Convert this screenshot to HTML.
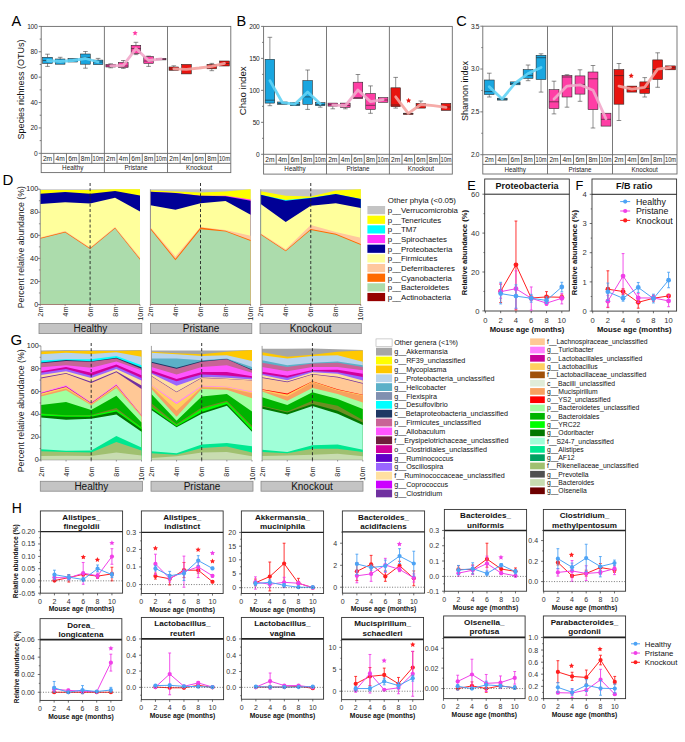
<!DOCTYPE html>
<html><head><meta charset="utf-8"><style>
html,body{margin:0;padding:0;background:#fff;}
svg{display:block;font-family:"Liberation Sans", sans-serif;}
</style></head><body>
<svg width="685" height="742" viewBox="0 0 685 742">
<rect x="0" y="0" width="685" height="742" fill="#fff"/>
<text x="11.5" y="26.2" font-size="14.5" text-anchor="start" fill="#000">A</text>
<g stroke="#6a6a6a" stroke-width="0.9" fill="none">
<rect x="41.2" y="26.4" width="189.6" height="146.2"/>
<line x1="104.4" y1="26.4" x2="104.4" y2="172.6"/>
<line x1="167.5" y1="26.4" x2="167.5" y2="172.6"/>
<line x1="41.2" y1="153.4" x2="230.8" y2="153.4"/>
<line x1="41.2" y1="163.4" x2="230.8" y2="163.4"/>
<line x1="53.84" y1="153.4" x2="53.84" y2="163.4"/>
<line x1="66.48" y1="153.4" x2="66.48" y2="163.4"/>
<line x1="79.12" y1="153.4" x2="79.12" y2="163.4"/>
<line x1="91.76" y1="153.4" x2="91.76" y2="163.4"/>
<line x1="117.02" y1="153.4" x2="117.02" y2="163.4"/>
<line x1="129.64" y1="153.4" x2="129.64" y2="163.4"/>
<line x1="142.26" y1="153.4" x2="142.26" y2="163.4"/>
<line x1="154.88" y1="153.4" x2="154.88" y2="163.4"/>
<line x1="180.16" y1="153.4" x2="180.16" y2="163.4"/>
<line x1="192.82" y1="153.4" x2="192.82" y2="163.4"/>
<line x1="205.48" y1="153.4" x2="205.48" y2="163.4"/>
<line x1="218.14" y1="153.4" x2="218.14" y2="163.4"/>
<line x1="38.7" y1="153.3" x2="41.2" y2="153.3"/>
<line x1="38.7" y1="127.92" x2="41.2" y2="127.92"/>
<line x1="38.7" y1="102.54" x2="41.2" y2="102.54"/>
<line x1="38.7" y1="77.16" x2="41.2" y2="77.16"/>
<line x1="38.7" y1="51.78" x2="41.2" y2="51.78"/>
<line x1="38.7" y1="26.4" x2="41.2" y2="26.4"/>
<line x1="39.7" y1="140.61" x2="41.2" y2="140.61"/>
<line x1="39.7" y1="115.23" x2="41.2" y2="115.23"/>
<line x1="39.7" y1="89.85" x2="41.2" y2="89.85"/>
<line x1="39.7" y1="64.47" x2="41.2" y2="64.47"/>
<line x1="39.7" y1="39.09" x2="41.2" y2="39.09"/>
</g>
<text x="37.3" y="155.6" font-size="6.6" text-anchor="end" fill="#222" letter-spacing="-0.3">0</text>
<text x="37.3" y="130.22" font-size="6.6" text-anchor="end" fill="#222" letter-spacing="-0.3">20</text>
<text x="37.3" y="104.84" font-size="6.6" text-anchor="end" fill="#222" letter-spacing="-0.3">40</text>
<text x="37.3" y="79.46" font-size="6.6" text-anchor="end" fill="#222" letter-spacing="-0.3">60</text>
<text x="37.3" y="54.08" font-size="6.6" text-anchor="end" fill="#222" letter-spacing="-0.3">80</text>
<text x="37.3" y="28.7" font-size="6.6" text-anchor="end" fill="#222" letter-spacing="-0.3">100</text>
<text x="47.52" y="160.7" font-size="6.6" text-anchor="middle" fill="#222">2m</text>
<text x="60.16" y="160.7" font-size="6.6" text-anchor="middle" fill="#222">4m</text>
<text x="72.8" y="160.7" font-size="6.6" text-anchor="middle" fill="#222">6m</text>
<text x="85.44" y="160.7" font-size="6.6" text-anchor="middle" fill="#222">8m</text>
<text x="98.08" y="160.7" font-size="6.6" text-anchor="middle" fill="#222" textLength="11" lengthAdjust="spacingAndGlyphs">10m</text>
<text x="72.8" y="170.3" font-size="6.3" text-anchor="middle" fill="#222">Healthy</text>
<text x="110.71" y="160.7" font-size="6.6" text-anchor="middle" fill="#222">2m</text>
<text x="123.33" y="160.7" font-size="6.6" text-anchor="middle" fill="#222">4m</text>
<text x="135.95" y="160.7" font-size="6.6" text-anchor="middle" fill="#222">6m</text>
<text x="148.57" y="160.7" font-size="6.6" text-anchor="middle" fill="#222">8m</text>
<text x="161.19" y="160.7" font-size="6.6" text-anchor="middle" fill="#222" textLength="11" lengthAdjust="spacingAndGlyphs">10m</text>
<text x="135.95" y="170.3" font-size="6.3" text-anchor="middle" fill="#222">Pristane</text>
<text x="173.83" y="160.7" font-size="6.6" text-anchor="middle" fill="#222">2m</text>
<text x="186.49" y="160.7" font-size="6.6" text-anchor="middle" fill="#222">4m</text>
<text x="199.15" y="160.7" font-size="6.6" text-anchor="middle" fill="#222">6m</text>
<text x="211.81" y="160.7" font-size="6.6" text-anchor="middle" fill="#222">8m</text>
<text x="224.47" y="160.7" font-size="6.6" text-anchor="middle" fill="#222" textLength="11" lengthAdjust="spacingAndGlyphs">10m</text>
<text x="199.15" y="170.3" font-size="6.3" text-anchor="middle" fill="#222">Knockout</text>
<text x="23.8" y="89.5" font-size="9.3" text-anchor="middle" fill="#111" transform="rotate(-90 23.8 89.5)" textLength="100" lengthAdjust="spacingAndGlyphs">Species richness (OTUs)</text>
<g stroke="#222" stroke-width="0.55">
<line x1="47.52" y1="54.2" x2="47.52" y2="57.3" stroke="#333" stroke-width="0.55"/>
<line x1="45.22" y1="54.2" x2="49.82" y2="54.2" stroke="#333" stroke-width="0.55"/>
<line x1="47.52" y1="66.4" x2="47.52" y2="63.4" stroke="#333" stroke-width="0.55"/>
<line x1="45.22" y1="66.4" x2="49.82" y2="66.4" stroke="#333" stroke-width="0.55"/>
<rect x="42.72" y="57.3" width="9.61" height="6.1" fill="#19a6e0" stroke="#222" stroke-width="0.55"/>
<line x1="42.72" y1="60.5" x2="52.32" y2="60.5" stroke="#222" stroke-width="0.6"/>
</g>
<g stroke="#222" stroke-width="0.55">
<line x1="60.16" y1="57.3" x2="60.16" y2="59" stroke="#333" stroke-width="0.55"/>
<line x1="57.86" y1="57.3" x2="62.46" y2="57.3" stroke="#333" stroke-width="0.55"/>
<rect x="55.36" y="59" width="9.61" height="5.2" fill="#19a6e0" stroke="#222" stroke-width="0.55"/>
<line x1="55.36" y1="62" x2="64.96" y2="62" stroke="#222" stroke-width="0.6"/>
</g>
<g stroke="#222" stroke-width="0.55">
<rect x="68" y="58.5" width="9.61" height="3.5" fill="#19a6e0" stroke="#222" stroke-width="0.55"/>
<line x1="68" y1="60.5" x2="77.6" y2="60.5" stroke="#222" stroke-width="0.6"/>
</g>
<g stroke="#222" stroke-width="0.55">
<line x1="85.44" y1="51.5" x2="85.44" y2="54" stroke="#333" stroke-width="0.55"/>
<line x1="83.14" y1="51.5" x2="87.74" y2="51.5" stroke="#333" stroke-width="0.55"/>
<line x1="85.44" y1="68.2" x2="85.44" y2="64.2" stroke="#333" stroke-width="0.55"/>
<line x1="83.14" y1="68.2" x2="87.74" y2="68.2" stroke="#333" stroke-width="0.55"/>
<rect x="80.64" y="54" width="9.61" height="10.2" fill="#19a6e0" stroke="#222" stroke-width="0.55"/>
<line x1="80.64" y1="57.4" x2="90.24" y2="57.4" stroke="#222" stroke-width="0.6"/>
</g>
<g stroke="#222" stroke-width="0.55">
<line x1="98.08" y1="58.4" x2="98.08" y2="60.1" stroke="#333" stroke-width="0.55"/>
<line x1="95.78" y1="58.4" x2="100.38" y2="58.4" stroke="#333" stroke-width="0.55"/>
<rect x="93.28" y="60.1" width="9.61" height="4.5" fill="#19a6e0" stroke="#222" stroke-width="0.55"/>
<line x1="93.28" y1="62" x2="102.88" y2="62" stroke="#222" stroke-width="0.6"/>
</g>
<g stroke="#222" stroke-width="0.55">
<line x1="110.71" y1="63.8" x2="110.71" y2="64.4" stroke="#333" stroke-width="0.55"/>
<line x1="108.41" y1="63.8" x2="113.01" y2="63.8" stroke="#333" stroke-width="0.55"/>
<line x1="110.71" y1="67.8" x2="110.71" y2="67" stroke="#333" stroke-width="0.55"/>
<line x1="108.41" y1="67.8" x2="113.01" y2="67.8" stroke="#333" stroke-width="0.55"/>
<rect x="105.91" y="64.4" width="9.59" height="2.6" fill="#ff3ea5" stroke="#222" stroke-width="0.55"/>
<line x1="105.91" y1="65.8" x2="115.51" y2="65.8" stroke="#222" stroke-width="0.6"/>
</g>
<g stroke="#222" stroke-width="0.55">
<line x1="123.33" y1="60.5" x2="123.33" y2="62.4" stroke="#333" stroke-width="0.55"/>
<line x1="121.03" y1="60.5" x2="125.63" y2="60.5" stroke="#333" stroke-width="0.55"/>
<line x1="123.33" y1="68.4" x2="123.33" y2="67.4" stroke="#333" stroke-width="0.55"/>
<line x1="121.03" y1="68.4" x2="125.63" y2="68.4" stroke="#333" stroke-width="0.55"/>
<rect x="118.53" y="62.4" width="9.59" height="5" fill="#ff3ea5" stroke="#222" stroke-width="0.55"/>
<line x1="118.53" y1="66" x2="128.13" y2="66" stroke="#222" stroke-width="0.6"/>
</g>
<g stroke="#222" stroke-width="0.55">
<line x1="135.95" y1="42.3" x2="135.95" y2="45.3" stroke="#333" stroke-width="0.55"/>
<line x1="133.65" y1="42.3" x2="138.25" y2="42.3" stroke="#333" stroke-width="0.55"/>
<line x1="135.95" y1="54.6" x2="135.95" y2="53.6" stroke="#333" stroke-width="0.55"/>
<line x1="133.65" y1="54.6" x2="138.25" y2="54.6" stroke="#333" stroke-width="0.55"/>
<rect x="131.15" y="45.3" width="9.59" height="8.3" fill="#ff3ea5" stroke="#222" stroke-width="0.55"/>
<line x1="131.15" y1="48.6" x2="140.75" y2="48.6" stroke="#222" stroke-width="0.6"/>
</g>
<g stroke="#222" stroke-width="0.55">
<line x1="148.57" y1="56.1" x2="148.57" y2="56.5" stroke="#333" stroke-width="0.55"/>
<line x1="146.27" y1="56.1" x2="150.87" y2="56.1" stroke="#333" stroke-width="0.55"/>
<line x1="148.57" y1="66.4" x2="148.57" y2="63.4" stroke="#333" stroke-width="0.55"/>
<line x1="146.27" y1="66.4" x2="150.87" y2="66.4" stroke="#333" stroke-width="0.55"/>
<rect x="143.77" y="56.5" width="9.59" height="6.9" fill="#ff3ea5" stroke="#222" stroke-width="0.55"/>
<line x1="143.77" y1="61" x2="153.37" y2="61" stroke="#222" stroke-width="0.6"/>
</g>
<g stroke="#222" stroke-width="0.55">
<rect x="156.39" y="58.5" width="9.59" height="1.4" fill="#ff3ea5" stroke="#222" stroke-width="0.55"/>
<line x1="156.39" y1="59.2" x2="165.99" y2="59.2" stroke="#222" stroke-width="0.6"/>
</g>
<g stroke="#222" stroke-width="0.55">
<line x1="173.83" y1="65.8" x2="173.83" y2="67" stroke="#333" stroke-width="0.55"/>
<line x1="171.53" y1="65.8" x2="176.13" y2="65.8" stroke="#333" stroke-width="0.55"/>
<rect x="169.02" y="67" width="9.62" height="3.3" fill="#e8140f" stroke="#222" stroke-width="0.55"/>
<line x1="169.02" y1="69" x2="178.64" y2="69" stroke="#222" stroke-width="0.6"/>
</g>
<g stroke="#222" stroke-width="0.55">
<rect x="181.68" y="64.4" width="9.62" height="9.5" fill="#e8140f" stroke="#222" stroke-width="0.55"/>
<line x1="181.68" y1="69" x2="191.3" y2="69" stroke="#222" stroke-width="0.6"/>
</g>
<g stroke="#222" stroke-width="0.55">
<line x1="211.81" y1="63.4" x2="211.81" y2="64.4" stroke="#333" stroke-width="0.55"/>
<line x1="209.51" y1="63.4" x2="214.11" y2="63.4" stroke="#333" stroke-width="0.55"/>
<line x1="211.81" y1="70.7" x2="211.81" y2="68.8" stroke="#333" stroke-width="0.55"/>
<line x1="209.51" y1="70.7" x2="214.11" y2="70.7" stroke="#333" stroke-width="0.55"/>
<rect x="207" y="64.4" width="9.62" height="4.4" fill="#e8140f" stroke="#222" stroke-width="0.55"/>
<line x1="207" y1="66.5" x2="216.62" y2="66.5" stroke="#222" stroke-width="0.6"/>
</g>
<g stroke="#222" stroke-width="0.55">
<rect x="219.66" y="61" width="9.62" height="5" fill="#e8140f" stroke="#222" stroke-width="0.55"/>
<line x1="219.66" y1="63.5" x2="229.28" y2="63.5" stroke="#222" stroke-width="0.6"/>
</g>
<polyline points="47.52,60.5 60.16,61.5 72.8,60.5 85.44,58.5 98.08,62" fill="none" stroke="#62d4f6" stroke-width="2.8" stroke-linejoin="round" stroke-linecap="round" opacity="0.9"/>
<polyline points="110.71,65.8 123.33,65.4 135.95,48.6 148.57,60.5 161.19,58.9" fill="none" stroke="#f2a9cb" stroke-width="2.8" stroke-linejoin="round" stroke-linecap="round" opacity="0.9"/>
<polyline points="173.83,68.8 186.49,69.3 199.15,68 211.81,66.4 224.47,63.4" fill="none" stroke="#f5a3a0" stroke-width="2.8" stroke-linejoin="round" stroke-linecap="round" opacity="0.9"/>
<polygon points="135.1,30.42 135.88,32.11 137.72,32.33 136.36,33.58 136.72,35.4 135.1,34.49 133.48,35.4 133.84,33.58 132.48,32.33 134.32,32.11" fill="#ff3ea5" stroke="none" stroke-width="0.5"/>
<text x="236.5" y="26.2" font-size="14.5" text-anchor="start" fill="#000">B</text>
<g stroke="#6a6a6a" stroke-width="0.9" fill="none">
<rect x="263.6" y="26.4" width="188.7" height="147.7"/>
<line x1="326.5" y1="26.4" x2="326.5" y2="174.1"/>
<line x1="389.4" y1="26.4" x2="389.4" y2="174.1"/>
<line x1="263.6" y1="154.3" x2="452.3" y2="154.3"/>
<line x1="263.6" y1="164.2" x2="452.3" y2="164.2"/>
<line x1="276.18" y1="154.3" x2="276.18" y2="164.2"/>
<line x1="288.76" y1="154.3" x2="288.76" y2="164.2"/>
<line x1="301.34" y1="154.3" x2="301.34" y2="164.2"/>
<line x1="313.92" y1="154.3" x2="313.92" y2="164.2"/>
<line x1="339.08" y1="154.3" x2="339.08" y2="164.2"/>
<line x1="351.66" y1="154.3" x2="351.66" y2="164.2"/>
<line x1="364.24" y1="154.3" x2="364.24" y2="164.2"/>
<line x1="376.82" y1="154.3" x2="376.82" y2="164.2"/>
<line x1="401.98" y1="154.3" x2="401.98" y2="164.2"/>
<line x1="414.56" y1="154.3" x2="414.56" y2="164.2"/>
<line x1="427.14" y1="154.3" x2="427.14" y2="164.2"/>
<line x1="439.72" y1="154.3" x2="439.72" y2="164.2"/>
<line x1="261.1" y1="154.3" x2="263.6" y2="154.3"/>
<line x1="261.1" y1="122.33" x2="263.6" y2="122.33"/>
<line x1="261.1" y1="90.35" x2="263.6" y2="90.35"/>
<line x1="261.1" y1="58.38" x2="263.6" y2="58.38"/>
<line x1="261.1" y1="26.4" x2="263.6" y2="26.4"/>
<line x1="262.1" y1="138.31" x2="263.6" y2="138.31"/>
<line x1="262.1" y1="106.34" x2="263.6" y2="106.34"/>
<line x1="262.1" y1="74.36" x2="263.6" y2="74.36"/>
<line x1="262.1" y1="42.39" x2="263.6" y2="42.39"/>
</g>
<text x="259.4" y="156.6" font-size="6.6" text-anchor="end" fill="#222" letter-spacing="-0.3">0</text>
<text x="259.4" y="124.63" font-size="6.6" text-anchor="end" fill="#222" letter-spacing="-0.3">50</text>
<text x="259.4" y="92.65" font-size="6.6" text-anchor="end" fill="#222" letter-spacing="-0.3">100</text>
<text x="259.4" y="60.68" font-size="6.6" text-anchor="end" fill="#222" letter-spacing="-0.3">150</text>
<text x="259.4" y="28.7" font-size="6.6" text-anchor="end" fill="#222" letter-spacing="-0.3">200</text>
<text x="269.89" y="161.55" font-size="6.6" text-anchor="middle" fill="#222">2m</text>
<text x="282.47" y="161.55" font-size="6.6" text-anchor="middle" fill="#222">4m</text>
<text x="295.05" y="161.55" font-size="6.6" text-anchor="middle" fill="#222">6m</text>
<text x="307.63" y="161.55" font-size="6.6" text-anchor="middle" fill="#222">8m</text>
<text x="320.21" y="161.55" font-size="6.6" text-anchor="middle" fill="#222" textLength="11" lengthAdjust="spacingAndGlyphs">10m</text>
<text x="295.05" y="171.45" font-size="6.3" text-anchor="middle" fill="#222">Healthy</text>
<text x="332.79" y="161.55" font-size="6.6" text-anchor="middle" fill="#222">2m</text>
<text x="345.37" y="161.55" font-size="6.6" text-anchor="middle" fill="#222">4m</text>
<text x="357.95" y="161.55" font-size="6.6" text-anchor="middle" fill="#222">6m</text>
<text x="370.53" y="161.55" font-size="6.6" text-anchor="middle" fill="#222">8m</text>
<text x="383.11" y="161.55" font-size="6.6" text-anchor="middle" fill="#222" textLength="11" lengthAdjust="spacingAndGlyphs">10m</text>
<text x="357.95" y="171.45" font-size="6.3" text-anchor="middle" fill="#222">Pristane</text>
<text x="395.69" y="161.55" font-size="6.6" text-anchor="middle" fill="#222">2m</text>
<text x="408.27" y="161.55" font-size="6.6" text-anchor="middle" fill="#222">4m</text>
<text x="420.85" y="161.55" font-size="6.6" text-anchor="middle" fill="#222">6m</text>
<text x="433.43" y="161.55" font-size="6.6" text-anchor="middle" fill="#222">8m</text>
<text x="446.01" y="161.55" font-size="6.6" text-anchor="middle" fill="#222" textLength="11" lengthAdjust="spacingAndGlyphs">10m</text>
<text x="420.85" y="171.45" font-size="6.3" text-anchor="middle" fill="#222">Knockout</text>
<text x="246" y="90.8" font-size="9.3" text-anchor="middle" fill="#111" transform="rotate(-90 246 90.8)" textLength="49" lengthAdjust="spacingAndGlyphs">Chao index</text>
<g stroke="#222" stroke-width="0.55">
<line x1="269.89" y1="37.3" x2="269.89" y2="59.3" stroke="#333" stroke-width="0.55"/>
<line x1="267.59" y1="37.3" x2="272.19" y2="37.3" stroke="#333" stroke-width="0.55"/>
<line x1="269.89" y1="105.7" x2="269.89" y2="103.1" stroke="#333" stroke-width="0.55"/>
<line x1="267.59" y1="105.7" x2="272.19" y2="105.7" stroke="#333" stroke-width="0.55"/>
<rect x="265.11" y="59.3" width="9.56" height="43.8" fill="#19a6e0" stroke="#222" stroke-width="0.55"/>
<line x1="265.11" y1="100.2" x2="274.67" y2="100.2" stroke="#222" stroke-width="0.6"/>
</g>
<g stroke="#222" stroke-width="0.55">
<rect x="277.69" y="102" width="9.56" height="2.3" fill="#19a6e0" stroke="#222" stroke-width="0.55"/>
<line x1="277.69" y1="103.5" x2="287.25" y2="103.5" stroke="#222" stroke-width="0.6"/>
</g>
<g stroke="#222" stroke-width="0.55">
<rect x="290.27" y="102.7" width="9.56" height="3" fill="#19a6e0" stroke="#222" stroke-width="0.55"/>
<line x1="290.27" y1="104.5" x2="299.83" y2="104.5" stroke="#222" stroke-width="0.6"/>
</g>
<g stroke="#222" stroke-width="0.55">
<line x1="307.63" y1="70" x2="307.63" y2="80.6" stroke="#333" stroke-width="0.55"/>
<line x1="305.33" y1="70" x2="309.93" y2="70" stroke="#333" stroke-width="0.55"/>
<line x1="307.63" y1="109.4" x2="307.63" y2="104.3" stroke="#333" stroke-width="0.55"/>
<line x1="305.33" y1="109.4" x2="309.93" y2="109.4" stroke="#333" stroke-width="0.55"/>
<rect x="302.85" y="80.6" width="9.56" height="23.7" fill="#19a6e0" stroke="#222" stroke-width="0.55"/>
<line x1="302.85" y1="96.9" x2="312.41" y2="96.9" stroke="#222" stroke-width="0.6"/>
</g>
<g stroke="#222" stroke-width="0.55">
<line x1="320.21" y1="107.2" x2="320.21" y2="105.7" stroke="#333" stroke-width="0.55"/>
<line x1="317.91" y1="107.2" x2="322.51" y2="107.2" stroke="#333" stroke-width="0.55"/>
<rect x="315.43" y="102.7" width="9.56" height="3" fill="#19a6e0" stroke="#222" stroke-width="0.55"/>
<line x1="315.43" y1="104.5" x2="324.99" y2="104.5" stroke="#222" stroke-width="0.6"/>
</g>
<g stroke="#222" stroke-width="0.55">
<line x1="332.79" y1="108.8" x2="332.79" y2="106.1" stroke="#333" stroke-width="0.55"/>
<line x1="330.49" y1="108.8" x2="335.09" y2="108.8" stroke="#333" stroke-width="0.55"/>
<rect x="328.01" y="103.1" width="9.56" height="3" fill="#ff3ea5" stroke="#222" stroke-width="0.55"/>
<line x1="328.01" y1="104.6" x2="337.57" y2="104.6" stroke="#222" stroke-width="0.6"/>
</g>
<g stroke="#222" stroke-width="0.55">
<line x1="345.37" y1="108.8" x2="345.37" y2="107.4" stroke="#333" stroke-width="0.55"/>
<line x1="343.07" y1="108.8" x2="347.67" y2="108.8" stroke="#333" stroke-width="0.55"/>
<rect x="340.59" y="103.1" width="9.56" height="4.3" fill="#ff3ea5" stroke="#222" stroke-width="0.55"/>
<line x1="340.59" y1="105.5" x2="350.15" y2="105.5" stroke="#222" stroke-width="0.6"/>
</g>
<g stroke="#222" stroke-width="0.55">
<line x1="357.95" y1="74.5" x2="357.95" y2="82.2" stroke="#333" stroke-width="0.55"/>
<line x1="355.65" y1="74.5" x2="360.25" y2="74.5" stroke="#333" stroke-width="0.55"/>
<rect x="353.17" y="82.2" width="9.56" height="16.4" fill="#ff3ea5" stroke="#222" stroke-width="0.55"/>
<line x1="353.17" y1="97.6" x2="362.73" y2="97.6" stroke="#222" stroke-width="0.6"/>
</g>
<g stroke="#222" stroke-width="0.55">
<line x1="370.53" y1="85.9" x2="370.53" y2="93.5" stroke="#333" stroke-width="0.55"/>
<line x1="368.23" y1="85.9" x2="372.83" y2="85.9" stroke="#333" stroke-width="0.55"/>
<line x1="370.53" y1="113.3" x2="370.53" y2="109.4" stroke="#333" stroke-width="0.55"/>
<line x1="368.23" y1="113.3" x2="372.83" y2="113.3" stroke="#333" stroke-width="0.55"/>
<rect x="365.75" y="93.5" width="9.56" height="15.9" fill="#ff3ea5" stroke="#222" stroke-width="0.55"/>
<line x1="365.75" y1="105.3" x2="375.31" y2="105.3" stroke="#222" stroke-width="0.6"/>
</g>
<g stroke="#222" stroke-width="0.55">
<rect x="378.33" y="97.6" width="9.56" height="4.7" fill="#ff3ea5" stroke="#222" stroke-width="0.55"/>
<line x1="378.33" y1="100" x2="387.89" y2="100" stroke="#222" stroke-width="0.6"/>
</g>
<g stroke="#222" stroke-width="0.55">
<line x1="395.69" y1="77.4" x2="395.69" y2="87.8" stroke="#333" stroke-width="0.55"/>
<line x1="393.39" y1="77.4" x2="397.99" y2="77.4" stroke="#333" stroke-width="0.55"/>
<line x1="395.69" y1="108.1" x2="395.69" y2="106.7" stroke="#333" stroke-width="0.55"/>
<line x1="393.39" y1="108.1" x2="397.99" y2="108.1" stroke="#333" stroke-width="0.55"/>
<rect x="390.91" y="87.8" width="9.56" height="18.9" fill="#e8140f" stroke="#222" stroke-width="0.55"/>
<line x1="390.91" y1="105" x2="400.47" y2="105" stroke="#222" stroke-width="0.6"/>
</g>
<g stroke="#222" stroke-width="0.55">
<rect x="403.49" y="113.3" width="9.56" height="1.2" fill="#e8140f" stroke="#222" stroke-width="0.55"/>
<line x1="403.49" y1="113.3" x2="413.05" y2="113.3" stroke="#222" stroke-width="0.6"/>
</g>
<g stroke="#222" stroke-width="0.55">
<line x1="420.85" y1="101" x2="420.85" y2="103.4" stroke="#333" stroke-width="0.55"/>
<line x1="418.55" y1="101" x2="423.15" y2="101" stroke="#333" stroke-width="0.55"/>
<rect x="416.07" y="103.4" width="9.56" height="4.7" fill="#e8140f" stroke="#222" stroke-width="0.55"/>
<line x1="416.07" y1="105.5" x2="425.63" y2="105.5" stroke="#222" stroke-width="0.6"/>
</g>
<g stroke="#222" stroke-width="0.55">
<rect x="441.23" y="103.4" width="9.56" height="7" fill="#e8140f" stroke="#222" stroke-width="0.55"/>
<line x1="441.23" y1="107" x2="450.79" y2="107" stroke="#222" stroke-width="0.6"/>
</g>
<polyline points="269.89,80.6 282.47,102.7 295.05,104.1 307.63,92 320.21,103.7" fill="none" stroke="#62d4f6" stroke-width="2.8" stroke-linejoin="round" stroke-linecap="round" opacity="0.9"/>
<polyline points="332.79,105.1 345.37,105.7 357.95,90 370.53,101.6 383.11,99.6" fill="none" stroke="#f2a9cb" stroke-width="2.8" stroke-linejoin="round" stroke-linecap="round" opacity="0.9"/>
<polyline points="395.69,96.8 408.27,113.3 420.85,104.5 433.43,105.7 446.01,107.4" fill="none" stroke="#f5a3a0" stroke-width="2.8" stroke-linejoin="round" stroke-linecap="round" opacity="0.9"/>
<polygon points="408.6,97.83 409.38,99.51 411.22,99.73 409.86,100.98 410.22,102.8 408.6,101.89 406.98,102.8 407.34,100.98 405.98,99.73 407.82,99.51" fill="#e8140f" stroke="none" stroke-width="0.5"/>
<text x="456.3" y="26.2" font-size="14.5" text-anchor="start" fill="#000">C</text>
<g stroke="#6a6a6a" stroke-width="0.9" fill="none">
<rect x="482.8" y="26.2" width="194.2" height="147.8"/>
<line x1="547.5" y1="26.2" x2="547.5" y2="174"/>
<line x1="612.5" y1="26.2" x2="612.5" y2="174"/>
<line x1="482.8" y1="154.7" x2="677" y2="154.7"/>
<line x1="482.8" y1="164.4" x2="677" y2="164.4"/>
<line x1="495.74" y1="154.7" x2="495.74" y2="164.4"/>
<line x1="508.68" y1="154.7" x2="508.68" y2="164.4"/>
<line x1="521.62" y1="154.7" x2="521.62" y2="164.4"/>
<line x1="534.56" y1="154.7" x2="534.56" y2="164.4"/>
<line x1="560.5" y1="154.7" x2="560.5" y2="164.4"/>
<line x1="573.5" y1="154.7" x2="573.5" y2="164.4"/>
<line x1="586.5" y1="154.7" x2="586.5" y2="164.4"/>
<line x1="599.5" y1="154.7" x2="599.5" y2="164.4"/>
<line x1="625.4" y1="154.7" x2="625.4" y2="164.4"/>
<line x1="638.3" y1="154.7" x2="638.3" y2="164.4"/>
<line x1="651.2" y1="154.7" x2="651.2" y2="164.4"/>
<line x1="664.1" y1="154.7" x2="664.1" y2="164.4"/>
<line x1="480.3" y1="154.7" x2="482.8" y2="154.7"/>
<line x1="480.3" y1="111.87" x2="482.8" y2="111.87"/>
<line x1="480.3" y1="69.03" x2="482.8" y2="69.03"/>
<line x1="480.3" y1="26.2" x2="482.8" y2="26.2"/>
<line x1="481.3" y1="133.28" x2="482.8" y2="133.28"/>
<line x1="481.3" y1="90.45" x2="482.8" y2="90.45"/>
<line x1="481.3" y1="47.62" x2="482.8" y2="47.62"/>
</g>
<text x="479.2" y="157" font-size="6.6" text-anchor="end" fill="#222" letter-spacing="-0.3">2.0</text>
<text x="479.2" y="114.17" font-size="6.6" text-anchor="end" fill="#222" letter-spacing="-0.3">2.5</text>
<text x="479.2" y="71.33" font-size="6.6" text-anchor="end" fill="#222" letter-spacing="-0.3">3.0</text>
<text x="479.2" y="28.5" font-size="6.6" text-anchor="end" fill="#222" letter-spacing="-0.3">3.5</text>
<text x="489.27" y="161.85" font-size="6.6" text-anchor="middle" fill="#222">2m</text>
<text x="502.21" y="161.85" font-size="6.6" text-anchor="middle" fill="#222">4m</text>
<text x="515.15" y="161.85" font-size="6.6" text-anchor="middle" fill="#222">6m</text>
<text x="528.09" y="161.85" font-size="6.6" text-anchor="middle" fill="#222">8m</text>
<text x="541.03" y="161.85" font-size="6.6" text-anchor="middle" fill="#222" textLength="11" lengthAdjust="spacingAndGlyphs">10m</text>
<text x="515.15" y="171.5" font-size="6.3" text-anchor="middle" fill="#222">Healthy</text>
<text x="554" y="161.85" font-size="6.6" text-anchor="middle" fill="#222">2m</text>
<text x="567" y="161.85" font-size="6.6" text-anchor="middle" fill="#222">4m</text>
<text x="580" y="161.85" font-size="6.6" text-anchor="middle" fill="#222">6m</text>
<text x="593" y="161.85" font-size="6.6" text-anchor="middle" fill="#222">8m</text>
<text x="606" y="161.85" font-size="6.6" text-anchor="middle" fill="#222" textLength="11" lengthAdjust="spacingAndGlyphs">10m</text>
<text x="580" y="171.5" font-size="6.3" text-anchor="middle" fill="#222">Pristane</text>
<text x="618.95" y="161.85" font-size="6.6" text-anchor="middle" fill="#222">2m</text>
<text x="631.85" y="161.85" font-size="6.6" text-anchor="middle" fill="#222">4m</text>
<text x="644.75" y="161.85" font-size="6.6" text-anchor="middle" fill="#222">6m</text>
<text x="657.65" y="161.85" font-size="6.6" text-anchor="middle" fill="#222">8m</text>
<text x="670.55" y="161.85" font-size="6.6" text-anchor="middle" fill="#222" textLength="11" lengthAdjust="spacingAndGlyphs">10m</text>
<text x="644.75" y="171.5" font-size="6.3" text-anchor="middle" fill="#222">Knockout</text>
<text x="467.5" y="91" font-size="9.3" text-anchor="middle" fill="#111" transform="rotate(-90 467.5 91)" textLength="60" lengthAdjust="spacingAndGlyphs">Shannon index</text>
<g stroke="#222" stroke-width="0.55">
<line x1="489.27" y1="73.2" x2="489.27" y2="80" stroke="#333" stroke-width="0.55"/>
<line x1="486.97" y1="73.2" x2="491.57" y2="73.2" stroke="#333" stroke-width="0.55"/>
<line x1="489.27" y1="97" x2="489.27" y2="94.5" stroke="#333" stroke-width="0.55"/>
<line x1="486.97" y1="97" x2="491.57" y2="97" stroke="#333" stroke-width="0.55"/>
<rect x="484.35" y="80" width="9.83" height="14.5" fill="#19a6e0" stroke="#222" stroke-width="0.55"/>
<line x1="484.35" y1="91.6" x2="494.19" y2="91.6" stroke="#222" stroke-width="0.6"/>
</g>
<g stroke="#222" stroke-width="0.55">
<rect x="497.29" y="98.2" width="9.83" height="1.9" fill="#19a6e0" stroke="#222" stroke-width="0.55"/>
<line x1="497.29" y1="99.2" x2="507.13" y2="99.2" stroke="#222" stroke-width="0.6"/>
</g>
<g stroke="#222" stroke-width="0.55">
<rect x="510.23" y="81.9" width="9.83" height="2.9" fill="#19a6e0" stroke="#222" stroke-width="0.55"/>
<line x1="510.23" y1="83.5" x2="520.07" y2="83.5" stroke="#222" stroke-width="0.6"/>
</g>
<g stroke="#222" stroke-width="0.55">
<line x1="528.09" y1="65" x2="528.09" y2="69.6" stroke="#333" stroke-width="0.55"/>
<line x1="525.79" y1="65" x2="530.39" y2="65" stroke="#333" stroke-width="0.55"/>
<line x1="528.09" y1="80.7" x2="528.09" y2="78.3" stroke="#333" stroke-width="0.55"/>
<line x1="525.79" y1="80.7" x2="530.39" y2="80.7" stroke="#333" stroke-width="0.55"/>
<rect x="523.17" y="69.6" width="9.83" height="8.7" fill="#19a6e0" stroke="#222" stroke-width="0.55"/>
<line x1="523.17" y1="75.6" x2="533.01" y2="75.6" stroke="#222" stroke-width="0.6"/>
</g>
<g stroke="#222" stroke-width="0.55">
<line x1="541.03" y1="53.8" x2="541.03" y2="55.3" stroke="#333" stroke-width="0.55"/>
<line x1="538.73" y1="53.8" x2="543.33" y2="53.8" stroke="#333" stroke-width="0.55"/>
<line x1="541.03" y1="92.1" x2="541.03" y2="79.5" stroke="#333" stroke-width="0.55"/>
<line x1="538.73" y1="92.1" x2="543.33" y2="92.1" stroke="#333" stroke-width="0.55"/>
<rect x="536.11" y="55.3" width="9.83" height="24.2" fill="#19a6e0" stroke="#222" stroke-width="0.55"/>
<line x1="536.11" y1="57.7" x2="545.95" y2="57.7" stroke="#222" stroke-width="0.6"/>
</g>
<g stroke="#222" stroke-width="0.55">
<line x1="554" y1="81.2" x2="554" y2="89.7" stroke="#333" stroke-width="0.55"/>
<line x1="551.7" y1="81.2" x2="556.3" y2="81.2" stroke="#333" stroke-width="0.55"/>
<line x1="554" y1="113.9" x2="554" y2="108.6" stroke="#333" stroke-width="0.55"/>
<line x1="551.7" y1="113.9" x2="556.3" y2="113.9" stroke="#333" stroke-width="0.55"/>
<rect x="549.06" y="89.7" width="9.88" height="18.9" fill="#ff3ea5" stroke="#222" stroke-width="0.55"/>
<line x1="549.06" y1="101.8" x2="558.94" y2="101.8" stroke="#222" stroke-width="0.6"/>
</g>
<g stroke="#222" stroke-width="0.55">
<line x1="567" y1="74.7" x2="567" y2="75.6" stroke="#333" stroke-width="0.55"/>
<line x1="564.7" y1="74.7" x2="569.3" y2="74.7" stroke="#333" stroke-width="0.55"/>
<line x1="567" y1="107.2" x2="567" y2="97" stroke="#333" stroke-width="0.55"/>
<line x1="564.7" y1="107.2" x2="569.3" y2="107.2" stroke="#333" stroke-width="0.55"/>
<rect x="562.06" y="75.6" width="9.88" height="21.4" fill="#ff3ea5" stroke="#222" stroke-width="0.55"/>
<line x1="562.06" y1="77" x2="571.94" y2="77" stroke="#222" stroke-width="0.6"/>
</g>
<g stroke="#222" stroke-width="0.55">
<line x1="580" y1="69.8" x2="580" y2="75.9" stroke="#333" stroke-width="0.55"/>
<line x1="577.7" y1="69.8" x2="582.3" y2="69.8" stroke="#333" stroke-width="0.55"/>
<line x1="580" y1="101.3" x2="580" y2="94.1" stroke="#333" stroke-width="0.55"/>
<line x1="577.7" y1="101.3" x2="582.3" y2="101.3" stroke="#333" stroke-width="0.55"/>
<rect x="575.06" y="75.9" width="9.88" height="18.2" fill="#ff3ea5" stroke="#222" stroke-width="0.55"/>
<line x1="575.06" y1="84.4" x2="584.94" y2="84.4" stroke="#222" stroke-width="0.6"/>
</g>
<g stroke="#222" stroke-width="0.55">
<line x1="593" y1="65.5" x2="593" y2="72" stroke="#333" stroke-width="0.55"/>
<line x1="590.7" y1="65.5" x2="595.3" y2="65.5" stroke="#333" stroke-width="0.55"/>
<line x1="593" y1="128" x2="593" y2="109.6" stroke="#333" stroke-width="0.55"/>
<line x1="590.7" y1="128" x2="595.3" y2="128" stroke="#333" stroke-width="0.55"/>
<rect x="588.06" y="72" width="9.88" height="37.6" fill="#ff3ea5" stroke="#222" stroke-width="0.55"/>
<line x1="588.06" y1="78.8" x2="597.94" y2="78.8" stroke="#222" stroke-width="0.6"/>
</g>
<g stroke="#222" stroke-width="0.55">
<rect x="601.06" y="113.2" width="9.88" height="12.9" fill="#ff3ea5" stroke="#222" stroke-width="0.55"/>
<line x1="601.06" y1="119.3" x2="610.94" y2="119.3" stroke="#222" stroke-width="0.6"/>
</g>
<g stroke="#222" stroke-width="0.55">
<line x1="618.95" y1="63.5" x2="618.95" y2="69.6" stroke="#333" stroke-width="0.55"/>
<line x1="616.65" y1="63.5" x2="621.25" y2="63.5" stroke="#333" stroke-width="0.55"/>
<line x1="618.95" y1="120.5" x2="618.95" y2="104.2" stroke="#333" stroke-width="0.55"/>
<line x1="616.65" y1="120.5" x2="621.25" y2="120.5" stroke="#333" stroke-width="0.55"/>
<rect x="614.05" y="69.6" width="9.8" height="34.6" fill="#e8140f" stroke="#222" stroke-width="0.55"/>
<line x1="614.05" y1="75.6" x2="623.85" y2="75.6" stroke="#222" stroke-width="0.6"/>
</g>
<g stroke="#222" stroke-width="0.55">
<rect x="626.95" y="86.1" width="9.8" height="6" fill="#e8140f" stroke="#222" stroke-width="0.55"/>
<line x1="626.95" y1="89.2" x2="636.75" y2="89.2" stroke="#222" stroke-width="0.6"/>
</g>
<g stroke="#222" stroke-width="0.55">
<line x1="644.75" y1="77.6" x2="644.75" y2="81.9" stroke="#333" stroke-width="0.55"/>
<line x1="642.45" y1="77.6" x2="647.05" y2="77.6" stroke="#333" stroke-width="0.55"/>
<line x1="644.75" y1="97" x2="644.75" y2="93.3" stroke="#333" stroke-width="0.55"/>
<line x1="642.45" y1="97" x2="647.05" y2="97" stroke="#333" stroke-width="0.55"/>
<rect x="639.85" y="81.9" width="9.8" height="11.4" fill="#e8140f" stroke="#222" stroke-width="0.55"/>
<line x1="639.85" y1="88.5" x2="649.65" y2="88.5" stroke="#222" stroke-width="0.6"/>
</g>
<g stroke="#222" stroke-width="0.55">
<line x1="657.65" y1="52.8" x2="657.65" y2="59.9" stroke="#333" stroke-width="0.55"/>
<line x1="655.35" y1="52.8" x2="659.95" y2="52.8" stroke="#333" stroke-width="0.55"/>
<line x1="657.65" y1="87.3" x2="657.65" y2="79.5" stroke="#333" stroke-width="0.55"/>
<line x1="655.35" y1="87.3" x2="659.95" y2="87.3" stroke="#333" stroke-width="0.55"/>
<rect x="652.75" y="59.9" width="9.8" height="19.6" fill="#e8140f" stroke="#222" stroke-width="0.55"/>
<line x1="652.75" y1="69.5" x2="662.55" y2="69.5" stroke="#222" stroke-width="0.6"/>
</g>
<g stroke="#222" stroke-width="0.55">
<rect x="665.65" y="65.9" width="9.8" height="3.9" fill="#e8140f" stroke="#222" stroke-width="0.55"/>
<line x1="665.65" y1="67.8" x2="675.45" y2="67.8" stroke="#222" stroke-width="0.6"/>
</g>
<polyline points="489.27,86.8 502.21,98.9 515.15,83.2 528.09,73.5 541.03,67.4" fill="none" stroke="#62d4f6" stroke-width="2.8" stroke-linejoin="round" stroke-linecap="round" opacity="0.9"/>
<polyline points="554,98.9 567,86.1 580,84.8 593,90.2 606,118.8" fill="none" stroke="#f2a9cb" stroke-width="2.8" stroke-linejoin="round" stroke-linecap="round" opacity="0.9"/>
<polyline points="618.95,86.1 631.85,89.2 644.75,87.3 657.65,69.1 670.55,67.4" fill="none" stroke="#f5a3a0" stroke-width="2.8" stroke-linejoin="round" stroke-linecap="round" opacity="0.9"/>
<polygon points="631.2,73.12 631.98,74.81 633.82,75.03 632.46,76.28 632.82,78.1 631.2,77.19 629.58,78.1 629.94,76.28 628.58,75.03 630.42,74.81" fill="#e8140f" stroke="none" stroke-width="0.5"/>
<text x="2.5" y="185.3" font-size="15" text-anchor="start" fill="#000">D</text>
<polygon points="40.2,304.5 40.2,189.2 65.15,189.2 90.1,189.2 115.05,189.2 140,189.2 140,304.5" fill="#c4c4c4" stroke="none" stroke-width="0.5"/>
<polygon points="40.2,304.5 40.2,190.01 65.15,190.01 90.1,190.01 115.05,189.2 140,189.2 140,304.5" fill="#ffff00" stroke="none" stroke-width="0.5"/>
<polygon points="40.2,304.5 40.2,193.81 65.15,192.08 90.1,193.81 115.05,190.93 140,195.54 140,304.5" fill="#000096" stroke="none" stroke-width="0.5"/>
<polygon points="40.2,304.5 40.2,204.07 65.15,202.34 90.1,203.38 115.05,197.73 140,211.45 140,304.5" fill="#ffff9c" stroke="none" stroke-width="0.5"/>
<polygon points="40.2,304.5 40.2,237.4 65.15,230.94 90.1,247.43 115.05,227.02 140,257.46 140,304.5" fill="#ffc89e" stroke="none" stroke-width="0.5"/>
<polygon points="40.2,304.5 40.2,238.09 65.15,231.75 90.1,248.23 115.05,227.83 140,258.84 140,304.5" fill="#ff6a00" stroke="none" stroke-width="0.5"/>
<polygon points="40.2,304.5 40.2,238.78 65.15,232.44 90.1,249.04 115.05,228.52 140,259.76 140,304.5" fill="#acdcac" stroke="none" stroke-width="0.5"/>
<polygon points="40.2,304.5 40.2,304.04 65.15,304.04 90.1,304.04 115.05,304.04 140,304.04 140,304.5" fill="#960000" stroke="none" stroke-width="0.5"/>
<line x1="40.2" y1="189.2" x2="40.2" y2="305" stroke="#8a8a8a" stroke-width="0.8"/>
<line x1="40.2" y1="304.5" x2="140" y2="304.5" stroke="#9a9a9a" stroke-width="0.6"/>
<line x1="40.2" y1="304.5" x2="40.2" y2="306" stroke="#555" stroke-width="0.6"/>
<line x1="65.15" y1="304.5" x2="65.15" y2="306" stroke="#555" stroke-width="0.6"/>
<line x1="90.1" y1="304.5" x2="90.1" y2="306" stroke="#555" stroke-width="0.6"/>
<line x1="115.05" y1="304.5" x2="115.05" y2="306" stroke="#555" stroke-width="0.6"/>
<line x1="140" y1="304.5" x2="140" y2="306" stroke="#555" stroke-width="0.6"/>
<line x1="90.1" y1="183" x2="90.1" y2="305.5" stroke="#222" stroke-width="0.9" stroke-dasharray="3,2.2"/>
<polygon points="150.4,304.5 150.4,189.2 175.45,189.2 200.5,189.2 225.55,189.2 250.6,189.2 250.6,304.5" fill="#c4c4c4" stroke="none" stroke-width="0.5"/>
<polygon points="150.4,304.5 150.4,190.35 175.45,191.51 200.5,192.43 225.55,191.51 250.6,189.2 250.6,304.5" fill="#ffff00" stroke="none" stroke-width="0.5"/>
<polygon points="150.4,304.5 150.4,191.85 175.45,193 200.5,195.66 225.55,195.77 250.6,199.58 250.6,304.5" fill="#ff33ff" stroke="none" stroke-width="0.5"/>
<polygon points="150.4,304.5 150.4,191.85 175.45,193 200.5,195.77 225.55,196.23 250.6,200.85 250.6,304.5" fill="#000096" stroke="none" stroke-width="0.5"/>
<polygon points="150.4,304.5 150.4,205.23 175.45,209.72 200.5,203.27 225.55,201.08 250.6,214.8 250.6,304.5" fill="#ffff9c" stroke="none" stroke-width="0.5"/>
<polygon points="150.4,304.5 150.4,227.36 175.45,256.42 200.5,227.02 225.55,229.9 250.6,235.67 250.6,304.5" fill="#ffc89e" stroke="none" stroke-width="0.5"/>
<polygon points="150.4,304.5 150.4,228.06 175.45,258.84 200.5,227.59 225.55,230.71 250.6,239.93 250.6,304.5" fill="#ff6a00" stroke="none" stroke-width="0.5"/>
<polygon points="150.4,304.5 150.4,229.21 175.45,260.34 200.5,229.21 225.55,231.52 250.6,241.08 250.6,304.5" fill="#acdcac" stroke="none" stroke-width="0.5"/>
<polygon points="150.4,304.5 150.4,304.04 175.45,304.04 200.5,304.04 225.55,304.04 250.6,304.04 250.6,304.5" fill="#960000" stroke="none" stroke-width="0.5"/>
<line x1="150.4" y1="189.2" x2="150.4" y2="305" stroke="#8a8a8a" stroke-width="0.8"/>
<line x1="150.4" y1="304.5" x2="250.6" y2="304.5" stroke="#9a9a9a" stroke-width="0.6"/>
<line x1="150.4" y1="304.5" x2="150.4" y2="306" stroke="#555" stroke-width="0.6"/>
<line x1="175.45" y1="304.5" x2="175.45" y2="306" stroke="#555" stroke-width="0.6"/>
<line x1="200.5" y1="304.5" x2="200.5" y2="306" stroke="#555" stroke-width="0.6"/>
<line x1="225.55" y1="304.5" x2="225.55" y2="306" stroke="#555" stroke-width="0.6"/>
<line x1="250.6" y1="304.5" x2="250.6" y2="306" stroke="#555" stroke-width="0.6"/>
<line x1="200.5" y1="183" x2="200.5" y2="305.5" stroke="#222" stroke-width="0.9" stroke-dasharray="3,2.2"/>
<polygon points="260.7,304.5 260.7,189.2 285.73,189.2 310.75,189.2 335.77,189.2 360.8,189.2 360.8,304.5" fill="#c4c4c4" stroke="none" stroke-width="0.5"/>
<polygon points="260.7,304.5 260.7,191.16 285.73,195.77 310.75,196.58 335.77,190.47 360.8,189.2 360.8,304.5" fill="#ffff00" stroke="none" stroke-width="0.5"/>
<polygon points="260.7,304.5 260.7,194.73 285.73,200.04 310.75,197.85 335.77,193.93 360.8,199 360.8,304.5" fill="#00ffff" stroke="none" stroke-width="0.5"/>
<polygon points="260.7,304.5 260.7,194.73 285.73,200.73 310.75,198.08 335.77,193.93 360.8,199 360.8,304.5" fill="#000096" stroke="none" stroke-width="0.5"/>
<polygon points="260.7,304.5 260.7,203.96 285.73,222.06 310.75,205.8 335.77,203.27 360.8,207.88 360.8,304.5" fill="#ffff9c" stroke="none" stroke-width="0.5"/>
<polygon points="260.7,304.5 260.7,233.13 285.73,249.16 310.75,225.06 335.77,232.09 360.8,237.86 360.8,304.5" fill="#ffc89e" stroke="none" stroke-width="0.5"/>
<polygon points="260.7,304.5 260.7,234.05 285.73,250.54 310.75,228.98 335.77,233.82 360.8,243.97 360.8,304.5" fill="#ff6a00" stroke="none" stroke-width="0.5"/>
<polygon points="260.7,304.5 260.7,234.63 285.73,251.35 310.75,229.9 335.77,234.63 360.8,244.89 360.8,304.5" fill="#acdcac" stroke="none" stroke-width="0.5"/>
<polygon points="260.7,304.5 260.7,304.04 285.73,304.04 310.75,304.04 335.77,304.04 360.8,304.04 360.8,304.5" fill="#960000" stroke="none" stroke-width="0.5"/>
<line x1="260.7" y1="189.2" x2="260.7" y2="305" stroke="#8a8a8a" stroke-width="0.8"/>
<line x1="260.7" y1="304.5" x2="360.8" y2="304.5" stroke="#9a9a9a" stroke-width="0.6"/>
<line x1="260.7" y1="304.5" x2="260.7" y2="306" stroke="#555" stroke-width="0.6"/>
<line x1="285.73" y1="304.5" x2="285.73" y2="306" stroke="#555" stroke-width="0.6"/>
<line x1="310.75" y1="304.5" x2="310.75" y2="306" stroke="#555" stroke-width="0.6"/>
<line x1="335.77" y1="304.5" x2="335.77" y2="306" stroke="#555" stroke-width="0.6"/>
<line x1="360.8" y1="304.5" x2="360.8" y2="306" stroke="#555" stroke-width="0.6"/>
<line x1="310.75" y1="183" x2="310.75" y2="305.5" stroke="#222" stroke-width="0.9" stroke-dasharray="3,2.2"/>
<line x1="38" y1="304.5" x2="40.2" y2="304.5" stroke="#555" stroke-width="0.7"/>
<text x="38.2" y="306.7" font-size="7.8" text-anchor="end" fill="#222" textLength="4" lengthAdjust="spacingAndGlyphs">0</text>
<line x1="38" y1="281.44" x2="40.2" y2="281.44" stroke="#555" stroke-width="0.7"/>
<text x="38.2" y="283.64" font-size="7.8" text-anchor="end" fill="#222" textLength="8.1" lengthAdjust="spacingAndGlyphs">20</text>
<line x1="38" y1="258.38" x2="40.2" y2="258.38" stroke="#555" stroke-width="0.7"/>
<text x="38.2" y="260.58" font-size="7.8" text-anchor="end" fill="#222" textLength="8.1" lengthAdjust="spacingAndGlyphs">40</text>
<line x1="38" y1="235.32" x2="40.2" y2="235.32" stroke="#555" stroke-width="0.7"/>
<text x="38.2" y="237.52" font-size="7.8" text-anchor="end" fill="#222" textLength="8.1" lengthAdjust="spacingAndGlyphs">60</text>
<line x1="38" y1="212.26" x2="40.2" y2="212.26" stroke="#555" stroke-width="0.7"/>
<text x="38.2" y="214.46" font-size="7.8" text-anchor="end" fill="#222" textLength="8.1" lengthAdjust="spacingAndGlyphs">80</text>
<line x1="38" y1="189.2" x2="40.2" y2="189.2" stroke="#555" stroke-width="0.7"/>
<text x="38.2" y="191.4" font-size="7.8" text-anchor="end" fill="#222" textLength="12" lengthAdjust="spacingAndGlyphs">100</text>
<line x1="38.9" y1="292.97" x2="40.2" y2="292.97" stroke="#555" stroke-width="0.6"/>
<line x1="38.9" y1="269.91" x2="40.2" y2="269.91" stroke="#555" stroke-width="0.6"/>
<line x1="38.9" y1="246.85" x2="40.2" y2="246.85" stroke="#555" stroke-width="0.6"/>
<line x1="38.9" y1="223.79" x2="40.2" y2="223.79" stroke="#555" stroke-width="0.6"/>
<line x1="38.9" y1="200.73" x2="40.2" y2="200.73" stroke="#555" stroke-width="0.6"/>
<text x="24" y="247.2" font-size="8.6" text-anchor="middle" fill="#222" transform="rotate(-90 24 247.2)" textLength="122" lengthAdjust="spacingAndGlyphs">Percent relative abundance (%)</text>
<text x="42.8" y="306.5" font-size="7.3" text-anchor="end" fill="#222" transform="rotate(-90 42.8 306.5)">2m</text>
<text x="67.75" y="306.5" font-size="7.3" text-anchor="end" fill="#222" transform="rotate(-90 67.75 306.5)">4m</text>
<text x="92.7" y="306.5" font-size="7.3" text-anchor="end" fill="#222" transform="rotate(-90 92.7 306.5)">6m</text>
<text x="117.65" y="306.5" font-size="7.3" text-anchor="end" fill="#222" transform="rotate(-90 117.65 306.5)">8m</text>
<text x="142.6" y="306.5" font-size="7.3" text-anchor="end" fill="#222" transform="rotate(-90 142.6 306.5)">10m</text>
<text x="153" y="306.5" font-size="7.3" text-anchor="end" fill="#222" transform="rotate(-90 153 306.5)">2m</text>
<text x="178.05" y="306.5" font-size="7.3" text-anchor="end" fill="#222" transform="rotate(-90 178.05 306.5)">4m</text>
<text x="203.1" y="306.5" font-size="7.3" text-anchor="end" fill="#222" transform="rotate(-90 203.1 306.5)">6m</text>
<text x="228.15" y="306.5" font-size="7.3" text-anchor="end" fill="#222" transform="rotate(-90 228.15 306.5)">8m</text>
<text x="253.2" y="306.5" font-size="7.3" text-anchor="end" fill="#222" transform="rotate(-90 253.2 306.5)">10m</text>
<text x="263.3" y="306.5" font-size="7.3" text-anchor="end" fill="#222" transform="rotate(-90 263.3 306.5)">2m</text>
<text x="288.33" y="306.5" font-size="7.3" text-anchor="end" fill="#222" transform="rotate(-90 288.33 306.5)">4m</text>
<text x="313.35" y="306.5" font-size="7.3" text-anchor="end" fill="#222" transform="rotate(-90 313.35 306.5)">6m</text>
<text x="338.38" y="306.5" font-size="7.3" text-anchor="end" fill="#222" transform="rotate(-90 338.38 306.5)">8m</text>
<text x="363.4" y="306.5" font-size="7.3" text-anchor="end" fill="#222" transform="rotate(-90 363.4 306.5)">10m</text>
<rect x="39" y="323.4" width="102.8" height="10.2" fill="#c4c4c4" stroke="#8a8a8a" stroke-width="0.8"/>
<text x="90.4" y="332" font-size="10" text-anchor="middle" fill="#111">Healthy</text>
<rect x="150.4" y="323.4" width="101.4" height="10.2" fill="#c4c4c4" stroke="#8a8a8a" stroke-width="0.8"/>
<text x="201.1" y="332" font-size="10" text-anchor="middle" fill="#111">Pristane</text>
<rect x="260" y="323.4" width="101.3" height="10.2" fill="#c4c4c4" stroke="#8a8a8a" stroke-width="0.8"/>
<text x="310.65" y="332" font-size="10" text-anchor="middle" fill="#111">Knockout</text>
<text x="387.8" y="203.2" font-size="7.9" text-anchor="start" fill="#111">Other phyla (&lt;0.05)</text>
<rect x="367.4" y="206" width="17.7" height="8.2" fill="#c4c4c4" stroke="none" stroke-width="0.6"/>
<text x="387.8" y="213" font-size="7.9" text-anchor="start" fill="#111">p__Verrucomicrobia</text>
<rect x="367.4" y="215.66" width="17.7" height="8.2" fill="#ffff00" stroke="none" stroke-width="0.6"/>
<text x="387.8" y="222.66" font-size="7.9" text-anchor="start" fill="#111">p__Tenericutes</text>
<rect x="367.4" y="225.32" width="17.7" height="8.2" fill="#00ffff" stroke="none" stroke-width="0.6"/>
<text x="387.8" y="232.32" font-size="7.9" text-anchor="start" fill="#111">p__TM7</text>
<rect x="367.4" y="234.98" width="17.7" height="8.2" fill="#ff33ff" stroke="none" stroke-width="0.6"/>
<text x="387.8" y="241.98" font-size="7.9" text-anchor="start" fill="#111">p__Spirochaetes</text>
<rect x="367.4" y="244.64" width="17.7" height="8.2" fill="#000096" stroke="none" stroke-width="0.6"/>
<text x="387.8" y="251.64" font-size="7.9" text-anchor="start" fill="#111">p__Proteobacteria</text>
<rect x="367.4" y="254.3" width="17.7" height="8.2" fill="#ffff9c" stroke="none" stroke-width="0.6"/>
<text x="387.8" y="261.3" font-size="7.9" text-anchor="start" fill="#111">p__Firmicutes</text>
<rect x="367.4" y="263.96" width="17.7" height="8.2" fill="#ffc89e" stroke="none" stroke-width="0.6"/>
<text x="387.8" y="270.96" font-size="7.9" text-anchor="start" fill="#111">p__Deferribacteres</text>
<rect x="367.4" y="273.62" width="17.7" height="8.2" fill="#ff6a00" stroke="none" stroke-width="0.6"/>
<text x="387.8" y="280.62" font-size="7.9" text-anchor="start" fill="#111">p__Cyanobacteria</text>
<rect x="367.4" y="283.28" width="17.7" height="8.2" fill="#acdcac" stroke="none" stroke-width="0.6"/>
<text x="387.8" y="290.28" font-size="7.9" text-anchor="start" fill="#111">p__Bacteroidetes</text>
<rect x="367.4" y="292.94" width="17.7" height="8.2" fill="#960000" stroke="none" stroke-width="0.6"/>
<text x="387.8" y="299.94" font-size="7.9" text-anchor="start" fill="#111">p__Actinobacteria</text>
<text x="467.2" y="189.6" font-size="12.8" text-anchor="start" fill="#000">E</text>
<g stroke="#333" fill="none" stroke-width="0.9">
<rect x="484.7" y="179" width="84.6" height="132"/>
</g>
<line x1="484.7" y1="194.2" x2="569.3" y2="194.2" stroke="#222" stroke-width="1"/>
<text x="527" y="189" font-size="9" text-anchor="middle" font-weight="bold" fill="#111">Proteobacteria</text>
<line x1="482.4" y1="310.9" x2="484.7" y2="310.9" stroke="#333" stroke-width="0.7"/>
<text x="479.4" y="313.64" font-size="7.6" text-anchor="end" fill="#333">0</text>
<line x1="482.4" y1="272" x2="484.7" y2="272" stroke="#333" stroke-width="0.7"/>
<text x="479.4" y="274.74" font-size="7.6" text-anchor="end" fill="#333">20</text>
<line x1="482.4" y1="233.1" x2="484.7" y2="233.1" stroke="#333" stroke-width="0.7"/>
<text x="479.4" y="235.84" font-size="7.6" text-anchor="end" fill="#333">40</text>
<line x1="482.4" y1="194.2" x2="484.7" y2="194.2" stroke="#333" stroke-width="0.7"/>
<text x="479.4" y="196.94" font-size="7.6" text-anchor="end" fill="#333">60</text>
<line x1="483.4" y1="291.45" x2="484.7" y2="291.45" stroke="#333" stroke-width="0.6"/>
<line x1="483.4" y1="252.55" x2="484.7" y2="252.55" stroke="#333" stroke-width="0.6"/>
<line x1="483.4" y1="213.65" x2="484.7" y2="213.65" stroke="#333" stroke-width="0.6"/>
<line x1="485.4" y1="311" x2="485.4" y2="313.2" stroke="#333" stroke-width="0.7"/>
<text x="485.4" y="322.5" font-size="7.6" text-anchor="middle" fill="#333">0</text>
<line x1="500.68" y1="311" x2="500.68" y2="313.2" stroke="#333" stroke-width="0.7"/>
<text x="500.68" y="322.5" font-size="7.6" text-anchor="middle" fill="#333">2</text>
<line x1="515.96" y1="311" x2="515.96" y2="313.2" stroke="#333" stroke-width="0.7"/>
<text x="515.96" y="322.5" font-size="7.6" text-anchor="middle" fill="#333">4</text>
<line x1="531.24" y1="311" x2="531.24" y2="313.2" stroke="#333" stroke-width="0.7"/>
<text x="531.24" y="322.5" font-size="7.6" text-anchor="middle" fill="#333">6</text>
<line x1="546.52" y1="311" x2="546.52" y2="313.2" stroke="#333" stroke-width="0.7"/>
<text x="546.52" y="322.5" font-size="7.6" text-anchor="middle" fill="#333">8</text>
<line x1="561.8" y1="311" x2="561.8" y2="313.2" stroke="#333" stroke-width="0.7"/>
<text x="561.8" y="322.5" font-size="7.6" text-anchor="middle" fill="#333">10</text>
<text x="527" y="331.5" font-size="7.7" text-anchor="middle" font-weight="bold" fill="#111">Mouse age (months)</text>
<text x="467.5" y="252.6" font-size="7.6" text-anchor="middle" font-weight="bold" fill="#111" transform="rotate(-90 467.5 252.6)">Relative abundance (%)</text>
<line x1="500.68" y1="302.54" x2="500.68" y2="284.06" stroke="#ff1f1f" stroke-width="0.9"/>
<line x1="499.28" y1="302.54" x2="502.08" y2="302.54" stroke="#ff1f1f" stroke-width="0.9"/>
<line x1="499.28" y1="284.06" x2="502.08" y2="284.06" stroke="#ff1f1f" stroke-width="0.9"/>
<line x1="515.96" y1="309.93" x2="515.96" y2="221.04" stroke="#ff1f1f" stroke-width="0.9"/>
<line x1="514.56" y1="309.93" x2="517.36" y2="309.93" stroke="#ff1f1f" stroke-width="0.9"/>
<line x1="514.56" y1="221.04" x2="517.36" y2="221.04" stroke="#ff1f1f" stroke-width="0.9"/>
<line x1="531.24" y1="300.2" x2="531.24" y2="295.73" stroke="#ff1f1f" stroke-width="0.9"/>
<line x1="529.84" y1="300.2" x2="532.64" y2="300.2" stroke="#ff1f1f" stroke-width="0.9"/>
<line x1="529.84" y1="295.73" x2="532.64" y2="295.73" stroke="#ff1f1f" stroke-width="0.9"/>
<line x1="546.52" y1="301.17" x2="546.52" y2="291.64" stroke="#ff1f1f" stroke-width="0.9"/>
<line x1="545.12" y1="301.17" x2="547.92" y2="301.17" stroke="#ff1f1f" stroke-width="0.9"/>
<line x1="545.12" y1="291.64" x2="547.92" y2="291.64" stroke="#ff1f1f" stroke-width="0.9"/>
<line x1="561.8" y1="299.62" x2="561.8" y2="294.95" stroke="#ff1f1f" stroke-width="0.9"/>
<line x1="560.4" y1="299.62" x2="563.2" y2="299.62" stroke="#ff1f1f" stroke-width="0.9"/>
<line x1="560.4" y1="294.95" x2="563.2" y2="294.95" stroke="#ff1f1f" stroke-width="0.9"/>
<polyline points="500.68,291.26 515.96,264.8 531.24,298.06 546.52,296.9 561.8,297.28" fill="none" stroke="#ff1f1f" stroke-width="1" stroke-linejoin="round" stroke-linecap="round"/>
<circle cx="500.68" cy="291.26" r="2.4" fill="#ff1f1f"/>
<circle cx="515.96" cy="264.8" r="2.4" fill="#ff1f1f"/>
<circle cx="531.24" cy="298.06" r="2.4" fill="#ff1f1f"/>
<circle cx="546.52" cy="296.9" r="2.4" fill="#ff1f1f"/>
<circle cx="561.8" cy="297.28" r="2.4" fill="#ff1f1f"/>
<line x1="500.68" y1="298.26" x2="500.68" y2="284.06" stroke="#f040e8" stroke-width="0.9"/>
<line x1="499.28" y1="298.26" x2="502.08" y2="298.26" stroke="#f040e8" stroke-width="0.9"/>
<line x1="499.28" y1="284.06" x2="502.08" y2="284.06" stroke="#f040e8" stroke-width="0.9"/>
<line x1="515.96" y1="308.76" x2="515.96" y2="270.83" stroke="#f040e8" stroke-width="0.9"/>
<line x1="514.56" y1="308.76" x2="517.36" y2="308.76" stroke="#f040e8" stroke-width="0.9"/>
<line x1="514.56" y1="270.83" x2="517.36" y2="270.83" stroke="#f040e8" stroke-width="0.9"/>
<line x1="531.24" y1="310.12" x2="531.24" y2="286.98" stroke="#f040e8" stroke-width="0.9"/>
<line x1="529.84" y1="310.12" x2="532.64" y2="310.12" stroke="#f040e8" stroke-width="0.9"/>
<line x1="529.84" y1="286.98" x2="532.64" y2="286.98" stroke="#f040e8" stroke-width="0.9"/>
<line x1="546.52" y1="305.45" x2="546.52" y2="300.79" stroke="#f040e8" stroke-width="0.9"/>
<line x1="545.12" y1="305.45" x2="547.92" y2="305.45" stroke="#f040e8" stroke-width="0.9"/>
<line x1="545.12" y1="300.79" x2="547.92" y2="300.79" stroke="#f040e8" stroke-width="0.9"/>
<line x1="561.8" y1="303.9" x2="561.8" y2="293.39" stroke="#f040e8" stroke-width="0.9"/>
<line x1="560.4" y1="303.9" x2="563.2" y2="303.9" stroke="#f040e8" stroke-width="0.9"/>
<line x1="560.4" y1="293.39" x2="563.2" y2="293.39" stroke="#f040e8" stroke-width="0.9"/>
<polyline points="500.68,291.64 515.96,288.73 531.24,298.26 546.52,303.12 561.8,298.26" fill="none" stroke="#f040e8" stroke-width="1" stroke-linejoin="round" stroke-linecap="round"/>
<circle cx="500.68" cy="291.64" r="2.4" fill="#f040e8"/>
<circle cx="515.96" cy="288.73" r="2.4" fill="#f040e8"/>
<circle cx="531.24" cy="298.26" r="2.4" fill="#f040e8"/>
<circle cx="546.52" cy="303.12" r="2.4" fill="#f040e8"/>
<circle cx="561.8" cy="298.26" r="2.4" fill="#f040e8"/>
<line x1="500.68" y1="303.9" x2="500.68" y2="282.31" stroke="#4da3f5" stroke-width="0.9"/>
<line x1="499.28" y1="303.9" x2="502.08" y2="303.9" stroke="#4da3f5" stroke-width="0.9"/>
<line x1="499.28" y1="282.31" x2="502.08" y2="282.31" stroke="#4da3f5" stroke-width="0.9"/>
<line x1="515.96" y1="308.18" x2="515.96" y2="284.84" stroke="#4da3f5" stroke-width="0.9"/>
<line x1="514.56" y1="308.18" x2="517.36" y2="308.18" stroke="#4da3f5" stroke-width="0.9"/>
<line x1="514.56" y1="284.84" x2="517.36" y2="284.84" stroke="#4da3f5" stroke-width="0.9"/>
<line x1="531.24" y1="302.15" x2="531.24" y2="294.37" stroke="#4da3f5" stroke-width="0.9"/>
<line x1="529.84" y1="302.15" x2="532.64" y2="302.15" stroke="#4da3f5" stroke-width="0.9"/>
<line x1="529.84" y1="294.37" x2="532.64" y2="294.37" stroke="#4da3f5" stroke-width="0.9"/>
<line x1="546.52" y1="303.51" x2="546.52" y2="296.9" stroke="#4da3f5" stroke-width="0.9"/>
<line x1="545.12" y1="303.51" x2="547.92" y2="303.51" stroke="#4da3f5" stroke-width="0.9"/>
<line x1="545.12" y1="296.9" x2="547.92" y2="296.9" stroke="#4da3f5" stroke-width="0.9"/>
<line x1="561.8" y1="291.84" x2="561.8" y2="282.31" stroke="#4da3f5" stroke-width="0.9"/>
<line x1="560.4" y1="291.84" x2="563.2" y2="291.84" stroke="#4da3f5" stroke-width="0.9"/>
<line x1="560.4" y1="282.31" x2="563.2" y2="282.31" stroke="#4da3f5" stroke-width="0.9"/>
<polyline points="500.68,293.59 515.96,296.12 531.24,298.26 546.52,300.4 561.8,286.98" fill="none" stroke="#4da3f5" stroke-width="1" stroke-linejoin="round" stroke-linecap="round"/>
<circle cx="500.68" cy="293.59" r="2.4" fill="#4da3f5"/>
<circle cx="515.96" cy="296.12" r="2.4" fill="#4da3f5"/>
<circle cx="531.24" cy="298.26" r="2.4" fill="#4da3f5"/>
<circle cx="546.52" cy="300.4" r="2.4" fill="#4da3f5"/>
<circle cx="561.8" cy="286.98" r="2.4" fill="#4da3f5"/>
<text x="575.4" y="189.6" font-size="12.8" text-anchor="start" fill="#000">F</text>
<g stroke="#333" fill="none" stroke-width="0.9">
<rect x="592" y="179" width="84.6" height="132.1"/>
</g>
<line x1="592" y1="194.3" x2="676.6" y2="194.3" stroke="#222" stroke-width="1"/>
<text x="634.3" y="189" font-size="9" text-anchor="middle" font-weight="bold" fill="#111">F/B ratio</text>
<line x1="589.7" y1="311.1" x2="592" y2="311.1" stroke="#333" stroke-width="0.7"/>
<text x="586.7" y="313.84" font-size="7.6" text-anchor="end" fill="#333">0</text>
<line x1="589.7" y1="281.9" x2="592" y2="281.9" stroke="#333" stroke-width="0.7"/>
<text x="586.7" y="284.64" font-size="7.6" text-anchor="end" fill="#333">1</text>
<line x1="589.7" y1="252.7" x2="592" y2="252.7" stroke="#333" stroke-width="0.7"/>
<text x="586.7" y="255.44" font-size="7.6" text-anchor="end" fill="#333">2</text>
<line x1="589.7" y1="223.5" x2="592" y2="223.5" stroke="#333" stroke-width="0.7"/>
<text x="586.7" y="226.24" font-size="7.6" text-anchor="end" fill="#333">3</text>
<line x1="589.7" y1="194.3" x2="592" y2="194.3" stroke="#333" stroke-width="0.7"/>
<text x="586.7" y="197.04" font-size="7.6" text-anchor="end" fill="#333">4</text>
<line x1="590.7" y1="296.5" x2="592" y2="296.5" stroke="#333" stroke-width="0.6"/>
<line x1="590.7" y1="267.3" x2="592" y2="267.3" stroke="#333" stroke-width="0.6"/>
<line x1="590.7" y1="238.1" x2="592" y2="238.1" stroke="#333" stroke-width="0.6"/>
<line x1="590.7" y1="208.9" x2="592" y2="208.9" stroke="#333" stroke-width="0.6"/>
<line x1="592.7" y1="311.1" x2="592.7" y2="313.3" stroke="#333" stroke-width="0.7"/>
<text x="592.7" y="322.5" font-size="7.6" text-anchor="middle" fill="#333">0</text>
<line x1="607.88" y1="311.1" x2="607.88" y2="313.3" stroke="#333" stroke-width="0.7"/>
<text x="607.88" y="322.5" font-size="7.6" text-anchor="middle" fill="#333">2</text>
<line x1="623.06" y1="311.1" x2="623.06" y2="313.3" stroke="#333" stroke-width="0.7"/>
<text x="623.06" y="322.5" font-size="7.6" text-anchor="middle" fill="#333">4</text>
<line x1="638.24" y1="311.1" x2="638.24" y2="313.3" stroke="#333" stroke-width="0.7"/>
<text x="638.24" y="322.5" font-size="7.6" text-anchor="middle" fill="#333">6</text>
<line x1="653.42" y1="311.1" x2="653.42" y2="313.3" stroke="#333" stroke-width="0.7"/>
<text x="653.42" y="322.5" font-size="7.6" text-anchor="middle" fill="#333">8</text>
<line x1="668.6" y1="311.1" x2="668.6" y2="313.3" stroke="#333" stroke-width="0.7"/>
<text x="668.6" y="322.5" font-size="7.6" text-anchor="middle" fill="#333">10</text>
<text x="634.3" y="331.5" font-size="7.7" text-anchor="middle" font-weight="bold" fill="#111">Mouse age (months)</text>
<text x="577.5" y="252.7" font-size="7.6" text-anchor="middle" font-weight="bold" fill="#111" transform="rotate(-90 577.5 252.7)">Relative abundance (%)</text>
<line x1="607.88" y1="307.6" x2="607.88" y2="270.8" stroke="#ff1f1f" stroke-width="0.9"/>
<line x1="606.48" y1="307.6" x2="609.28" y2="307.6" stroke="#ff1f1f" stroke-width="0.9"/>
<line x1="606.48" y1="270.8" x2="609.28" y2="270.8" stroke="#ff1f1f" stroke-width="0.9"/>
<line x1="623.06" y1="294.46" x2="623.06" y2="288.62" stroke="#ff1f1f" stroke-width="0.9"/>
<line x1="621.66" y1="294.46" x2="624.46" y2="294.46" stroke="#ff1f1f" stroke-width="0.9"/>
<line x1="621.66" y1="288.62" x2="624.46" y2="288.62" stroke="#ff1f1f" stroke-width="0.9"/>
<line x1="638.24" y1="308.18" x2="638.24" y2="296.5" stroke="#ff1f1f" stroke-width="0.9"/>
<line x1="636.84" y1="308.18" x2="639.64" y2="308.18" stroke="#ff1f1f" stroke-width="0.9"/>
<line x1="636.84" y1="296.5" x2="639.64" y2="296.5" stroke="#ff1f1f" stroke-width="0.9"/>
<line x1="653.42" y1="301.17" x2="653.42" y2="295.33" stroke="#ff1f1f" stroke-width="0.9"/>
<line x1="652.02" y1="301.17" x2="654.82" y2="301.17" stroke="#ff1f1f" stroke-width="0.9"/>
<line x1="652.02" y1="295.33" x2="654.82" y2="295.33" stroke="#ff1f1f" stroke-width="0.9"/>
<line x1="668.6" y1="297.38" x2="668.6" y2="294.46" stroke="#ff1f1f" stroke-width="0.9"/>
<line x1="667.2" y1="297.38" x2="670" y2="297.38" stroke="#ff1f1f" stroke-width="0.9"/>
<line x1="667.2" y1="294.46" x2="670" y2="294.46" stroke="#ff1f1f" stroke-width="0.9"/>
<polyline points="607.88,289.2 623.06,291.54 638.24,302.34 653.42,298.25 668.6,295.92" fill="none" stroke="#ff1f1f" stroke-width="1" stroke-linejoin="round" stroke-linecap="round"/>
<circle cx="607.88" cy="289.2" r="2.4" fill="#ff1f1f"/>
<circle cx="623.06" cy="291.54" r="2.4" fill="#ff1f1f"/>
<circle cx="638.24" cy="302.34" r="2.4" fill="#ff1f1f"/>
<circle cx="653.42" cy="298.25" r="2.4" fill="#ff1f1f"/>
<circle cx="668.6" cy="295.92" r="2.4" fill="#ff1f1f"/>
<line x1="607.88" y1="307.01" x2="607.88" y2="295.33" stroke="#f040e8" stroke-width="0.9"/>
<line x1="606.48" y1="307.01" x2="609.28" y2="307.01" stroke="#f040e8" stroke-width="0.9"/>
<line x1="606.48" y1="295.33" x2="609.28" y2="295.33" stroke="#f040e8" stroke-width="0.9"/>
<line x1="623.06" y1="298.54" x2="623.06" y2="253.58" stroke="#f040e8" stroke-width="0.9"/>
<line x1="621.66" y1="298.54" x2="624.46" y2="298.54" stroke="#f040e8" stroke-width="0.9"/>
<line x1="621.66" y1="253.58" x2="624.46" y2="253.58" stroke="#f040e8" stroke-width="0.9"/>
<line x1="638.24" y1="302.34" x2="638.24" y2="293.58" stroke="#f040e8" stroke-width="0.9"/>
<line x1="636.84" y1="302.34" x2="639.64" y2="302.34" stroke="#f040e8" stroke-width="0.9"/>
<line x1="636.84" y1="293.58" x2="639.64" y2="293.58" stroke="#f040e8" stroke-width="0.9"/>
<line x1="653.42" y1="300.88" x2="653.42" y2="295.04" stroke="#f040e8" stroke-width="0.9"/>
<line x1="652.02" y1="300.88" x2="654.82" y2="300.88" stroke="#f040e8" stroke-width="0.9"/>
<line x1="652.02" y1="295.04" x2="654.82" y2="295.04" stroke="#f040e8" stroke-width="0.9"/>
<line x1="668.6" y1="306.72" x2="668.6" y2="295.04" stroke="#f040e8" stroke-width="0.9"/>
<line x1="667.2" y1="306.72" x2="670" y2="306.72" stroke="#f040e8" stroke-width="0.9"/>
<line x1="667.2" y1="295.04" x2="670" y2="295.04" stroke="#f040e8" stroke-width="0.9"/>
<polyline points="607.88,301.17 623.06,276.06 638.24,297.96 653.42,297.96 668.6,300.88" fill="none" stroke="#f040e8" stroke-width="1" stroke-linejoin="round" stroke-linecap="round"/>
<circle cx="607.88" cy="301.17" r="2.4" fill="#f040e8"/>
<circle cx="623.06" cy="276.06" r="2.4" fill="#f040e8"/>
<circle cx="638.24" cy="297.96" r="2.4" fill="#f040e8"/>
<circle cx="653.42" cy="297.96" r="2.4" fill="#f040e8"/>
<circle cx="668.6" cy="300.88" r="2.4" fill="#f040e8"/>
<line x1="607.88" y1="300.59" x2="607.88" y2="283.07" stroke="#4da3f5" stroke-width="0.9"/>
<line x1="606.48" y1="300.59" x2="609.28" y2="300.59" stroke="#4da3f5" stroke-width="0.9"/>
<line x1="606.48" y1="283.07" x2="609.28" y2="283.07" stroke="#4da3f5" stroke-width="0.9"/>
<line x1="623.06" y1="301.17" x2="623.06" y2="295.33" stroke="#4da3f5" stroke-width="0.9"/>
<line x1="621.66" y1="301.17" x2="624.46" y2="301.17" stroke="#4da3f5" stroke-width="0.9"/>
<line x1="621.66" y1="295.33" x2="624.46" y2="295.33" stroke="#4da3f5" stroke-width="0.9"/>
<line x1="638.24" y1="292.41" x2="638.24" y2="282.48" stroke="#4da3f5" stroke-width="0.9"/>
<line x1="636.84" y1="292.41" x2="639.64" y2="292.41" stroke="#4da3f5" stroke-width="0.9"/>
<line x1="636.84" y1="282.48" x2="639.64" y2="282.48" stroke="#4da3f5" stroke-width="0.9"/>
<line x1="653.42" y1="302.92" x2="653.42" y2="294.16" stroke="#4da3f5" stroke-width="0.9"/>
<line x1="652.02" y1="302.92" x2="654.82" y2="302.92" stroke="#4da3f5" stroke-width="0.9"/>
<line x1="652.02" y1="294.16" x2="654.82" y2="294.16" stroke="#4da3f5" stroke-width="0.9"/>
<line x1="668.6" y1="287.74" x2="668.6" y2="272.26" stroke="#4da3f5" stroke-width="0.9"/>
<line x1="667.2" y1="287.74" x2="670" y2="287.74" stroke="#4da3f5" stroke-width="0.9"/>
<line x1="667.2" y1="272.26" x2="670" y2="272.26" stroke="#4da3f5" stroke-width="0.9"/>
<polyline points="607.88,291.83 623.06,298.25 638.24,287.45 653.42,298.54 668.6,280.15" fill="none" stroke="#4da3f5" stroke-width="1" stroke-linejoin="round" stroke-linecap="round"/>
<circle cx="607.88" cy="291.83" r="2.4" fill="#4da3f5"/>
<circle cx="623.06" cy="298.25" r="2.4" fill="#4da3f5"/>
<circle cx="638.24" cy="287.45" r="2.4" fill="#4da3f5"/>
<circle cx="653.42" cy="298.54" r="2.4" fill="#4da3f5"/>
<circle cx="668.6" cy="280.15" r="2.4" fill="#4da3f5"/>
<line x1="620.2" y1="201.6" x2="630.2" y2="201.6" stroke="#4da3f5" stroke-width="1"/>
<circle cx="625.2" cy="201.6" r="2.1" fill="#4da3f5"/>
<text x="636" y="204.8" font-size="8.8" text-anchor="start" fill="#111">Healthy</text>
<line x1="620.2" y1="211" x2="630.2" y2="211" stroke="#f040e8" stroke-width="1"/>
<circle cx="625.2" cy="211" r="2.1" fill="#f040e8"/>
<text x="636" y="214.2" font-size="8.8" text-anchor="start" fill="#111">Pristane</text>
<line x1="620.2" y1="220.4" x2="630.2" y2="220.4" stroke="#ff1f1f" stroke-width="1"/>
<circle cx="625.2" cy="220.4" r="2.1" fill="#ff1f1f"/>
<text x="636" y="223.6" font-size="8.8" text-anchor="start" fill="#111">Knockout</text>
<text x="10.5" y="344.5" font-size="15" text-anchor="start" fill="#000">G</text>
<polygon points="40.9,460 40.9,350.46 66.05,350.12 91.2,350.24 116.35,350.24 141.5,349.89 141.5,460" fill="#a6a6a6" stroke="none" stroke-width="0.5"/>
<polygon points="40.9,460 40.9,351.49 66.05,350.92 91.2,350.92 116.35,350.92 141.5,350.46 141.5,460" fill="#ffc800" stroke="none" stroke-width="0.5"/>
<polygon points="40.9,460 40.9,354.34 66.05,352.63 91.2,353.89 116.35,352.18 141.5,356.85 141.5,460" fill="#b8d4ec" stroke="none" stroke-width="0.5"/>
<polygon points="40.9,460 40.9,360.5 66.05,359.36 91.2,359.36 116.35,356.05 141.5,365.3 141.5,460" fill="#00ffff" stroke="none" stroke-width="0.5"/>
<polygon points="40.9,460 40.9,362.44 66.05,359.93 91.2,361.19 116.35,357.77 141.5,367.24 141.5,460" fill="#1f3864" stroke="none" stroke-width="0.5"/>
<polygon points="40.9,460 40.9,363.24 66.05,361.08 91.2,361.87 116.35,358.57 141.5,368.72 141.5,460" fill="#c86496" stroke="none" stroke-width="0.5"/>
<polygon points="40.9,460 40.9,367.35 66.05,365.3 91.2,367.81 116.35,361.53 141.5,370.32 141.5,460" fill="#ff55ff" stroke="none" stroke-width="0.5"/>
<polygon points="40.9,460 40.9,371.23 66.05,367.01 91.2,372.83 116.35,364.38 141.5,375.34 141.5,460" fill="#d0009a" stroke="none" stroke-width="0.5"/>
<polygon points="40.9,460 40.9,372.83 66.05,368.95 91.2,375.68 116.35,366.67 141.5,377.96 141.5,460" fill="#9966ff" stroke="none" stroke-width="0.5"/>
<polygon points="40.9,460 40.9,375.11 66.05,371.23 91.2,377.96 116.35,368.95 141.5,380.47 141.5,460" fill="#ffe0a0" stroke="none" stroke-width="0.5"/>
<polygon points="40.9,460 40.9,377.39 66.05,372.94 91.2,381.84 116.35,371.23 141.5,385.49 141.5,460" fill="#7030a0" stroke="none" stroke-width="0.5"/>
<polygon points="40.9,460 40.9,378.42 66.05,373.74 91.2,382.98 116.35,372.37 141.5,388.92 141.5,460" fill="#ffc896" stroke="none" stroke-width="0.5"/>
<polygon points="40.9,460 40.9,392.22 66.05,385.15 91.2,402.38 116.35,384.12 141.5,415.04 141.5,460" fill="#ff80ff" stroke="none" stroke-width="0.5"/>
<polygon points="40.9,460 40.9,392.91 66.05,386.29 91.2,402.95 116.35,384.92 141.5,415.27 141.5,460" fill="#c8009a" stroke="none" stroke-width="0.5"/>
<polygon points="40.9,460 40.9,393.48 66.05,386.98 91.2,403.52 116.35,385.49 141.5,415.5 141.5,460" fill="#ffd060" stroke="none" stroke-width="0.5"/>
<polygon points="40.9,460 40.9,394.96 66.05,388.46 91.2,404.32 116.35,386.63 141.5,416.07 141.5,460" fill="#f8a060" stroke="none" stroke-width="0.5"/>
<polygon points="40.9,460 40.9,396.45 66.05,390.17 91.2,405.35 116.35,388.12 141.5,416.64 141.5,460" fill="#a0ffa0" stroke="none" stroke-width="0.5"/>
<polygon points="40.9,460 40.9,404.89 66.05,402.04 91.2,409.91 116.35,395.65 141.5,422.58 141.5,460" fill="#00b400" stroke="none" stroke-width="0.5"/>
<polygon points="40.9,460 40.9,413.45 66.05,415.16 91.2,414.93 116.35,408.08 141.5,427.14 141.5,460" fill="#6b8e23" stroke="none" stroke-width="0.5"/>
<polygon points="40.9,460 40.9,413.79 66.05,415.5 91.2,415.5 116.35,409.91 141.5,427.6 141.5,460" fill="#00ff00" stroke="none" stroke-width="0.5"/>
<polygon points="40.9,460 40.9,415.5 66.05,416.64 91.2,416.64 116.35,411.62 141.5,429.31 141.5,460" fill="#007800" stroke="none" stroke-width="0.5"/>
<polygon points="40.9,460 40.9,417.55 66.05,419.72 91.2,418.7 116.35,414.47 141.5,431.82 141.5,460" fill="#a0ffd8" stroke="none" stroke-width="0.5"/>
<polygon points="40.9,460 40.9,449.16 66.05,450.76 91.2,450.53 116.35,436.04 141.5,447.45 141.5,460" fill="#00e890" stroke="none" stroke-width="0.5"/>
<polygon points="40.9,460 40.9,451.21 66.05,452.01 91.2,452.58 116.35,441.97 141.5,450.42 141.5,460" fill="#a0c070" stroke="none" stroke-width="0.5"/>
<polygon points="40.9,460 40.9,456.01 66.05,455.66 91.2,456.01 116.35,452.58 141.5,455.44 141.5,460" fill="#c8dcb0" stroke="none" stroke-width="0.5"/>
<line x1="40.9" y1="345.9" x2="40.9" y2="460.5" stroke="#8a8a8a" stroke-width="0.8"/>
<line x1="40.9" y1="460" x2="141.5" y2="460" stroke="#9a9a9a" stroke-width="0.6"/>
<line x1="40.9" y1="460" x2="40.9" y2="461.5" stroke="#555" stroke-width="0.6"/>
<line x1="66.05" y1="460" x2="66.05" y2="461.5" stroke="#555" stroke-width="0.6"/>
<line x1="91.2" y1="460" x2="91.2" y2="461.5" stroke="#555" stroke-width="0.6"/>
<line x1="116.35" y1="460" x2="116.35" y2="461.5" stroke="#555" stroke-width="0.6"/>
<line x1="141.5" y1="460" x2="141.5" y2="461.5" stroke="#555" stroke-width="0.6"/>
<line x1="91.2" y1="343" x2="91.2" y2="461" stroke="#222" stroke-width="0.9" stroke-dasharray="3,2.2"/>
<polygon points="151.4,460 151.4,350.46 176.55,350.46 201.7,350.46 226.85,350.46 252,349.89 252,460" fill="#a6a6a6" stroke="none" stroke-width="0.5"/>
<polygon points="151.4,460 151.4,351.83 176.55,353.32 201.7,354.34 226.85,351.83 252,350.12 252,460" fill="#ffc800" stroke="none" stroke-width="0.5"/>
<polygon points="151.4,460 151.4,352.75 176.55,354.34 201.7,356.05 226.85,355.14 252,361.08 252,460" fill="#b8d4ec" stroke="none" stroke-width="0.5"/>
<polygon points="151.4,460 151.4,358.57 176.55,358.57 201.7,360.28 226.85,358.57 252,367.01 252,460" fill="#5bb0c8" stroke="none" stroke-width="0.5"/>
<polygon points="151.4,460 151.4,361.87 176.55,367.81 201.7,360.96 226.85,358.91 252,369.52 252,460" fill="#1f3864" stroke="none" stroke-width="0.5"/>
<polygon points="151.4,460 151.4,362.79 176.55,368.72 201.7,361.87 226.85,359.36 252,370.32 252,460" fill="#c86496" stroke="none" stroke-width="0.5"/>
<polygon points="151.4,460 151.4,367.01 176.55,374.54 201.7,367.01 226.85,365.3 252,372.83 252,460" fill="#ff55ff" stroke="none" stroke-width="0.5"/>
<polygon points="151.4,460 151.4,370.32 176.55,379.1 201.7,372.03 226.85,372.03 252,376.25 252,460" fill="#d0009a" stroke="none" stroke-width="0.5"/>
<polygon points="151.4,460 151.4,372.83 176.55,381.27 201.7,374.54 226.85,375.57 252,377.85 252,460" fill="#9966ff" stroke="none" stroke-width="0.5"/>
<polygon points="151.4,460 151.4,373.74 176.55,385.83 201.7,377.05 226.85,377.85 252,379.56 252,460" fill="#ffe0a0" stroke="none" stroke-width="0.5"/>
<polygon points="151.4,460 151.4,375.79 176.55,391.65 201.7,377.62 226.85,378.65 252,380.13 252,460" fill="#7030a0" stroke="none" stroke-width="0.5"/>
<polygon points="151.4,460 151.4,376.25 176.55,392.22 201.7,377.96 226.85,379.1 252,380.47 252,460" fill="#ffc896" stroke="none" stroke-width="0.5"/>
<polygon points="151.4,460 151.4,384.69 176.55,402.38 201.7,385.83 226.85,386.63 252,391.54 252,460" fill="#ff80ff" stroke="none" stroke-width="0.5"/>
<polygon points="151.4,460 151.4,385.26 176.55,404.09 201.7,386.41 226.85,387.2 252,392.22 252,460" fill="#ffd060" stroke="none" stroke-width="0.5"/>
<polygon points="151.4,460 151.4,386.41 176.55,410.82 201.7,387.2 226.85,388.12 252,393.14 252,460" fill="#f8a060" stroke="none" stroke-width="0.5"/>
<polygon points="151.4,460 151.4,388.92 176.55,416.64 201.7,388.92 226.85,389.71 252,398.16 252,460" fill="#a0ffa0" stroke="none" stroke-width="0.5"/>
<polygon points="151.4,460 151.4,393.94 176.55,420.86 201.7,396.45 226.85,393.94 252,411.62 252,460" fill="#00b400" stroke="none" stroke-width="0.5"/>
<polygon points="151.4,460 151.4,403.18 176.55,424.06 201.7,407.51 226.85,400.67 252,425.77 252,460" fill="#6b8e23" stroke="none" stroke-width="0.5"/>
<polygon points="151.4,460 151.4,406.6 176.55,425.09 201.7,409.11 226.85,402.04 252,427.6 252,460" fill="#00ff00" stroke="none" stroke-width="0.5"/>
<polygon points="151.4,460 151.4,408.31 176.55,426.34 201.7,412.08 226.85,404.09 252,430.33 252,460" fill="#007800" stroke="none" stroke-width="0.5"/>
<polygon points="151.4,460 151.4,409.91 176.55,427.25 201.7,413.79 226.85,405.69 252,431.82 252,460" fill="#a0ffd8" stroke="none" stroke-width="0.5"/>
<polygon points="151.4,460 151.4,451.21 176.55,453.27 201.7,444.48 226.85,443.11 252,446.19 252,460" fill="#00e890" stroke="none" stroke-width="0.5"/>
<polygon points="151.4,460 151.4,453.27 176.55,454.64 201.7,447.91 226.85,446.54 252,452.58 252,460" fill="#a0c070" stroke="none" stroke-width="0.5"/>
<polygon points="151.4,460 151.4,457.95 176.55,456.35 201.7,452.58 226.85,452.01 252,456.35 252,460" fill="#c8dcb0" stroke="none" stroke-width="0.5"/>
<line x1="151.4" y1="345.9" x2="151.4" y2="460.5" stroke="#8a8a8a" stroke-width="0.8"/>
<line x1="151.4" y1="460" x2="252" y2="460" stroke="#9a9a9a" stroke-width="0.6"/>
<line x1="151.4" y1="460" x2="151.4" y2="461.5" stroke="#555" stroke-width="0.6"/>
<line x1="176.55" y1="460" x2="176.55" y2="461.5" stroke="#555" stroke-width="0.6"/>
<line x1="201.7" y1="460" x2="201.7" y2="461.5" stroke="#555" stroke-width="0.6"/>
<line x1="226.85" y1="460" x2="226.85" y2="461.5" stroke="#555" stroke-width="0.6"/>
<line x1="252" y1="460" x2="252" y2="461.5" stroke="#555" stroke-width="0.6"/>
<line x1="201.7" y1="343" x2="201.7" y2="461" stroke="#222" stroke-width="0.9" stroke-dasharray="3,2.2"/>
<polygon points="262.1,460 262.1,348.75 287.28,348.75 312.45,348.41 337.62,349.32 362.8,349.89 362.8,460" fill="#a6a6a6" stroke="none" stroke-width="0.5"/>
<polygon points="262.1,460 262.1,352.18 287.28,356.85 312.45,354.8 337.62,351.83 362.8,350.46 362.8,460" fill="#ffc800" stroke="none" stroke-width="0.5"/>
<polygon points="262.1,460 262.1,355.14 287.28,358.57 312.45,356.05 337.62,355.14 362.8,361.87 362.8,460" fill="#b8d4ec" stroke="none" stroke-width="0.5"/>
<polygon points="262.1,460 262.1,360.28 287.28,365.3 312.45,362.79 337.62,361.53 362.8,365.3 362.8,460" fill="#5bb0c8" stroke="none" stroke-width="0.5"/>
<polygon points="262.1,460 262.1,362.79 287.28,367.01 312.45,363.59 337.62,362.79 362.8,367.01 362.8,460" fill="#c86496" stroke="none" stroke-width="0.5"/>
<polygon points="262.1,460 262.1,367.01 287.28,371.23 312.45,367.01 337.62,367.01 362.8,370.32 362.8,460" fill="#ff55ff" stroke="none" stroke-width="0.5"/>
<polygon points="262.1,460 262.1,371.69 287.28,375.68 312.45,369.98 337.62,369.86 362.8,373.74 362.8,460" fill="#d0009a" stroke="none" stroke-width="0.5"/>
<polygon points="262.1,460 262.1,373.74 287.28,377.85 312.45,371 337.62,372.14 362.8,377.05 362.8,460" fill="#9966ff" stroke="none" stroke-width="0.5"/>
<polygon points="262.1,460 262.1,375.11 287.28,380.13 312.45,372.37 337.62,373.74 362.8,380.47 362.8,460" fill="#ffe0a0" stroke="none" stroke-width="0.5"/>
<polygon points="262.1,460 262.1,377.28 287.28,381.5 312.45,373.97 337.62,376.71 362.8,383.1 362.8,460" fill="#7030a0" stroke="none" stroke-width="0.5"/>
<polygon points="262.1,460 262.1,377.96 287.28,382.18 312.45,374.54 337.62,377.39 362.8,383.78 362.8,460" fill="#ffc896" stroke="none" stroke-width="0.5"/>
<polygon points="262.1,460 262.1,389.26 287.28,393.59 312.45,381.27 337.62,389.26 362.8,394.73 362.8,460" fill="#ff0000" stroke="none" stroke-width="0.5"/>
<polygon points="262.1,460 262.1,389.71 287.28,394.39 312.45,381.61 337.62,389.83 362.8,395.08 362.8,460" fill="#ffd060" stroke="none" stroke-width="0.5"/>
<polygon points="262.1,460 262.1,390.4 287.28,396.45 312.45,382.18 337.62,390.51 362.8,395.65 362.8,460" fill="#f8a060" stroke="none" stroke-width="0.5"/>
<polygon points="262.1,460 262.1,391.43 287.28,400.67 312.45,388.12 337.62,393.94 362.8,402.38 362.8,460" fill="#a0ffa0" stroke="none" stroke-width="0.5"/>
<polygon points="262.1,460 262.1,397.25 287.28,404.89 312.45,392.22 337.62,398.96 362.8,409.11 362.8,460" fill="#00b400" stroke="none" stroke-width="0.5"/>
<polygon points="262.1,460 262.1,405.8 287.28,411.51 312.45,400.67 337.62,405.69 362.8,420.06 362.8,460" fill="#6b8e23" stroke="none" stroke-width="0.5"/>
<polygon points="262.1,460 262.1,406.6 287.28,412.42 312.45,404.09 337.62,410.82 362.8,422.58 362.8,460" fill="#007800" stroke="none" stroke-width="0.5"/>
<polygon points="262.1,460 262.1,408.77 287.28,414.47 312.45,406.03 337.62,413.68 362.8,425.09 362.8,460" fill="#a0ffd8" stroke="none" stroke-width="0.5"/>
<polygon points="262.1,460 262.1,449.85 287.28,452.01 312.45,445.28 337.62,444.48 362.8,449.85 362.8,460" fill="#00e890" stroke="none" stroke-width="0.5"/>
<polygon points="262.1,460 262.1,452.01 287.28,453.27 312.45,448.7 337.62,448.7 362.8,452.01 362.8,460" fill="#a0c070" stroke="none" stroke-width="0.5"/>
<polygon points="262.1,460 262.1,456.01 287.28,455.44 312.45,454.64 337.62,453.72 362.8,456.35 362.8,460" fill="#c8dcb0" stroke="none" stroke-width="0.5"/>
<line x1="262.1" y1="345.9" x2="262.1" y2="460.5" stroke="#8a8a8a" stroke-width="0.8"/>
<line x1="262.1" y1="460" x2="362.8" y2="460" stroke="#9a9a9a" stroke-width="0.6"/>
<line x1="262.1" y1="460" x2="262.1" y2="461.5" stroke="#555" stroke-width="0.6"/>
<line x1="287.28" y1="460" x2="287.28" y2="461.5" stroke="#555" stroke-width="0.6"/>
<line x1="312.45" y1="460" x2="312.45" y2="461.5" stroke="#555" stroke-width="0.6"/>
<line x1="337.62" y1="460" x2="337.62" y2="461.5" stroke="#555" stroke-width="0.6"/>
<line x1="362.8" y1="460" x2="362.8" y2="461.5" stroke="#555" stroke-width="0.6"/>
<line x1="312.45" y1="343" x2="312.45" y2="461" stroke="#222" stroke-width="0.9" stroke-dasharray="3,2.2"/>
<line x1="38.6" y1="460" x2="40.9" y2="460" stroke="#555" stroke-width="0.7"/>
<text x="38.8" y="462.1" font-size="7.8" text-anchor="end" fill="#222" textLength="4" lengthAdjust="spacingAndGlyphs">0</text>
<line x1="38.6" y1="437.18" x2="40.9" y2="437.18" stroke="#555" stroke-width="0.7"/>
<text x="38.8" y="439.28" font-size="7.8" text-anchor="end" fill="#222" textLength="8.1" lengthAdjust="spacingAndGlyphs">20</text>
<line x1="38.6" y1="414.36" x2="40.9" y2="414.36" stroke="#555" stroke-width="0.7"/>
<text x="38.8" y="416.46" font-size="7.8" text-anchor="end" fill="#222" textLength="8.1" lengthAdjust="spacingAndGlyphs">40</text>
<line x1="38.6" y1="391.54" x2="40.9" y2="391.54" stroke="#555" stroke-width="0.7"/>
<text x="38.8" y="393.64" font-size="7.8" text-anchor="end" fill="#222" textLength="8.1" lengthAdjust="spacingAndGlyphs">60</text>
<line x1="38.6" y1="368.72" x2="40.9" y2="368.72" stroke="#555" stroke-width="0.7"/>
<text x="38.8" y="370.82" font-size="7.8" text-anchor="end" fill="#222" textLength="8.1" lengthAdjust="spacingAndGlyphs">80</text>
<line x1="38.6" y1="345.9" x2="40.9" y2="345.9" stroke="#555" stroke-width="0.7"/>
<text x="38.8" y="348" font-size="7.8" text-anchor="end" fill="#222" textLength="12" lengthAdjust="spacingAndGlyphs">100</text>
<line x1="39.5" y1="448.59" x2="40.9" y2="448.59" stroke="#555" stroke-width="0.6"/>
<line x1="39.5" y1="425.77" x2="40.9" y2="425.77" stroke="#555" stroke-width="0.6"/>
<line x1="39.5" y1="402.95" x2="40.9" y2="402.95" stroke="#555" stroke-width="0.6"/>
<line x1="39.5" y1="380.13" x2="40.9" y2="380.13" stroke="#555" stroke-width="0.6"/>
<line x1="39.5" y1="357.31" x2="40.9" y2="357.31" stroke="#555" stroke-width="0.6"/>
<text x="24.3" y="410.8" font-size="8.6" text-anchor="middle" fill="#222" transform="rotate(-90 24.3 410.8)" textLength="123" lengthAdjust="spacingAndGlyphs">Percent relative abundance (%)</text>
<text x="43.5" y="466.5" font-size="7.3" text-anchor="end" fill="#222" transform="rotate(-90 43.5 466.5)">2m</text>
<text x="68.65" y="466.5" font-size="7.3" text-anchor="end" fill="#222" transform="rotate(-90 68.65 466.5)">4m</text>
<text x="93.8" y="466.5" font-size="7.3" text-anchor="end" fill="#222" transform="rotate(-90 93.8 466.5)">6m</text>
<text x="118.95" y="466.5" font-size="7.3" text-anchor="end" fill="#222" transform="rotate(-90 118.95 466.5)">8m</text>
<text x="144.1" y="466.5" font-size="7.3" text-anchor="end" fill="#222" transform="rotate(-90 144.1 466.5)">10m</text>
<text x="154" y="466.5" font-size="7.3" text-anchor="end" fill="#222" transform="rotate(-90 154 466.5)">2m</text>
<text x="179.15" y="466.5" font-size="7.3" text-anchor="end" fill="#222" transform="rotate(-90 179.15 466.5)">4m</text>
<text x="204.3" y="466.5" font-size="7.3" text-anchor="end" fill="#222" transform="rotate(-90 204.3 466.5)">6m</text>
<text x="229.45" y="466.5" font-size="7.3" text-anchor="end" fill="#222" transform="rotate(-90 229.45 466.5)">8m</text>
<text x="254.6" y="466.5" font-size="7.3" text-anchor="end" fill="#222" transform="rotate(-90 254.6 466.5)">10m</text>
<text x="264.7" y="466.5" font-size="7.3" text-anchor="end" fill="#222" transform="rotate(-90 264.7 466.5)">2m</text>
<text x="289.88" y="466.5" font-size="7.3" text-anchor="end" fill="#222" transform="rotate(-90 289.88 466.5)">4m</text>
<text x="315.05" y="466.5" font-size="7.3" text-anchor="end" fill="#222" transform="rotate(-90 315.05 466.5)">6m</text>
<text x="340.23" y="466.5" font-size="7.3" text-anchor="end" fill="#222" transform="rotate(-90 340.23 466.5)">8m</text>
<text x="365.4" y="466.5" font-size="7.3" text-anchor="end" fill="#222" transform="rotate(-90 365.4 466.5)">10m</text>
<rect x="40.3" y="481.3" width="102.1" height="9.9" fill="#c4c4c4" stroke="#8a8a8a" stroke-width="0.8"/>
<text x="91.35" y="489.75" font-size="10" text-anchor="middle" fill="#111">Healthy</text>
<rect x="151" y="481.3" width="102" height="9.9" fill="#c4c4c4" stroke="#8a8a8a" stroke-width="0.8"/>
<text x="202" y="489.75" font-size="10" text-anchor="middle" fill="#111">Pristane</text>
<rect x="261" y="481.3" width="102" height="9.9" fill="#c4c4c4" stroke="#8a8a8a" stroke-width="0.8"/>
<text x="312" y="489.75" font-size="10" text-anchor="middle" fill="#111">Knockout</text>
<rect x="376" y="338.9" width="16.1" height="7.8" fill="#ffffff" stroke="#b0b0b0" stroke-width="0.6"/>
<text x="394.2" y="345.4" font-size="7.2" text-anchor="start" fill="#111">Other genera (&lt;1%)</text>
<rect x="376" y="347.76" width="16.1" height="7.8" fill="#a6a6a6" stroke="none" stroke-width="0.6"/>
<text x="394.2" y="354.26" font-size="7.2" text-anchor="start" fill="#111">g__Akkermansia</text>
<rect x="376" y="356.62" width="16.1" height="7.8" fill="#ffff00" stroke="none" stroke-width="0.6"/>
<text x="394.2" y="363.12" font-size="7.2" text-anchor="start" fill="#111">o__RF39_unclassified</text>
<rect x="376" y="365.48" width="16.1" height="7.8" fill="#ffc800" stroke="none" stroke-width="0.6"/>
<text x="394.2" y="371.98" font-size="7.2" text-anchor="start" fill="#111">g__Mycoplasma</text>
<rect x="376" y="374.34" width="16.1" height="7.8" fill="#b8d4ec" stroke="none" stroke-width="0.6"/>
<text x="394.2" y="380.84" font-size="7.2" text-anchor="start" fill="#111">p__Proteobacteria_unclassified</text>
<rect x="376" y="383.2" width="16.1" height="7.8" fill="#5bb0c8" stroke="none" stroke-width="0.6"/>
<text x="394.2" y="389.7" font-size="7.2" text-anchor="start" fill="#111">g__Helicobacter</text>
<rect x="376" y="392.06" width="16.1" height="7.8" fill="#8090b0" stroke="none" stroke-width="0.6"/>
<text x="394.2" y="398.56" font-size="7.2" text-anchor="start" fill="#111">g__Flexispira</text>
<rect x="376" y="400.92" width="16.1" height="7.8" fill="#00ffff" stroke="none" stroke-width="0.6"/>
<text x="394.2" y="407.42" font-size="7.2" text-anchor="start" fill="#111">g__Desulfovibrio</text>
<rect x="376" y="409.78" width="16.1" height="7.8" fill="#1f3864" stroke="none" stroke-width="0.6"/>
<text x="394.2" y="416.28" font-size="7.2" text-anchor="start" fill="#111">c__Betaproteobacteria_unclassified</text>
<rect x="376" y="418.64" width="16.1" height="7.8" fill="#c86496" stroke="none" stroke-width="0.6"/>
<text x="394.2" y="425.14" font-size="7.2" text-anchor="start" fill="#111">p__Firmicutes_unclassified</text>
<rect x="376" y="427.5" width="16.1" height="7.8" fill="#ff55ff" stroke="none" stroke-width="0.6"/>
<text x="394.2" y="434" font-size="7.2" text-anchor="start" fill="#111">g__Allobaculum</text>
<rect x="376" y="436.36" width="16.1" height="7.8" fill="#6e1e3c" stroke="none" stroke-width="0.6"/>
<text x="394.2" y="442.86" font-size="7.2" text-anchor="start" fill="#111">f__Erysipelotrichaceae_unclassified</text>
<rect x="376" y="445.22" width="16.1" height="7.8" fill="#d0009a" stroke="none" stroke-width="0.6"/>
<text x="394.2" y="451.72" font-size="7.2" text-anchor="start" fill="#111">o__Clostridiales_unclassified</text>
<rect x="376" y="454.08" width="16.1" height="7.8" fill="#6000c8" stroke="none" stroke-width="0.6"/>
<text x="394.2" y="460.58" font-size="7.2" text-anchor="start" fill="#111">g__Ruminococcus</text>
<rect x="376" y="462.94" width="16.1" height="7.8" fill="#9966ff" stroke="none" stroke-width="0.6"/>
<text x="394.2" y="469.44" font-size="7.2" text-anchor="start" fill="#111">g__Oscillospira</text>
<rect x="376" y="471.8" width="16.1" height="7.8" fill="#ffe0a0" stroke="none" stroke-width="0.6"/>
<text x="394.2" y="478.3" font-size="7.2" text-anchor="start" fill="#111">f__Ruminococcaceae_unclassified</text>
<rect x="376" y="480.66" width="16.1" height="7.8" fill="#cc00ff" stroke="none" stroke-width="0.6"/>
<text x="394.2" y="487.16" font-size="7.2" text-anchor="start" fill="#111">g__Coprococcus</text>
<rect x="376" y="489.52" width="16.1" height="7.8" fill="#7030a0" stroke="none" stroke-width="0.6"/>
<text x="394.2" y="496.02" font-size="7.2" text-anchor="start" fill="#111">g__Clostridium</text>
<rect x="530.1" y="338.4" width="14.7" height="6.7" fill="#ffc896" stroke="none" stroke-width="0.6"/>
<text x="547" y="344.2" font-size="6.8" text-anchor="start" fill="#111">f__Lachnospiraceae_unclassified</text>
<rect x="530.1" y="346.68" width="14.7" height="6.7" fill="#ff80ff" stroke="none" stroke-width="0.6"/>
<text x="547" y="352.48" font-size="6.8" text-anchor="start" fill="#111">g__Turicibacter</text>
<rect x="530.1" y="354.96" width="14.7" height="6.7" fill="#c8009a" stroke="none" stroke-width="0.6"/>
<text x="547" y="360.76" font-size="6.8" text-anchor="start" fill="#111">o__Lactobacillales_unclassified</text>
<rect x="530.1" y="363.24" width="14.7" height="6.7" fill="#ffd060" stroke="none" stroke-width="0.6"/>
<text x="547" y="369.04" font-size="6.8" text-anchor="start" fill="#111">g__Lactobacillus</text>
<rect x="530.1" y="371.52" width="14.7" height="6.7" fill="#a0500a" stroke="none" stroke-width="0.6"/>
<text x="547" y="377.32" font-size="6.8" text-anchor="start" fill="#111">f__Lactobacillaceae_unclassified</text>
<rect x="530.1" y="379.8" width="14.7" height="6.7" fill="#e0ecd8" stroke="none" stroke-width="0.6"/>
<text x="547" y="385.6" font-size="6.8" text-anchor="start" fill="#111">c__Bacilli_unclassified</text>
<rect x="530.1" y="388.08" width="14.7" height="6.7" fill="#f8a060" stroke="none" stroke-width="0.6"/>
<text x="547" y="393.88" font-size="6.8" text-anchor="start" fill="#111">g__Mucispirillum</text>
<rect x="530.1" y="396.36" width="14.7" height="6.7" fill="#ff0000" stroke="none" stroke-width="0.6"/>
<text x="547" y="402.16" font-size="6.8" text-anchor="start" fill="#111">o__YS2_unclassified</text>
<rect x="530.1" y="404.64" width="14.7" height="6.7" fill="#a0ffa0" stroke="none" stroke-width="0.6"/>
<text x="547" y="410.44" font-size="6.8" text-anchor="start" fill="#111">p__Bacteroidetes_unclassified</text>
<rect x="530.1" y="412.92" width="14.7" height="6.7" fill="#00b400" stroke="none" stroke-width="0.6"/>
<text x="547" y="418.72" font-size="6.8" text-anchor="start" fill="#111">o__Bacteroidales</text>
<rect x="530.1" y="421.2" width="14.7" height="6.7" fill="#00ff00" stroke="none" stroke-width="0.6"/>
<text x="547" y="427" font-size="6.8" text-anchor="start" fill="#111">g__YRC22</text>
<rect x="530.1" y="429.48" width="14.7" height="6.7" fill="#007800" stroke="none" stroke-width="0.6"/>
<text x="547" y="435.28" font-size="6.8" text-anchor="start" fill="#111">g__Odoribacter</text>
<rect x="530.1" y="437.76" width="14.7" height="6.7" fill="#a0ffd8" stroke="none" stroke-width="0.6"/>
<text x="547" y="443.56" font-size="6.8" text-anchor="start" fill="#111">f__S24-7_unclassified</text>
<rect x="530.1" y="446.04" width="14.7" height="6.7" fill="#00e890" stroke="none" stroke-width="0.6"/>
<text x="547" y="451.84" font-size="6.8" text-anchor="start" fill="#111">g__Alistipes</text>
<rect x="530.1" y="454.32" width="14.7" height="6.7" fill="#00a060" stroke="none" stroke-width="0.6"/>
<text x="547" y="460.12" font-size="6.8" text-anchor="start" fill="#111">g__AF12</text>
<rect x="530.1" y="462.6" width="14.7" height="6.7" fill="#a0c070" stroke="none" stroke-width="0.6"/>
<text x="547" y="468.4" font-size="6.8" text-anchor="start" fill="#111">f__Rikenellaceae_unclassified</text>
<rect x="530.1" y="470.88" width="14.7" height="6.7" fill="#505050" stroke="none" stroke-width="0.6"/>
<text x="547" y="476.68" font-size="6.8" text-anchor="start" fill="#111">g__Prevotella</text>
<rect x="530.1" y="479.16" width="14.7" height="6.7" fill="#c8dcb0" stroke="none" stroke-width="0.6"/>
<text x="547" y="484.96" font-size="6.8" text-anchor="start" fill="#111">g__Bacteroides</text>
<rect x="530.1" y="487.44" width="14.7" height="6.7" fill="#6e0000" stroke="none" stroke-width="0.6"/>
<text x="547" y="493.24" font-size="6.8" text-anchor="start" fill="#111">g__Olsenella</text>
<text x="11.8" y="513" font-size="14" text-anchor="start" fill="#000">H</text>
<g stroke="#333" fill="none" stroke-width="0.9">
<rect x="40.37" y="510.93" width="82.22" height="82.22"/>
</g>
<line x1="40.37" y1="531.67" x2="122.59" y2="531.67" stroke="#222" stroke-width="1.3"/>
<text x="81.48" y="519.93" font-size="8.1" text-anchor="middle" font-weight="bold" fill="#111">Alistipes_</text>
<text x="81.48" y="529.23" font-size="8.1" text-anchor="middle" font-weight="bold" fill="#111">finegoldii</text>
<line x1="38.07" y1="531.67" x2="40.37" y2="531.67" stroke="#333" stroke-width="0.7"/>
<text x="35.07" y="534.19" font-size="7" text-anchor="end" fill="#333">0.20</text>
<line x1="38.07" y1="543.96" x2="40.37" y2="543.96" stroke="#333" stroke-width="0.7"/>
<text x="35.07" y="546.48" font-size="7" text-anchor="end" fill="#333">0.15</text>
<line x1="38.07" y1="556.41" x2="40.37" y2="556.41" stroke="#333" stroke-width="0.7"/>
<text x="35.07" y="558.93" font-size="7" text-anchor="end" fill="#333">0.10</text>
<line x1="38.07" y1="568.7" x2="40.37" y2="568.7" stroke="#333" stroke-width="0.7"/>
<text x="35.07" y="571.22" font-size="7" text-anchor="end" fill="#333">0.05</text>
<line x1="38.07" y1="580.85" x2="40.37" y2="580.85" stroke="#333" stroke-width="0.7"/>
<text x="35.07" y="583.37" font-size="7" text-anchor="end" fill="#333">0.00</text>
<line x1="38.07" y1="593.15" x2="40.37" y2="593.15" stroke="#333" stroke-width="0.7"/>
<text x="35.07" y="595.67" font-size="7" text-anchor="end" fill="#333">-0.05</text>
<line x1="39.07" y1="537.74" x2="40.37" y2="537.74" stroke="#333" stroke-width="0.6"/>
<line x1="39.07" y1="550.19" x2="40.37" y2="550.19" stroke="#333" stroke-width="0.6"/>
<line x1="39.07" y1="562.48" x2="40.37" y2="562.48" stroke="#333" stroke-width="0.6"/>
<line x1="39.07" y1="574.78" x2="40.37" y2="574.78" stroke="#333" stroke-width="0.6"/>
<line x1="39.07" y1="586.93" x2="40.37" y2="586.93" stroke="#333" stroke-width="0.6"/>
<line x1="40.07" y1="593.15" x2="40.07" y2="595.35" stroke="#333" stroke-width="0.7"/>
<text x="40.07" y="603.75" font-size="7" text-anchor="middle" fill="#333">0</text>
<line x1="54.44" y1="593.15" x2="54.44" y2="595.35" stroke="#333" stroke-width="0.7"/>
<text x="54.44" y="603.75" font-size="7" text-anchor="middle" fill="#333">2</text>
<line x1="68.81" y1="593.15" x2="68.81" y2="595.35" stroke="#333" stroke-width="0.7"/>
<text x="68.81" y="603.75" font-size="7" text-anchor="middle" fill="#333">4</text>
<line x1="83.19" y1="593.15" x2="83.19" y2="595.35" stroke="#333" stroke-width="0.7"/>
<text x="83.19" y="603.75" font-size="7" text-anchor="middle" fill="#333">6</text>
<line x1="97.56" y1="593.15" x2="97.56" y2="595.35" stroke="#333" stroke-width="0.7"/>
<text x="97.56" y="603.75" font-size="7" text-anchor="middle" fill="#333">8</text>
<line x1="111.93" y1="593.15" x2="111.93" y2="595.35" stroke="#333" stroke-width="0.7"/>
<text x="111.93" y="603.75" font-size="7" text-anchor="middle" fill="#333">10</text>
<text x="81.48" y="611.45" font-size="6.8" text-anchor="middle" font-weight="bold" fill="#111" textLength="65.5" lengthAdjust="spacingAndGlyphs">Mouse age (months)</text>
<line x1="54.44" y1="579.81" x2="54.44" y2="581.3" stroke="#ff1f1f" stroke-width="0.9"/>
<line x1="53.04" y1="579.81" x2="55.84" y2="579.81" stroke="#ff1f1f" stroke-width="0.9"/>
<line x1="53.04" y1="581.3" x2="55.84" y2="581.3" stroke="#ff1f1f" stroke-width="0.9"/>
<line x1="68.81" y1="574.63" x2="68.81" y2="582.04" stroke="#ff1f1f" stroke-width="0.9"/>
<line x1="67.41" y1="574.63" x2="70.21" y2="574.63" stroke="#ff1f1f" stroke-width="0.9"/>
<line x1="67.41" y1="582.04" x2="70.21" y2="582.04" stroke="#ff1f1f" stroke-width="0.9"/>
<line x1="83.19" y1="572.41" x2="83.19" y2="576.11" stroke="#ff1f1f" stroke-width="0.9"/>
<line x1="81.79" y1="572.41" x2="84.59" y2="572.41" stroke="#ff1f1f" stroke-width="0.9"/>
<line x1="81.79" y1="576.11" x2="84.59" y2="576.11" stroke="#ff1f1f" stroke-width="0.9"/>
<line x1="97.56" y1="574.63" x2="97.56" y2="578.33" stroke="#ff1f1f" stroke-width="0.9"/>
<line x1="96.16" y1="574.63" x2="98.96" y2="574.63" stroke="#ff1f1f" stroke-width="0.9"/>
<line x1="96.16" y1="578.33" x2="98.96" y2="578.33" stroke="#ff1f1f" stroke-width="0.9"/>
<line x1="111.93" y1="567.22" x2="111.93" y2="580.85" stroke="#ff1f1f" stroke-width="0.9"/>
<line x1="110.53" y1="567.22" x2="113.33" y2="567.22" stroke="#ff1f1f" stroke-width="0.9"/>
<line x1="110.53" y1="580.85" x2="113.33" y2="580.85" stroke="#ff1f1f" stroke-width="0.9"/>
<polyline points="54.44,580.56 68.81,577.59 83.19,574.33 97.56,576.11 111.93,573.89" fill="none" stroke="#ff1f1f" stroke-width="1" stroke-linejoin="round" stroke-linecap="round"/>
<circle cx="54.44" cy="580.56" r="2.1" fill="#ff1f1f"/>
<circle cx="68.81" cy="577.59" r="2.1" fill="#ff1f1f"/>
<circle cx="83.19" cy="574.33" r="2.1" fill="#ff1f1f"/>
<circle cx="97.56" cy="576.11" r="2.1" fill="#ff1f1f"/>
<circle cx="111.93" cy="573.89" r="2.1" fill="#ff1f1f"/>
<line x1="54.44" y1="575.37" x2="54.44" y2="579.81" stroke="#f040e8" stroke-width="0.9"/>
<line x1="53.04" y1="575.37" x2="55.84" y2="575.37" stroke="#f040e8" stroke-width="0.9"/>
<line x1="53.04" y1="579.81" x2="55.84" y2="579.81" stroke="#f040e8" stroke-width="0.9"/>
<line x1="68.81" y1="575.81" x2="68.81" y2="579.81" stroke="#f040e8" stroke-width="0.9"/>
<line x1="67.41" y1="575.81" x2="70.21" y2="575.81" stroke="#f040e8" stroke-width="0.9"/>
<line x1="67.41" y1="579.81" x2="70.21" y2="579.81" stroke="#f040e8" stroke-width="0.9"/>
<line x1="83.19" y1="562.48" x2="83.19" y2="584.26" stroke="#f040e8" stroke-width="0.9"/>
<line x1="81.79" y1="562.48" x2="84.59" y2="562.48" stroke="#f040e8" stroke-width="0.9"/>
<line x1="81.79" y1="584.26" x2="84.59" y2="584.26" stroke="#f040e8" stroke-width="0.9"/>
<line x1="97.56" y1="573.15" x2="97.56" y2="578.33" stroke="#f040e8" stroke-width="0.9"/>
<line x1="96.16" y1="573.15" x2="98.96" y2="573.15" stroke="#f040e8" stroke-width="0.9"/>
<line x1="96.16" y1="578.33" x2="98.96" y2="578.33" stroke="#f040e8" stroke-width="0.9"/>
<line x1="111.93" y1="548.7" x2="111.93" y2="564.26" stroke="#f040e8" stroke-width="0.9"/>
<line x1="110.53" y1="548.7" x2="113.33" y2="548.7" stroke="#f040e8" stroke-width="0.9"/>
<line x1="110.53" y1="564.26" x2="113.33" y2="564.26" stroke="#f040e8" stroke-width="0.9"/>
<polyline points="54.44,577.59 68.81,577.89 83.19,573.15 97.56,575.81 111.93,556.56" fill="none" stroke="#f040e8" stroke-width="1" stroke-linejoin="round" stroke-linecap="round"/>
<circle cx="54.44" cy="577.59" r="2.1" fill="#f040e8"/>
<circle cx="68.81" cy="577.89" r="2.1" fill="#f040e8"/>
<circle cx="83.19" cy="573.15" r="2.1" fill="#f040e8"/>
<circle cx="97.56" cy="575.81" r="2.1" fill="#f040e8"/>
<circle cx="111.93" cy="556.56" r="2.1" fill="#f040e8"/>
<line x1="54.44" y1="570.19" x2="54.44" y2="579.07" stroke="#4da3f5" stroke-width="0.9"/>
<line x1="53.04" y1="570.19" x2="55.84" y2="570.19" stroke="#4da3f5" stroke-width="0.9"/>
<line x1="53.04" y1="579.07" x2="55.84" y2="579.07" stroke="#4da3f5" stroke-width="0.9"/>
<line x1="68.81" y1="574.63" x2="68.81" y2="579.81" stroke="#4da3f5" stroke-width="0.9"/>
<line x1="67.41" y1="574.63" x2="70.21" y2="574.63" stroke="#4da3f5" stroke-width="0.9"/>
<line x1="67.41" y1="579.81" x2="70.21" y2="579.81" stroke="#4da3f5" stroke-width="0.9"/>
<line x1="83.19" y1="577.59" x2="83.19" y2="581.3" stroke="#4da3f5" stroke-width="0.9"/>
<line x1="81.79" y1="577.59" x2="84.59" y2="577.59" stroke="#4da3f5" stroke-width="0.9"/>
<line x1="81.79" y1="581.3" x2="84.59" y2="581.3" stroke="#4da3f5" stroke-width="0.9"/>
<line x1="97.56" y1="565" x2="97.56" y2="571.67" stroke="#4da3f5" stroke-width="0.9"/>
<line x1="96.16" y1="565" x2="98.96" y2="565" stroke="#4da3f5" stroke-width="0.9"/>
<line x1="96.16" y1="571.67" x2="98.96" y2="571.67" stroke="#4da3f5" stroke-width="0.9"/>
<line x1="111.93" y1="572.41" x2="111.93" y2="577.59" stroke="#4da3f5" stroke-width="0.9"/>
<line x1="110.53" y1="572.41" x2="113.33" y2="572.41" stroke="#4da3f5" stroke-width="0.9"/>
<line x1="110.53" y1="577.59" x2="113.33" y2="577.59" stroke="#4da3f5" stroke-width="0.9"/>
<polyline points="54.44,574.63 68.81,577.15 83.19,579.52 97.56,568.7 111.93,574.63" fill="none" stroke="#4da3f5" stroke-width="1" stroke-linejoin="round" stroke-linecap="round"/>
<circle cx="54.44" cy="574.63" r="2.1" fill="#4da3f5"/>
<circle cx="68.81" cy="577.15" r="2.1" fill="#4da3f5"/>
<circle cx="83.19" cy="579.52" r="2.1" fill="#4da3f5"/>
<circle cx="97.56" cy="568.7" r="2.1" fill="#4da3f5"/>
<circle cx="111.93" cy="574.63" r="2.1" fill="#4da3f5"/>
<polygon points="83.33,554.38 84.11,556.06 85.95,556.28 84.59,557.53 84.95,559.35 83.33,558.45 81.72,559.35 82.08,557.53 80.72,556.28 82.56,556.06" fill="#ff1f1f" stroke="none" stroke-width="0.5"/>
<polygon points="97.41,557.04 98.18,558.73 100.02,558.94 98.66,560.2 99.02,562.02 97.41,561.11 95.79,562.02 96.15,560.2 94.79,558.94 96.63,558.73" fill="#ff1f1f" stroke="none" stroke-width="0.5"/>
<polygon points="111.93,540.3 112.7,541.98 114.54,542.2 113.18,543.46 113.54,545.28 111.93,544.37 110.31,545.28 110.67,543.46 109.31,542.2 111.15,541.98" fill="#f040e8" stroke="none" stroke-width="0.5"/>
<line x1="40.67" y1="580.85" x2="122.3" y2="580.85" stroke="#555" stroke-width="0.8" stroke-dasharray="1,1.6"/>
<g stroke="#333" fill="none" stroke-width="0.9">
<rect x="141.37" y="510.93" width="81.78" height="82.52"/>
</g>
<line x1="141.37" y1="532.41" x2="223.15" y2="532.41" stroke="#222" stroke-width="1.3"/>
<text x="182.26" y="519.93" font-size="8.1" text-anchor="middle" font-weight="bold" fill="#111">Alistipes_</text>
<text x="182.26" y="529.23" font-size="8.1" text-anchor="middle" font-weight="bold" fill="#111">indistinct</text>
<line x1="139.07" y1="532.41" x2="141.37" y2="532.41" stroke="#333" stroke-width="0.7"/>
<text x="136.07" y="534.93" font-size="7" text-anchor="end" fill="#333">0.3</text>
<line x1="139.07" y1="549.44" x2="141.37" y2="549.44" stroke="#333" stroke-width="0.7"/>
<text x="136.07" y="551.96" font-size="7" text-anchor="end" fill="#333">0.2</text>
<line x1="139.07" y1="566.93" x2="141.37" y2="566.93" stroke="#333" stroke-width="0.7"/>
<text x="136.07" y="569.45" font-size="7" text-anchor="end" fill="#333">0.1</text>
<line x1="139.07" y1="584.56" x2="141.37" y2="584.56" stroke="#333" stroke-width="0.7"/>
<text x="136.07" y="587.08" font-size="7" text-anchor="end" fill="#333">0.0</text>
<line x1="140.07" y1="540.85" x2="141.37" y2="540.85" stroke="#333" stroke-width="0.6"/>
<line x1="140.07" y1="558.19" x2="141.37" y2="558.19" stroke="#333" stroke-width="0.6"/>
<line x1="140.07" y1="575.67" x2="141.37" y2="575.67" stroke="#333" stroke-width="0.6"/>
<line x1="140.07" y1="589" x2="141.37" y2="589" stroke="#333" stroke-width="0.6"/>
<line x1="141.19" y1="593.44" x2="141.19" y2="595.64" stroke="#333" stroke-width="0.7"/>
<text x="141.19" y="604.04" font-size="7" text-anchor="middle" fill="#333">0</text>
<line x1="155.44" y1="593.44" x2="155.44" y2="595.64" stroke="#333" stroke-width="0.7"/>
<text x="155.44" y="604.04" font-size="7" text-anchor="middle" fill="#333">2</text>
<line x1="169.7" y1="593.44" x2="169.7" y2="595.64" stroke="#333" stroke-width="0.7"/>
<text x="169.7" y="604.04" font-size="7" text-anchor="middle" fill="#333">4</text>
<line x1="183.96" y1="593.44" x2="183.96" y2="595.64" stroke="#333" stroke-width="0.7"/>
<text x="183.96" y="604.04" font-size="7" text-anchor="middle" fill="#333">6</text>
<line x1="198.22" y1="593.44" x2="198.22" y2="595.64" stroke="#333" stroke-width="0.7"/>
<text x="198.22" y="604.04" font-size="7" text-anchor="middle" fill="#333">8</text>
<line x1="212.48" y1="593.44" x2="212.48" y2="595.64" stroke="#333" stroke-width="0.7"/>
<text x="212.48" y="604.04" font-size="7" text-anchor="middle" fill="#333">10</text>
<text x="182.26" y="611.74" font-size="6.8" text-anchor="middle" font-weight="bold" fill="#111" textLength="65.5" lengthAdjust="spacingAndGlyphs">Mouse age (months)</text>
<line x1="155.44" y1="573.15" x2="155.44" y2="579.07" stroke="#ff1f1f" stroke-width="0.9"/>
<line x1="154.04" y1="573.15" x2="156.84" y2="573.15" stroke="#ff1f1f" stroke-width="0.9"/>
<line x1="154.04" y1="579.07" x2="156.84" y2="579.07" stroke="#ff1f1f" stroke-width="0.9"/>
<line x1="169.7" y1="574.63" x2="169.7" y2="585" stroke="#ff1f1f" stroke-width="0.9"/>
<line x1="168.3" y1="574.63" x2="171.1" y2="574.63" stroke="#ff1f1f" stroke-width="0.9"/>
<line x1="168.3" y1="585" x2="171.1" y2="585" stroke="#ff1f1f" stroke-width="0.9"/>
<line x1="183.96" y1="562.48" x2="183.96" y2="577.59" stroke="#ff1f1f" stroke-width="0.9"/>
<line x1="182.56" y1="562.48" x2="185.36" y2="562.48" stroke="#ff1f1f" stroke-width="0.9"/>
<line x1="182.56" y1="577.59" x2="185.36" y2="577.59" stroke="#ff1f1f" stroke-width="0.9"/>
<line x1="198.22" y1="567.22" x2="198.22" y2="573.15" stroke="#ff1f1f" stroke-width="0.9"/>
<line x1="196.82" y1="567.22" x2="199.62" y2="567.22" stroke="#ff1f1f" stroke-width="0.9"/>
<line x1="196.82" y1="573.15" x2="199.62" y2="573.15" stroke="#ff1f1f" stroke-width="0.9"/>
<line x1="212.48" y1="580.56" x2="212.48" y2="582.78" stroke="#ff1f1f" stroke-width="0.9"/>
<line x1="211.08" y1="580.56" x2="213.88" y2="580.56" stroke="#ff1f1f" stroke-width="0.9"/>
<line x1="211.08" y1="582.78" x2="213.88" y2="582.78" stroke="#ff1f1f" stroke-width="0.9"/>
<polyline points="155.44,576.11 169.7,578.78 183.96,570.19 198.22,570.19 212.48,581.74" fill="none" stroke="#ff1f1f" stroke-width="1" stroke-linejoin="round" stroke-linecap="round"/>
<circle cx="155.44" cy="576.11" r="2.1" fill="#ff1f1f"/>
<circle cx="169.7" cy="578.78" r="2.1" fill="#ff1f1f"/>
<circle cx="183.96" cy="570.19" r="2.1" fill="#ff1f1f"/>
<circle cx="198.22" cy="570.19" r="2.1" fill="#ff1f1f"/>
<circle cx="212.48" cy="581.74" r="2.1" fill="#ff1f1f"/>
<line x1="155.44" y1="554.19" x2="155.44" y2="574.63" stroke="#f040e8" stroke-width="0.9"/>
<line x1="154.04" y1="554.19" x2="156.84" y2="554.19" stroke="#f040e8" stroke-width="0.9"/>
<line x1="154.04" y1="574.63" x2="156.84" y2="574.63" stroke="#f040e8" stroke-width="0.9"/>
<line x1="169.7" y1="574.63" x2="169.7" y2="582.04" stroke="#f040e8" stroke-width="0.9"/>
<line x1="168.3" y1="574.63" x2="171.1" y2="574.63" stroke="#f040e8" stroke-width="0.9"/>
<line x1="168.3" y1="582.04" x2="171.1" y2="582.04" stroke="#f040e8" stroke-width="0.9"/>
<line x1="183.96" y1="556.11" x2="183.96" y2="587.22" stroke="#f040e8" stroke-width="0.9"/>
<line x1="182.56" y1="556.11" x2="185.36" y2="556.11" stroke="#f040e8" stroke-width="0.9"/>
<line x1="182.56" y1="587.22" x2="185.36" y2="587.22" stroke="#f040e8" stroke-width="0.9"/>
<line x1="198.22" y1="562.04" x2="198.22" y2="577.59" stroke="#f040e8" stroke-width="0.9"/>
<line x1="196.82" y1="562.04" x2="199.62" y2="562.04" stroke="#f040e8" stroke-width="0.9"/>
<line x1="196.82" y1="577.59" x2="199.62" y2="577.59" stroke="#f040e8" stroke-width="0.9"/>
<line x1="212.48" y1="574.63" x2="212.48" y2="577.3" stroke="#f040e8" stroke-width="0.9"/>
<line x1="211.08" y1="574.63" x2="213.88" y2="574.63" stroke="#f040e8" stroke-width="0.9"/>
<line x1="211.08" y1="577.3" x2="213.88" y2="577.3" stroke="#f040e8" stroke-width="0.9"/>
<polyline points="155.44,563.96 169.7,578.33 183.96,571.67 198.22,566.93 212.48,575.81" fill="none" stroke="#f040e8" stroke-width="1" stroke-linejoin="round" stroke-linecap="round"/>
<circle cx="155.44" cy="563.96" r="2.1" fill="#f040e8"/>
<circle cx="169.7" cy="578.33" r="2.1" fill="#f040e8"/>
<circle cx="183.96" cy="571.67" r="2.1" fill="#f040e8"/>
<circle cx="198.22" cy="566.93" r="2.1" fill="#f040e8"/>
<circle cx="212.48" cy="575.81" r="2.1" fill="#f040e8"/>
<line x1="155.44" y1="565.74" x2="155.44" y2="570.93" stroke="#4da3f5" stroke-width="0.9"/>
<line x1="154.04" y1="565.74" x2="156.84" y2="565.74" stroke="#4da3f5" stroke-width="0.9"/>
<line x1="154.04" y1="570.93" x2="156.84" y2="570.93" stroke="#4da3f5" stroke-width="0.9"/>
<line x1="169.7" y1="571.37" x2="169.7" y2="579.07" stroke="#4da3f5" stroke-width="0.9"/>
<line x1="168.3" y1="571.37" x2="171.1" y2="571.37" stroke="#4da3f5" stroke-width="0.9"/>
<line x1="168.3" y1="579.07" x2="171.1" y2="579.07" stroke="#4da3f5" stroke-width="0.9"/>
<line x1="183.96" y1="570.19" x2="183.96" y2="580.56" stroke="#4da3f5" stroke-width="0.9"/>
<line x1="182.56" y1="570.19" x2="185.36" y2="570.19" stroke="#4da3f5" stroke-width="0.9"/>
<line x1="182.56" y1="580.56" x2="185.36" y2="580.56" stroke="#4da3f5" stroke-width="0.9"/>
<line x1="198.22" y1="555.67" x2="198.22" y2="565.74" stroke="#4da3f5" stroke-width="0.9"/>
<line x1="196.82" y1="555.67" x2="199.62" y2="555.67" stroke="#4da3f5" stroke-width="0.9"/>
<line x1="196.82" y1="565.74" x2="199.62" y2="565.74" stroke="#4da3f5" stroke-width="0.9"/>
<line x1="212.48" y1="567.22" x2="212.48" y2="569.44" stroke="#4da3f5" stroke-width="0.9"/>
<line x1="211.08" y1="567.22" x2="213.88" y2="567.22" stroke="#4da3f5" stroke-width="0.9"/>
<line x1="211.08" y1="569.44" x2="213.88" y2="569.44" stroke="#4da3f5" stroke-width="0.9"/>
<polyline points="155.44,568.41 169.7,575.81 183.96,573.44 198.22,560.56 212.48,568.41" fill="none" stroke="#4da3f5" stroke-width="1" stroke-linejoin="round" stroke-linecap="round"/>
<circle cx="155.44" cy="568.41" r="2.1" fill="#4da3f5"/>
<circle cx="169.7" cy="575.81" r="2.1" fill="#4da3f5"/>
<circle cx="183.96" cy="573.44" r="2.1" fill="#4da3f5"/>
<circle cx="198.22" cy="560.56" r="2.1" fill="#4da3f5"/>
<circle cx="212.48" cy="568.41" r="2.1" fill="#4da3f5"/>
<polygon points="155.44,545.49 156.22,547.17 158.06,547.39 156.7,548.65 157.06,550.46 155.44,549.56 153.83,550.46 154.19,548.65 152.83,547.39 154.67,547.17" fill="#ff1f1f" stroke="none" stroke-width="0.5"/>
<polygon points="198.11,546.97 198.89,548.65 200.73,548.87 199.37,550.13 199.73,551.94 198.11,551.04 196.49,551.94 196.86,550.13 195.5,548.87 197.34,548.65" fill="#ff1f1f" stroke="none" stroke-width="0.5"/>
<polygon points="212.48,550.38 213.26,552.06 215.1,552.28 213.74,553.53 214.1,555.35 212.48,554.45 210.87,555.35 211.23,553.53 209.87,552.28 211.71,552.06" fill="#f040e8" stroke="none" stroke-width="0.5"/>
<polygon points="212.48,558.52 213.26,560.21 215.1,560.43 213.74,561.68 214.1,563.5 212.48,562.6 210.87,563.5 211.23,561.68 209.87,560.43 211.71,560.21" fill="#ff1f1f" stroke="none" stroke-width="0.5"/>
<line x1="141.67" y1="584.56" x2="222.85" y2="584.56" stroke="#555" stroke-width="0.8" stroke-dasharray="1,1.6"/>
<g stroke="#333" fill="none" stroke-width="0.9">
<rect x="241.37" y="510.93" width="82.22" height="82.52"/>
</g>
<line x1="241.37" y1="532.41" x2="323.59" y2="532.41" stroke="#222" stroke-width="1.3"/>
<text x="282.48" y="519.93" font-size="8.1" text-anchor="middle" font-weight="bold" fill="#111">Akkermansia_</text>
<text x="282.48" y="529.23" font-size="8.1" text-anchor="middle" font-weight="bold" fill="#111">muciniphila</text>
<line x1="239.07" y1="532.41" x2="241.37" y2="532.41" stroke="#333" stroke-width="0.7"/>
<text x="236.07" y="534.93" font-size="7" text-anchor="end" fill="#333">20</text>
<line x1="239.07" y1="546.19" x2="241.37" y2="546.19" stroke="#333" stroke-width="0.7"/>
<text x="236.07" y="548.71" font-size="7" text-anchor="end" fill="#333">15</text>
<line x1="239.07" y1="559.81" x2="241.37" y2="559.81" stroke="#333" stroke-width="0.7"/>
<text x="236.07" y="562.33" font-size="7" text-anchor="end" fill="#333">10</text>
<line x1="239.07" y1="573.89" x2="241.37" y2="573.89" stroke="#333" stroke-width="0.7"/>
<text x="236.07" y="576.41" font-size="7" text-anchor="end" fill="#333">5</text>
<line x1="239.07" y1="587.67" x2="241.37" y2="587.67" stroke="#333" stroke-width="0.7"/>
<text x="236.07" y="590.19" font-size="7" text-anchor="end" fill="#333">0</text>
<line x1="240.07" y1="539.22" x2="241.37" y2="539.22" stroke="#333" stroke-width="0.6"/>
<line x1="240.07" y1="553" x2="241.37" y2="553" stroke="#333" stroke-width="0.6"/>
<line x1="240.07" y1="566.78" x2="241.37" y2="566.78" stroke="#333" stroke-width="0.6"/>
<line x1="240.07" y1="580.7" x2="241.37" y2="580.7" stroke="#333" stroke-width="0.6"/>
<line x1="241.11" y1="593.44" x2="241.11" y2="595.64" stroke="#333" stroke-width="0.7"/>
<text x="241.11" y="604.04" font-size="7" text-anchor="middle" fill="#333">0</text>
<line x1="255.44" y1="593.44" x2="255.44" y2="595.64" stroke="#333" stroke-width="0.7"/>
<text x="255.44" y="604.04" font-size="7" text-anchor="middle" fill="#333">2</text>
<line x1="269.78" y1="593.44" x2="269.78" y2="595.64" stroke="#333" stroke-width="0.7"/>
<text x="269.78" y="604.04" font-size="7" text-anchor="middle" fill="#333">4</text>
<line x1="284.11" y1="593.44" x2="284.11" y2="595.64" stroke="#333" stroke-width="0.7"/>
<text x="284.11" y="604.04" font-size="7" text-anchor="middle" fill="#333">6</text>
<line x1="298.44" y1="593.44" x2="298.44" y2="595.64" stroke="#333" stroke-width="0.7"/>
<text x="298.44" y="604.04" font-size="7" text-anchor="middle" fill="#333">8</text>
<line x1="312.78" y1="593.44" x2="312.78" y2="595.64" stroke="#333" stroke-width="0.7"/>
<text x="312.78" y="604.04" font-size="7" text-anchor="middle" fill="#333">10</text>
<text x="282.48" y="611.74" font-size="6.8" text-anchor="middle" font-weight="bold" fill="#111" textLength="65.5" lengthAdjust="spacingAndGlyphs">Mouse age (months)</text>
<line x1="255.44" y1="579.07" x2="255.44" y2="585.74" stroke="#ff1f1f" stroke-width="0.9"/>
<line x1="254.04" y1="579.07" x2="256.84" y2="579.07" stroke="#ff1f1f" stroke-width="0.9"/>
<line x1="254.04" y1="585.74" x2="256.84" y2="585.74" stroke="#ff1f1f" stroke-width="0.9"/>
<line x1="269.78" y1="562.04" x2="269.78" y2="590.93" stroke="#ff1f1f" stroke-width="0.9"/>
<line x1="268.38" y1="562.04" x2="271.18" y2="562.04" stroke="#ff1f1f" stroke-width="0.9"/>
<line x1="268.38" y1="590.93" x2="271.18" y2="590.93" stroke="#ff1f1f" stroke-width="0.9"/>
<line x1="284.11" y1="543.22" x2="284.11" y2="587.22" stroke="#ff1f1f" stroke-width="0.9"/>
<line x1="282.71" y1="543.22" x2="285.51" y2="543.22" stroke="#ff1f1f" stroke-width="0.9"/>
<line x1="282.71" y1="587.22" x2="285.51" y2="587.22" stroke="#ff1f1f" stroke-width="0.9"/>
<line x1="298.44" y1="578.33" x2="298.44" y2="586.48" stroke="#ff1f1f" stroke-width="0.9"/>
<line x1="297.04" y1="578.33" x2="299.84" y2="578.33" stroke="#ff1f1f" stroke-width="0.9"/>
<line x1="297.04" y1="586.48" x2="299.84" y2="586.48" stroke="#ff1f1f" stroke-width="0.9"/>
<line x1="312.78" y1="586.78" x2="312.78" y2="588.26" stroke="#ff1f1f" stroke-width="0.9"/>
<line x1="311.38" y1="586.78" x2="314.18" y2="586.78" stroke="#ff1f1f" stroke-width="0.9"/>
<line x1="311.38" y1="588.26" x2="314.18" y2="588.26" stroke="#ff1f1f" stroke-width="0.9"/>
<polyline points="255.44,582.78 269.78,576.56 284.11,563.52 298.44,583.22 312.78,587.67" fill="none" stroke="#ff1f1f" stroke-width="1" stroke-linejoin="round" stroke-linecap="round"/>
<circle cx="255.44" cy="582.78" r="2.1" fill="#ff1f1f"/>
<circle cx="269.78" cy="576.56" r="2.1" fill="#ff1f1f"/>
<circle cx="284.11" cy="563.52" r="2.1" fill="#ff1f1f"/>
<circle cx="298.44" cy="583.22" r="2.1" fill="#ff1f1f"/>
<circle cx="312.78" cy="587.67" r="2.1" fill="#ff1f1f"/>
<line x1="255.44" y1="576.85" x2="255.44" y2="589.15" stroke="#f040e8" stroke-width="0.9"/>
<line x1="254.04" y1="576.85" x2="256.84" y2="576.85" stroke="#f040e8" stroke-width="0.9"/>
<line x1="254.04" y1="589.15" x2="256.84" y2="589.15" stroke="#f040e8" stroke-width="0.9"/>
<line x1="269.78" y1="581.3" x2="269.78" y2="587.22" stroke="#f040e8" stroke-width="0.9"/>
<line x1="268.38" y1="581.3" x2="271.18" y2="581.3" stroke="#f040e8" stroke-width="0.9"/>
<line x1="268.38" y1="587.22" x2="271.18" y2="587.22" stroke="#f040e8" stroke-width="0.9"/>
<line x1="284.11" y1="577.3" x2="284.11" y2="587.67" stroke="#f040e8" stroke-width="0.9"/>
<line x1="282.71" y1="577.3" x2="285.51" y2="577.3" stroke="#f040e8" stroke-width="0.9"/>
<line x1="282.71" y1="587.67" x2="285.51" y2="587.67" stroke="#f040e8" stroke-width="0.9"/>
<line x1="298.44" y1="581.3" x2="298.44" y2="585" stroke="#f040e8" stroke-width="0.9"/>
<line x1="297.04" y1="581.3" x2="299.84" y2="581.3" stroke="#f040e8" stroke-width="0.9"/>
<line x1="297.04" y1="585" x2="299.84" y2="585" stroke="#f040e8" stroke-width="0.9"/>
<line x1="312.78" y1="586.78" x2="312.78" y2="588.26" stroke="#f040e8" stroke-width="0.9"/>
<line x1="311.38" y1="586.78" x2="314.18" y2="586.78" stroke="#f040e8" stroke-width="0.9"/>
<line x1="311.38" y1="588.26" x2="314.18" y2="588.26" stroke="#f040e8" stroke-width="0.9"/>
<polyline points="255.44,582.04 269.78,584.26 284.11,582.33 298.44,583.22 312.78,587.67" fill="none" stroke="#f040e8" stroke-width="1" stroke-linejoin="round" stroke-linecap="round"/>
<circle cx="255.44" cy="582.04" r="2.1" fill="#f040e8"/>
<circle cx="269.78" cy="584.26" r="2.1" fill="#f040e8"/>
<circle cx="284.11" cy="582.33" r="2.1" fill="#f040e8"/>
<circle cx="298.44" cy="583.22" r="2.1" fill="#f040e8"/>
<circle cx="312.78" cy="587.67" r="2.1" fill="#f040e8"/>
<line x1="255.44" y1="581.3" x2="255.44" y2="585.74" stroke="#4da3f5" stroke-width="0.9"/>
<line x1="254.04" y1="581.3" x2="256.84" y2="581.3" stroke="#4da3f5" stroke-width="0.9"/>
<line x1="254.04" y1="585.74" x2="256.84" y2="585.74" stroke="#4da3f5" stroke-width="0.9"/>
<line x1="269.78" y1="579.81" x2="269.78" y2="584.26" stroke="#4da3f5" stroke-width="0.9"/>
<line x1="268.38" y1="579.81" x2="271.18" y2="579.81" stroke="#4da3f5" stroke-width="0.9"/>
<line x1="268.38" y1="584.26" x2="271.18" y2="584.26" stroke="#4da3f5" stroke-width="0.9"/>
<line x1="284.11" y1="583.52" x2="284.11" y2="587.22" stroke="#4da3f5" stroke-width="0.9"/>
<line x1="282.71" y1="583.52" x2="285.51" y2="583.52" stroke="#4da3f5" stroke-width="0.9"/>
<line x1="282.71" y1="587.22" x2="285.51" y2="587.22" stroke="#4da3f5" stroke-width="0.9"/>
<line x1="298.44" y1="586.48" x2="298.44" y2="587.96" stroke="#4da3f5" stroke-width="0.9"/>
<line x1="297.04" y1="586.48" x2="299.84" y2="586.48" stroke="#4da3f5" stroke-width="0.9"/>
<line x1="297.04" y1="587.96" x2="299.84" y2="587.96" stroke="#4da3f5" stroke-width="0.9"/>
<line x1="312.78" y1="586.48" x2="312.78" y2="587.96" stroke="#4da3f5" stroke-width="0.9"/>
<line x1="311.38" y1="586.48" x2="314.18" y2="586.48" stroke="#4da3f5" stroke-width="0.9"/>
<line x1="311.38" y1="587.96" x2="314.18" y2="587.96" stroke="#4da3f5" stroke-width="0.9"/>
<polyline points="255.44,583.52 269.78,582.33 284.11,585.3 298.44,587.22 312.78,587.22" fill="none" stroke="#4da3f5" stroke-width="1" stroke-linejoin="round" stroke-linecap="round"/>
<circle cx="255.44" cy="583.52" r="2.1" fill="#4da3f5"/>
<circle cx="269.78" cy="582.33" r="2.1" fill="#4da3f5"/>
<circle cx="284.11" cy="585.3" r="2.1" fill="#4da3f5"/>
<circle cx="298.44" cy="587.22" r="2.1" fill="#4da3f5"/>
<circle cx="312.78" cy="587.22" r="2.1" fill="#4da3f5"/>
<line x1="241.67" y1="587.67" x2="323.3" y2="587.67" stroke="#555" stroke-width="0.8" stroke-dasharray="1,1.6"/>
<g stroke="#333" fill="none" stroke-width="0.9">
<rect x="342.37" y="510.93" width="82.22" height="82.22"/>
</g>
<line x1="342.37" y1="531.96" x2="424.59" y2="531.96" stroke="#222" stroke-width="1.3"/>
<text x="383.48" y="519.93" font-size="8.1" text-anchor="middle" font-weight="bold" fill="#111">Bacteroides_</text>
<text x="383.48" y="529.23" font-size="8.1" text-anchor="middle" font-weight="bold" fill="#111">acidifaciens</text>
<line x1="340.07" y1="543.22" x2="342.37" y2="543.22" stroke="#333" stroke-width="0.7"/>
<text x="337.07" y="545.74" font-size="7" text-anchor="end" fill="#333">4</text>
<line x1="340.07" y1="565.3" x2="342.37" y2="565.3" stroke="#333" stroke-width="0.7"/>
<text x="337.07" y="567.82" font-size="7" text-anchor="end" fill="#333">2</text>
<line x1="340.07" y1="587.22" x2="342.37" y2="587.22" stroke="#333" stroke-width="0.7"/>
<text x="337.07" y="589.74" font-size="7" text-anchor="end" fill="#333">0</text>
<line x1="341.07" y1="532.11" x2="342.37" y2="532.11" stroke="#333" stroke-width="0.6"/>
<line x1="341.07" y1="554.19" x2="342.37" y2="554.19" stroke="#333" stroke-width="0.6"/>
<line x1="341.07" y1="576.26" x2="342.37" y2="576.26" stroke="#333" stroke-width="0.6"/>
<line x1="342.67" y1="593.15" x2="342.67" y2="595.35" stroke="#333" stroke-width="0.7"/>
<text x="342.67" y="603.75" font-size="7" text-anchor="middle" fill="#333">0</text>
<line x1="356.89" y1="593.15" x2="356.89" y2="595.35" stroke="#333" stroke-width="0.7"/>
<text x="356.89" y="603.75" font-size="7" text-anchor="middle" fill="#333">2</text>
<line x1="371.11" y1="593.15" x2="371.11" y2="595.35" stroke="#333" stroke-width="0.7"/>
<text x="371.11" y="603.75" font-size="7" text-anchor="middle" fill="#333">4</text>
<line x1="385.33" y1="593.15" x2="385.33" y2="595.35" stroke="#333" stroke-width="0.7"/>
<text x="385.33" y="603.75" font-size="7" text-anchor="middle" fill="#333">6</text>
<line x1="399.56" y1="593.15" x2="399.56" y2="595.35" stroke="#333" stroke-width="0.7"/>
<text x="399.56" y="603.75" font-size="7" text-anchor="middle" fill="#333">8</text>
<line x1="413.78" y1="593.15" x2="413.78" y2="595.35" stroke="#333" stroke-width="0.7"/>
<text x="413.78" y="603.75" font-size="7" text-anchor="middle" fill="#333">10</text>
<text x="383.48" y="611.45" font-size="6.8" text-anchor="middle" font-weight="bold" fill="#111" textLength="65.5" lengthAdjust="spacingAndGlyphs">Mouse age (months)</text>
<line x1="356.89" y1="562.78" x2="356.89" y2="580.56" stroke="#ff1f1f" stroke-width="0.9"/>
<line x1="355.49" y1="562.78" x2="358.29" y2="562.78" stroke="#ff1f1f" stroke-width="0.9"/>
<line x1="355.49" y1="580.56" x2="358.29" y2="580.56" stroke="#ff1f1f" stroke-width="0.9"/>
<line x1="371.11" y1="555.37" x2="371.11" y2="573.15" stroke="#ff1f1f" stroke-width="0.9"/>
<line x1="369.71" y1="555.37" x2="372.51" y2="555.37" stroke="#ff1f1f" stroke-width="0.9"/>
<line x1="369.71" y1="573.15" x2="372.51" y2="573.15" stroke="#ff1f1f" stroke-width="0.9"/>
<line x1="385.33" y1="570.93" x2="385.33" y2="581.3" stroke="#ff1f1f" stroke-width="0.9"/>
<line x1="383.93" y1="570.93" x2="386.73" y2="570.93" stroke="#ff1f1f" stroke-width="0.9"/>
<line x1="383.93" y1="581.3" x2="386.73" y2="581.3" stroke="#ff1f1f" stroke-width="0.9"/>
<line x1="399.56" y1="561.3" x2="399.56" y2="570.93" stroke="#ff1f1f" stroke-width="0.9"/>
<line x1="398.16" y1="561.3" x2="400.96" y2="561.3" stroke="#ff1f1f" stroke-width="0.9"/>
<line x1="398.16" y1="570.93" x2="400.96" y2="570.93" stroke="#ff1f1f" stroke-width="0.9"/>
<line x1="413.78" y1="570.93" x2="413.78" y2="585.74" stroke="#ff1f1f" stroke-width="0.9"/>
<line x1="412.38" y1="570.93" x2="415.18" y2="570.93" stroke="#ff1f1f" stroke-width="0.9"/>
<line x1="412.38" y1="585.74" x2="415.18" y2="585.74" stroke="#ff1f1f" stroke-width="0.9"/>
<polyline points="356.89,571.37 371.11,564.26 385.33,576.41 399.56,565.74 413.78,578.33" fill="none" stroke="#ff1f1f" stroke-width="1" stroke-linejoin="round" stroke-linecap="round"/>
<circle cx="356.89" cy="571.37" r="2.1" fill="#ff1f1f"/>
<circle cx="371.11" cy="564.26" r="2.1" fill="#ff1f1f"/>
<circle cx="385.33" cy="576.41" r="2.1" fill="#ff1f1f"/>
<circle cx="399.56" cy="565.74" r="2.1" fill="#ff1f1f"/>
<circle cx="413.78" cy="578.33" r="2.1" fill="#ff1f1f"/>
<line x1="356.89" y1="570.93" x2="356.89" y2="582.78" stroke="#f040e8" stroke-width="0.9"/>
<line x1="355.49" y1="570.93" x2="358.29" y2="570.93" stroke="#f040e8" stroke-width="0.9"/>
<line x1="355.49" y1="582.78" x2="358.29" y2="582.78" stroke="#f040e8" stroke-width="0.9"/>
<line x1="371.11" y1="567.22" x2="371.11" y2="581.3" stroke="#f040e8" stroke-width="0.9"/>
<line x1="369.71" y1="567.22" x2="372.51" y2="567.22" stroke="#f040e8" stroke-width="0.9"/>
<line x1="369.71" y1="581.3" x2="372.51" y2="581.3" stroke="#f040e8" stroke-width="0.9"/>
<line x1="385.33" y1="558.33" x2="385.33" y2="572.41" stroke="#f040e8" stroke-width="0.9"/>
<line x1="383.93" y1="558.33" x2="386.73" y2="558.33" stroke="#f040e8" stroke-width="0.9"/>
<line x1="383.93" y1="572.41" x2="386.73" y2="572.41" stroke="#f040e8" stroke-width="0.9"/>
<line x1="399.56" y1="567.22" x2="399.56" y2="571.67" stroke="#f040e8" stroke-width="0.9"/>
<line x1="398.16" y1="567.22" x2="400.96" y2="567.22" stroke="#f040e8" stroke-width="0.9"/>
<line x1="398.16" y1="571.67" x2="400.96" y2="571.67" stroke="#f040e8" stroke-width="0.9"/>
<line x1="413.78" y1="573.89" x2="413.78" y2="582.04" stroke="#f040e8" stroke-width="0.9"/>
<line x1="412.38" y1="573.89" x2="415.18" y2="573.89" stroke="#f040e8" stroke-width="0.9"/>
<line x1="412.38" y1="582.04" x2="415.18" y2="582.04" stroke="#f040e8" stroke-width="0.9"/>
<polyline points="356.89,575.81 371.11,573.89 385.33,565 399.56,569.44 413.78,577.89" fill="none" stroke="#f040e8" stroke-width="1" stroke-linejoin="round" stroke-linecap="round"/>
<circle cx="356.89" cy="575.81" r="2.1" fill="#f040e8"/>
<circle cx="371.11" cy="573.89" r="2.1" fill="#f040e8"/>
<circle cx="385.33" cy="565" r="2.1" fill="#f040e8"/>
<circle cx="399.56" cy="569.44" r="2.1" fill="#f040e8"/>
<circle cx="413.78" cy="577.89" r="2.1" fill="#f040e8"/>
<line x1="356.89" y1="554.19" x2="356.89" y2="574.63" stroke="#4da3f5" stroke-width="0.9"/>
<line x1="355.49" y1="554.19" x2="358.29" y2="554.19" stroke="#4da3f5" stroke-width="0.9"/>
<line x1="355.49" y1="574.63" x2="358.29" y2="574.63" stroke="#4da3f5" stroke-width="0.9"/>
<line x1="371.11" y1="565" x2="371.11" y2="570.19" stroke="#4da3f5" stroke-width="0.9"/>
<line x1="369.71" y1="565" x2="372.51" y2="565" stroke="#4da3f5" stroke-width="0.9"/>
<line x1="369.71" y1="570.19" x2="372.51" y2="570.19" stroke="#4da3f5" stroke-width="0.9"/>
<line x1="385.33" y1="560.11" x2="385.33" y2="571.67" stroke="#4da3f5" stroke-width="0.9"/>
<line x1="383.93" y1="560.11" x2="386.73" y2="560.11" stroke="#4da3f5" stroke-width="0.9"/>
<line x1="383.93" y1="571.67" x2="386.73" y2="571.67" stroke="#4da3f5" stroke-width="0.9"/>
<line x1="399.56" y1="548.7" x2="399.56" y2="563.52" stroke="#4da3f5" stroke-width="0.9"/>
<line x1="398.16" y1="548.7" x2="400.96" y2="548.7" stroke="#4da3f5" stroke-width="0.9"/>
<line x1="398.16" y1="563.52" x2="400.96" y2="563.52" stroke="#4da3f5" stroke-width="0.9"/>
<line x1="413.78" y1="551.22" x2="413.78" y2="576.11" stroke="#4da3f5" stroke-width="0.9"/>
<line x1="412.38" y1="551.22" x2="415.18" y2="551.22" stroke="#4da3f5" stroke-width="0.9"/>
<line x1="412.38" y1="576.11" x2="415.18" y2="576.11" stroke="#4da3f5" stroke-width="0.9"/>
<polyline points="356.89,563.96 371.11,567.52 385.33,566.04 399.56,556.11 413.78,563.52" fill="none" stroke="#4da3f5" stroke-width="1" stroke-linejoin="round" stroke-linecap="round"/>
<circle cx="356.89" cy="563.96" r="2.1" fill="#4da3f5"/>
<circle cx="371.11" cy="567.52" r="2.1" fill="#4da3f5"/>
<circle cx="385.33" cy="566.04" r="2.1" fill="#4da3f5"/>
<circle cx="399.56" cy="556.11" r="2.1" fill="#4da3f5"/>
<circle cx="413.78" cy="563.52" r="2.1" fill="#4da3f5"/>
<polygon points="399.41,541.34 400.18,543.02 402.02,543.24 400.66,544.5 401.02,546.31 399.41,545.41 397.79,546.31 398.15,544.5 396.79,543.24 398.63,543.02" fill="#f040e8" stroke="none" stroke-width="0.5"/>
<line x1="342.67" y1="587.22" x2="424.3" y2="587.22" stroke="#555" stroke-width="0.8" stroke-dasharray="1,1.6"/>
<g stroke="#333" fill="none" stroke-width="0.9">
<rect x="444.37" y="509.44" width="82.22" height="81.78"/>
</g>
<line x1="444.37" y1="530.48" x2="526.59" y2="530.48" stroke="#222" stroke-width="1.3"/>
<text x="485.48" y="518.44" font-size="8.1" text-anchor="middle" font-weight="bold" fill="#111">Bacteroides_</text>
<text x="485.48" y="527.74" font-size="8.1" text-anchor="middle" font-weight="bold" fill="#111">uniformis</text>
<line x1="442.07" y1="530.48" x2="444.37" y2="530.48" stroke="#333" stroke-width="0.7"/>
<text x="439.07" y="533" font-size="7" text-anchor="end" fill="#333">0.3</text>
<line x1="442.07" y1="545.74" x2="444.37" y2="545.74" stroke="#333" stroke-width="0.7"/>
<text x="439.07" y="548.26" font-size="7" text-anchor="end" fill="#333">0.2</text>
<line x1="442.07" y1="561" x2="444.37" y2="561" stroke="#333" stroke-width="0.7"/>
<text x="439.07" y="563.52" font-size="7" text-anchor="end" fill="#333">0.1</text>
<line x1="442.07" y1="576.41" x2="444.37" y2="576.41" stroke="#333" stroke-width="0.7"/>
<text x="439.07" y="578.93" font-size="7" text-anchor="end" fill="#333">0.0</text>
<line x1="442.07" y1="591.22" x2="444.37" y2="591.22" stroke="#333" stroke-width="0.7"/>
<text x="439.07" y="593.74" font-size="7" text-anchor="end" fill="#333">-0.1</text>
<line x1="443.07" y1="538.04" x2="444.37" y2="538.04" stroke="#333" stroke-width="0.6"/>
<line x1="443.07" y1="553.3" x2="444.37" y2="553.3" stroke="#333" stroke-width="0.6"/>
<line x1="443.07" y1="568.7" x2="444.37" y2="568.7" stroke="#333" stroke-width="0.6"/>
<line x1="443.07" y1="583.81" x2="444.37" y2="583.81" stroke="#333" stroke-width="0.6"/>
<line x1="444.19" y1="591.22" x2="444.19" y2="593.42" stroke="#333" stroke-width="0.7"/>
<text x="444.19" y="601.82" font-size="7" text-anchor="middle" fill="#333">0</text>
<line x1="458.44" y1="591.22" x2="458.44" y2="593.42" stroke="#333" stroke-width="0.7"/>
<text x="458.44" y="601.82" font-size="7" text-anchor="middle" fill="#333">2</text>
<line x1="472.7" y1="591.22" x2="472.7" y2="593.42" stroke="#333" stroke-width="0.7"/>
<text x="472.7" y="601.82" font-size="7" text-anchor="middle" fill="#333">4</text>
<line x1="486.96" y1="591.22" x2="486.96" y2="593.42" stroke="#333" stroke-width="0.7"/>
<text x="486.96" y="601.82" font-size="7" text-anchor="middle" fill="#333">6</text>
<line x1="501.22" y1="591.22" x2="501.22" y2="593.42" stroke="#333" stroke-width="0.7"/>
<text x="501.22" y="601.82" font-size="7" text-anchor="middle" fill="#333">8</text>
<line x1="515.48" y1="591.22" x2="515.48" y2="593.42" stroke="#333" stroke-width="0.7"/>
<text x="515.48" y="601.82" font-size="7" text-anchor="middle" fill="#333">10</text>
<text x="485.48" y="609.52" font-size="6.8" text-anchor="middle" font-weight="bold" fill="#111" textLength="65.5" lengthAdjust="spacingAndGlyphs">Mouse age (months)</text>
<line x1="458.44" y1="565.74" x2="458.44" y2="573.89" stroke="#ff1f1f" stroke-width="0.9"/>
<line x1="457.04" y1="565.74" x2="459.84" y2="565.74" stroke="#ff1f1f" stroke-width="0.9"/>
<line x1="457.04" y1="573.89" x2="459.84" y2="573.89" stroke="#ff1f1f" stroke-width="0.9"/>
<line x1="472.7" y1="565" x2="472.7" y2="573.89" stroke="#ff1f1f" stroke-width="0.9"/>
<line x1="471.3" y1="565" x2="474.1" y2="565" stroke="#ff1f1f" stroke-width="0.9"/>
<line x1="471.3" y1="573.89" x2="474.1" y2="573.89" stroke="#ff1f1f" stroke-width="0.9"/>
<line x1="486.96" y1="543.22" x2="486.96" y2="567.22" stroke="#ff1f1f" stroke-width="0.9"/>
<line x1="485.56" y1="543.22" x2="488.36" y2="543.22" stroke="#ff1f1f" stroke-width="0.9"/>
<line x1="485.56" y1="567.22" x2="488.36" y2="567.22" stroke="#ff1f1f" stroke-width="0.9"/>
<line x1="501.22" y1="565" x2="501.22" y2="572.41" stroke="#ff1f1f" stroke-width="0.9"/>
<line x1="499.82" y1="565" x2="502.62" y2="565" stroke="#ff1f1f" stroke-width="0.9"/>
<line x1="499.82" y1="572.41" x2="502.62" y2="572.41" stroke="#ff1f1f" stroke-width="0.9"/>
<line x1="515.48" y1="567.96" x2="515.48" y2="574.63" stroke="#ff1f1f" stroke-width="0.9"/>
<line x1="514.08" y1="567.96" x2="516.88" y2="567.96" stroke="#ff1f1f" stroke-width="0.9"/>
<line x1="514.08" y1="574.63" x2="516.88" y2="574.63" stroke="#ff1f1f" stroke-width="0.9"/>
<polyline points="458.44,569.44 472.7,569.44 486.96,559.07 501.22,569 515.48,571.37" fill="none" stroke="#ff1f1f" stroke-width="1" stroke-linejoin="round" stroke-linecap="round"/>
<circle cx="458.44" cy="569.44" r="2.1" fill="#ff1f1f"/>
<circle cx="472.7" cy="569.44" r="2.1" fill="#ff1f1f"/>
<circle cx="486.96" cy="559.07" r="2.1" fill="#ff1f1f"/>
<circle cx="501.22" cy="569" r="2.1" fill="#ff1f1f"/>
<circle cx="515.48" cy="571.37" r="2.1" fill="#ff1f1f"/>
<line x1="458.44" y1="570.93" x2="458.44" y2="576.11" stroke="#f040e8" stroke-width="0.9"/>
<line x1="457.04" y1="570.93" x2="459.84" y2="570.93" stroke="#f040e8" stroke-width="0.9"/>
<line x1="457.04" y1="576.11" x2="459.84" y2="576.11" stroke="#f040e8" stroke-width="0.9"/>
<line x1="472.7" y1="565.74" x2="472.7" y2="574.63" stroke="#f040e8" stroke-width="0.9"/>
<line x1="471.3" y1="565.74" x2="474.1" y2="565.74" stroke="#f040e8" stroke-width="0.9"/>
<line x1="471.3" y1="574.63" x2="474.1" y2="574.63" stroke="#f040e8" stroke-width="0.9"/>
<line x1="486.96" y1="556.11" x2="486.96" y2="574.63" stroke="#f040e8" stroke-width="0.9"/>
<line x1="485.56" y1="556.11" x2="488.36" y2="556.11" stroke="#f040e8" stroke-width="0.9"/>
<line x1="485.56" y1="574.63" x2="488.36" y2="574.63" stroke="#f040e8" stroke-width="0.9"/>
<line x1="501.22" y1="571.67" x2="501.22" y2="574.63" stroke="#f040e8" stroke-width="0.9"/>
<line x1="499.82" y1="571.67" x2="502.62" y2="571.67" stroke="#f040e8" stroke-width="0.9"/>
<line x1="499.82" y1="574.63" x2="502.62" y2="574.63" stroke="#f040e8" stroke-width="0.9"/>
<line x1="515.48" y1="574.63" x2="515.48" y2="576.85" stroke="#f040e8" stroke-width="0.9"/>
<line x1="514.08" y1="574.63" x2="516.88" y2="574.63" stroke="#f040e8" stroke-width="0.9"/>
<line x1="514.08" y1="576.85" x2="516.88" y2="576.85" stroke="#f040e8" stroke-width="0.9"/>
<polyline points="458.44,573.15 472.7,570.19 486.96,563.52 501.22,573.15 515.48,575.81" fill="none" stroke="#f040e8" stroke-width="1" stroke-linejoin="round" stroke-linecap="round"/>
<circle cx="458.44" cy="573.15" r="2.1" fill="#f040e8"/>
<circle cx="472.7" cy="570.19" r="2.1" fill="#f040e8"/>
<circle cx="486.96" cy="563.52" r="2.1" fill="#f040e8"/>
<circle cx="501.22" cy="573.15" r="2.1" fill="#f040e8"/>
<circle cx="515.48" cy="575.81" r="2.1" fill="#f040e8"/>
<line x1="458.44" y1="565.44" x2="458.44" y2="574.63" stroke="#4da3f5" stroke-width="0.9"/>
<line x1="457.04" y1="565.44" x2="459.84" y2="565.44" stroke="#4da3f5" stroke-width="0.9"/>
<line x1="457.04" y1="574.63" x2="459.84" y2="574.63" stroke="#4da3f5" stroke-width="0.9"/>
<line x1="472.7" y1="562.78" x2="472.7" y2="573.89" stroke="#4da3f5" stroke-width="0.9"/>
<line x1="471.3" y1="562.78" x2="474.1" y2="562.78" stroke="#4da3f5" stroke-width="0.9"/>
<line x1="471.3" y1="573.89" x2="474.1" y2="573.89" stroke="#4da3f5" stroke-width="0.9"/>
<line x1="486.96" y1="570.93" x2="486.96" y2="575.81" stroke="#4da3f5" stroke-width="0.9"/>
<line x1="485.56" y1="570.93" x2="488.36" y2="570.93" stroke="#4da3f5" stroke-width="0.9"/>
<line x1="485.56" y1="575.81" x2="488.36" y2="575.81" stroke="#4da3f5" stroke-width="0.9"/>
<line x1="501.22" y1="563.52" x2="501.22" y2="566.93" stroke="#4da3f5" stroke-width="0.9"/>
<line x1="499.82" y1="563.52" x2="502.62" y2="563.52" stroke="#4da3f5" stroke-width="0.9"/>
<line x1="499.82" y1="566.93" x2="502.62" y2="566.93" stroke="#4da3f5" stroke-width="0.9"/>
<line x1="515.48" y1="569.44" x2="515.48" y2="573.89" stroke="#4da3f5" stroke-width="0.9"/>
<line x1="514.08" y1="569.44" x2="516.88" y2="569.44" stroke="#4da3f5" stroke-width="0.9"/>
<line x1="514.08" y1="573.89" x2="516.88" y2="573.89" stroke="#4da3f5" stroke-width="0.9"/>
<polyline points="458.44,570.19 472.7,568.7 486.96,573.44 501.22,565 515.48,571.67" fill="none" stroke="#4da3f5" stroke-width="1" stroke-linejoin="round" stroke-linecap="round"/>
<circle cx="458.44" cy="570.19" r="2.1" fill="#4da3f5"/>
<circle cx="472.7" cy="568.7" r="2.1" fill="#4da3f5"/>
<circle cx="486.96" cy="573.44" r="2.1" fill="#4da3f5"/>
<circle cx="501.22" cy="565" r="2.1" fill="#4da3f5"/>
<circle cx="515.48" cy="571.67" r="2.1" fill="#4da3f5"/>
<polygon points="500.96,554.67 501.74,556.36 503.58,556.57 502.22,557.83 502.58,559.65 500.96,558.74 499.35,559.65 499.71,557.83 498.35,556.57 500.19,556.36" fill="#f040e8" stroke="none" stroke-width="0.5"/>
<line x1="444.67" y1="576.41" x2="526.3" y2="576.41" stroke="#555" stroke-width="0.8" stroke-dasharray="1,1.6"/>
<g stroke="#333" fill="none" stroke-width="0.9">
<rect x="543.37" y="509.44" width="82.22" height="81.78"/>
</g>
<line x1="543.37" y1="530.48" x2="625.59" y2="530.48" stroke="#222" stroke-width="1.3"/>
<text x="584.48" y="518.44" font-size="8.1" text-anchor="middle" font-weight="bold" fill="#111">Clostridium_</text>
<text x="584.48" y="527.74" font-size="8.1" text-anchor="middle" font-weight="bold" fill="#111">methylpentosum</text>
<line x1="541.07" y1="540.56" x2="543.37" y2="540.56" stroke="#333" stroke-width="0.7"/>
<text x="538.07" y="543.08" font-size="7" text-anchor="end" fill="#333">0.4</text>
<line x1="541.07" y1="561.3" x2="543.37" y2="561.3" stroke="#333" stroke-width="0.7"/>
<text x="538.07" y="563.82" font-size="7" text-anchor="end" fill="#333">0.2</text>
<line x1="541.07" y1="581.59" x2="543.37" y2="581.59" stroke="#333" stroke-width="0.7"/>
<text x="538.07" y="584.11" font-size="7" text-anchor="end" fill="#333">0.0</text>
<line x1="542.07" y1="530.48" x2="543.37" y2="530.48" stroke="#333" stroke-width="0.6"/>
<line x1="542.07" y1="550.93" x2="543.37" y2="550.93" stroke="#333" stroke-width="0.6"/>
<line x1="542.07" y1="571.37" x2="543.37" y2="571.37" stroke="#333" stroke-width="0.6"/>
<line x1="543.74" y1="591.22" x2="543.74" y2="593.42" stroke="#333" stroke-width="0.7"/>
<text x="543.74" y="601.82" font-size="7" text-anchor="middle" fill="#333">0</text>
<line x1="557.89" y1="591.22" x2="557.89" y2="593.42" stroke="#333" stroke-width="0.7"/>
<text x="557.89" y="601.82" font-size="7" text-anchor="middle" fill="#333">2</text>
<line x1="572.04" y1="591.22" x2="572.04" y2="593.42" stroke="#333" stroke-width="0.7"/>
<text x="572.04" y="601.82" font-size="7" text-anchor="middle" fill="#333">4</text>
<line x1="586.19" y1="591.22" x2="586.19" y2="593.42" stroke="#333" stroke-width="0.7"/>
<text x="586.19" y="601.82" font-size="7" text-anchor="middle" fill="#333">6</text>
<line x1="600.33" y1="591.22" x2="600.33" y2="593.42" stroke="#333" stroke-width="0.7"/>
<text x="600.33" y="601.82" font-size="7" text-anchor="middle" fill="#333">8</text>
<line x1="614.48" y1="591.22" x2="614.48" y2="593.42" stroke="#333" stroke-width="0.7"/>
<text x="614.48" y="601.82" font-size="7" text-anchor="middle" fill="#333">10</text>
<text x="584.48" y="609.52" font-size="6.8" text-anchor="middle" font-weight="bold" fill="#111" textLength="65.5" lengthAdjust="spacingAndGlyphs">Mouse age (months)</text>
<line x1="557.89" y1="559.81" x2="557.89" y2="565" stroke="#ff1f1f" stroke-width="0.9"/>
<line x1="556.49" y1="559.81" x2="559.29" y2="559.81" stroke="#ff1f1f" stroke-width="0.9"/>
<line x1="556.49" y1="565" x2="559.29" y2="565" stroke="#ff1f1f" stroke-width="0.9"/>
<line x1="572.04" y1="574.63" x2="572.04" y2="577.59" stroke="#ff1f1f" stroke-width="0.9"/>
<line x1="570.64" y1="574.63" x2="573.44" y2="574.63" stroke="#ff1f1f" stroke-width="0.9"/>
<line x1="570.64" y1="577.59" x2="573.44" y2="577.59" stroke="#ff1f1f" stroke-width="0.9"/>
<line x1="586.19" y1="570.19" x2="586.19" y2="576.11" stroke="#ff1f1f" stroke-width="0.9"/>
<line x1="584.79" y1="570.19" x2="587.59" y2="570.19" stroke="#ff1f1f" stroke-width="0.9"/>
<line x1="584.79" y1="576.11" x2="587.59" y2="576.11" stroke="#ff1f1f" stroke-width="0.9"/>
<line x1="600.33" y1="563.52" x2="600.33" y2="570.93" stroke="#ff1f1f" stroke-width="0.9"/>
<line x1="598.93" y1="563.52" x2="601.73" y2="563.52" stroke="#ff1f1f" stroke-width="0.9"/>
<line x1="598.93" y1="570.93" x2="601.73" y2="570.93" stroke="#ff1f1f" stroke-width="0.9"/>
<line x1="614.48" y1="567.22" x2="614.48" y2="572.41" stroke="#ff1f1f" stroke-width="0.9"/>
<line x1="613.08" y1="567.22" x2="615.88" y2="567.22" stroke="#ff1f1f" stroke-width="0.9"/>
<line x1="613.08" y1="572.41" x2="615.88" y2="572.41" stroke="#ff1f1f" stroke-width="0.9"/>
<polyline points="557.89,562.48 572.04,575.81 586.19,573.44 600.33,567.52 614.48,569.89" fill="none" stroke="#ff1f1f" stroke-width="1" stroke-linejoin="round" stroke-linecap="round"/>
<circle cx="557.89" cy="562.48" r="2.1" fill="#ff1f1f"/>
<circle cx="572.04" cy="575.81" r="2.1" fill="#ff1f1f"/>
<circle cx="586.19" cy="573.44" r="2.1" fill="#ff1f1f"/>
<circle cx="600.33" cy="567.52" r="2.1" fill="#ff1f1f"/>
<circle cx="614.48" cy="569.89" r="2.1" fill="#ff1f1f"/>
<line x1="557.89" y1="568.7" x2="557.89" y2="576.11" stroke="#f040e8" stroke-width="0.9"/>
<line x1="556.49" y1="568.7" x2="559.29" y2="568.7" stroke="#f040e8" stroke-width="0.9"/>
<line x1="556.49" y1="576.11" x2="559.29" y2="576.11" stroke="#f040e8" stroke-width="0.9"/>
<line x1="572.04" y1="560.56" x2="572.04" y2="581.3" stroke="#f040e8" stroke-width="0.9"/>
<line x1="570.64" y1="560.56" x2="573.44" y2="560.56" stroke="#f040e8" stroke-width="0.9"/>
<line x1="570.64" y1="581.3" x2="573.44" y2="581.3" stroke="#f040e8" stroke-width="0.9"/>
<line x1="586.19" y1="565.74" x2="586.19" y2="580.56" stroke="#f040e8" stroke-width="0.9"/>
<line x1="584.79" y1="565.74" x2="587.59" y2="565.74" stroke="#f040e8" stroke-width="0.9"/>
<line x1="584.79" y1="580.56" x2="587.59" y2="580.56" stroke="#f040e8" stroke-width="0.9"/>
<line x1="600.33" y1="570.19" x2="600.33" y2="574.63" stroke="#f040e8" stroke-width="0.9"/>
<line x1="598.93" y1="570.19" x2="601.73" y2="570.19" stroke="#f040e8" stroke-width="0.9"/>
<line x1="598.93" y1="574.63" x2="601.73" y2="574.63" stroke="#f040e8" stroke-width="0.9"/>
<line x1="614.48" y1="565.74" x2="614.48" y2="574.63" stroke="#f040e8" stroke-width="0.9"/>
<line x1="613.08" y1="565.74" x2="615.88" y2="565.74" stroke="#f040e8" stroke-width="0.9"/>
<line x1="613.08" y1="574.63" x2="615.88" y2="574.63" stroke="#f040e8" stroke-width="0.9"/>
<polyline points="557.89,572.41 572.04,570.93 586.19,573.44 600.33,572.41 614.48,568.7" fill="none" stroke="#f040e8" stroke-width="1" stroke-linejoin="round" stroke-linecap="round"/>
<circle cx="557.89" cy="572.41" r="2.1" fill="#f040e8"/>
<circle cx="572.04" cy="570.93" r="2.1" fill="#f040e8"/>
<circle cx="586.19" cy="573.44" r="2.1" fill="#f040e8"/>
<circle cx="600.33" cy="572.41" r="2.1" fill="#f040e8"/>
<circle cx="614.48" cy="568.7" r="2.1" fill="#f040e8"/>
<line x1="557.89" y1="548.7" x2="557.89" y2="568.7" stroke="#4da3f5" stroke-width="0.9"/>
<line x1="556.49" y1="548.7" x2="559.29" y2="548.7" stroke="#4da3f5" stroke-width="0.9"/>
<line x1="556.49" y1="568.7" x2="559.29" y2="568.7" stroke="#4da3f5" stroke-width="0.9"/>
<line x1="572.04" y1="563.07" x2="572.04" y2="570.19" stroke="#4da3f5" stroke-width="0.9"/>
<line x1="570.64" y1="563.07" x2="573.44" y2="563.07" stroke="#4da3f5" stroke-width="0.9"/>
<line x1="570.64" y1="570.19" x2="573.44" y2="570.19" stroke="#4da3f5" stroke-width="0.9"/>
<line x1="586.19" y1="544.26" x2="586.19" y2="571.67" stroke="#4da3f5" stroke-width="0.9"/>
<line x1="584.79" y1="544.26" x2="587.59" y2="544.26" stroke="#4da3f5" stroke-width="0.9"/>
<line x1="584.79" y1="571.67" x2="587.59" y2="571.67" stroke="#4da3f5" stroke-width="0.9"/>
<line x1="600.33" y1="556.56" x2="600.33" y2="576.85" stroke="#4da3f5" stroke-width="0.9"/>
<line x1="598.93" y1="556.56" x2="601.73" y2="556.56" stroke="#4da3f5" stroke-width="0.9"/>
<line x1="598.93" y1="576.85" x2="601.73" y2="576.85" stroke="#4da3f5" stroke-width="0.9"/>
<line x1="614.48" y1="560.11" x2="614.48" y2="565.74" stroke="#4da3f5" stroke-width="0.9"/>
<line x1="613.08" y1="560.11" x2="615.88" y2="560.11" stroke="#4da3f5" stroke-width="0.9"/>
<line x1="613.08" y1="565.74" x2="615.88" y2="565.74" stroke="#4da3f5" stroke-width="0.9"/>
<polyline points="557.89,558.63 572.04,567.22 586.19,558.04 600.33,566.48 614.48,563.07" fill="none" stroke="#4da3f5" stroke-width="1" stroke-linejoin="round" stroke-linecap="round"/>
<circle cx="557.89" cy="558.63" r="2.1" fill="#4da3f5"/>
<circle cx="572.04" cy="567.22" r="2.1" fill="#4da3f5"/>
<circle cx="586.19" cy="558.04" r="2.1" fill="#4da3f5"/>
<circle cx="600.33" cy="566.48" r="2.1" fill="#4da3f5"/>
<circle cx="614.48" cy="563.07" r="2.1" fill="#4da3f5"/>
<polygon points="571.52,552.15 572.29,553.84 574.13,554.05 572.77,555.31 573.13,557.13 571.52,556.22 569.9,557.13 570.26,555.31 568.9,554.05 570.74,553.84" fill="#ff1f1f" stroke="none" stroke-width="0.5"/>
<line x1="543.67" y1="581.59" x2="625.3" y2="581.59" stroke="#555" stroke-width="0.8" stroke-dasharray="1,1.6"/>
<g stroke="#333" fill="none" stroke-width="0.9">
<rect x="40.07" y="618.63" width="81.78" height="81.78"/>
</g>
<line x1="40.07" y1="639.67" x2="121.85" y2="639.67" stroke="#222" stroke-width="1.8"/>
<text x="80.96" y="627.63" font-size="8.1" text-anchor="middle" font-weight="bold" fill="#111">Dorea_</text>
<text x="80.96" y="636.93" font-size="8.1" text-anchor="middle" font-weight="bold" fill="#111">longicatena</text>
<line x1="37.77" y1="639.67" x2="40.07" y2="639.67" stroke="#333" stroke-width="0.7"/>
<text x="34.77" y="642.19" font-size="7" text-anchor="end" fill="#333">0.06</text>
<line x1="37.77" y1="657.15" x2="40.07" y2="657.15" stroke="#333" stroke-width="0.7"/>
<text x="34.77" y="659.67" font-size="7" text-anchor="end" fill="#333">0.04</text>
<line x1="37.77" y1="674.48" x2="40.07" y2="674.48" stroke="#333" stroke-width="0.7"/>
<text x="34.77" y="677" font-size="7" text-anchor="end" fill="#333">0.02</text>
<line x1="37.77" y1="692.26" x2="40.07" y2="692.26" stroke="#333" stroke-width="0.7"/>
<text x="34.77" y="694.78" font-size="7" text-anchor="end" fill="#333">0.00</text>
<line x1="38.77" y1="648.56" x2="40.07" y2="648.56" stroke="#333" stroke-width="0.6"/>
<line x1="38.77" y1="665.74" x2="40.07" y2="665.74" stroke="#333" stroke-width="0.6"/>
<line x1="38.77" y1="683.37" x2="40.07" y2="683.37" stroke="#333" stroke-width="0.6"/>
<line x1="39.96" y1="700.41" x2="39.96" y2="702.61" stroke="#333" stroke-width="0.7"/>
<text x="39.96" y="711.01" font-size="7" text-anchor="middle" fill="#333">0</text>
<line x1="54.15" y1="700.41" x2="54.15" y2="702.61" stroke="#333" stroke-width="0.7"/>
<text x="54.15" y="711.01" font-size="7" text-anchor="middle" fill="#333">2</text>
<line x1="68.33" y1="700.41" x2="68.33" y2="702.61" stroke="#333" stroke-width="0.7"/>
<text x="68.33" y="711.01" font-size="7" text-anchor="middle" fill="#333">4</text>
<line x1="82.52" y1="700.41" x2="82.52" y2="702.61" stroke="#333" stroke-width="0.7"/>
<text x="82.52" y="711.01" font-size="7" text-anchor="middle" fill="#333">6</text>
<line x1="96.7" y1="700.41" x2="96.7" y2="702.61" stroke="#333" stroke-width="0.7"/>
<text x="96.7" y="711.01" font-size="7" text-anchor="middle" fill="#333">8</text>
<line x1="110.89" y1="700.41" x2="110.89" y2="702.61" stroke="#333" stroke-width="0.7"/>
<text x="110.89" y="711.01" font-size="7" text-anchor="middle" fill="#333">10</text>
<text x="80.96" y="718.71" font-size="6.8" text-anchor="middle" font-weight="bold" fill="#111" textLength="65.5" lengthAdjust="spacingAndGlyphs">Mouse age (months)</text>
<line x1="54.15" y1="691.52" x2="54.15" y2="693" stroke="#ff1f1f" stroke-width="0.9"/>
<line x1="52.75" y1="691.52" x2="55.55" y2="691.52" stroke="#ff1f1f" stroke-width="0.9"/>
<line x1="52.75" y1="693" x2="55.55" y2="693" stroke="#ff1f1f" stroke-width="0.9"/>
<line x1="68.33" y1="691.81" x2="68.33" y2="692.7" stroke="#ff1f1f" stroke-width="0.9"/>
<line x1="66.93" y1="691.81" x2="69.73" y2="691.81" stroke="#ff1f1f" stroke-width="0.9"/>
<line x1="66.93" y1="692.7" x2="69.73" y2="692.7" stroke="#ff1f1f" stroke-width="0.9"/>
<line x1="82.52" y1="691.81" x2="82.52" y2="692.7" stroke="#ff1f1f" stroke-width="0.9"/>
<line x1="81.12" y1="691.81" x2="83.92" y2="691.81" stroke="#ff1f1f" stroke-width="0.9"/>
<line x1="81.12" y1="692.7" x2="83.92" y2="692.7" stroke="#ff1f1f" stroke-width="0.9"/>
<line x1="96.7" y1="691.81" x2="96.7" y2="692.7" stroke="#ff1f1f" stroke-width="0.9"/>
<line x1="95.3" y1="691.81" x2="98.1" y2="691.81" stroke="#ff1f1f" stroke-width="0.9"/>
<line x1="95.3" y1="692.7" x2="98.1" y2="692.7" stroke="#ff1f1f" stroke-width="0.9"/>
<line x1="110.89" y1="691.81" x2="110.89" y2="692.7" stroke="#ff1f1f" stroke-width="0.9"/>
<line x1="109.49" y1="691.81" x2="112.29" y2="691.81" stroke="#ff1f1f" stroke-width="0.9"/>
<line x1="109.49" y1="692.7" x2="112.29" y2="692.7" stroke="#ff1f1f" stroke-width="0.9"/>
<polyline points="54.15,692.26 68.33,692.26 82.52,692.26 96.7,692.26 110.89,692.26" fill="none" stroke="#ff1f1f" stroke-width="1" stroke-linejoin="round" stroke-linecap="round"/>
<circle cx="54.15" cy="692.26" r="2.1" fill="#ff1f1f"/>
<circle cx="68.33" cy="692.26" r="2.1" fill="#ff1f1f"/>
<circle cx="82.52" cy="692.26" r="2.1" fill="#ff1f1f"/>
<circle cx="96.7" cy="692.26" r="2.1" fill="#ff1f1f"/>
<circle cx="110.89" cy="692.26" r="2.1" fill="#ff1f1f"/>
<line x1="54.15" y1="687.07" x2="54.15" y2="691.52" stroke="#f040e8" stroke-width="0.9"/>
<line x1="52.75" y1="687.07" x2="55.55" y2="687.07" stroke="#f040e8" stroke-width="0.9"/>
<line x1="52.75" y1="691.52" x2="55.55" y2="691.52" stroke="#f040e8" stroke-width="0.9"/>
<line x1="68.33" y1="689.3" x2="68.33" y2="691.22" stroke="#f040e8" stroke-width="0.9"/>
<line x1="66.93" y1="689.3" x2="69.73" y2="689.3" stroke="#f040e8" stroke-width="0.9"/>
<line x1="66.93" y1="691.22" x2="69.73" y2="691.22" stroke="#f040e8" stroke-width="0.9"/>
<line x1="82.52" y1="689.74" x2="82.52" y2="692.7" stroke="#f040e8" stroke-width="0.9"/>
<line x1="81.12" y1="689.74" x2="83.92" y2="689.74" stroke="#f040e8" stroke-width="0.9"/>
<line x1="81.12" y1="692.7" x2="83.92" y2="692.7" stroke="#f040e8" stroke-width="0.9"/>
<line x1="96.7" y1="691.52" x2="96.7" y2="692.26" stroke="#f040e8" stroke-width="0.9"/>
<line x1="95.3" y1="691.52" x2="98.1" y2="691.52" stroke="#f040e8" stroke-width="0.9"/>
<line x1="95.3" y1="692.26" x2="98.1" y2="692.26" stroke="#f040e8" stroke-width="0.9"/>
<line x1="110.89" y1="654.19" x2="110.89" y2="671.07" stroke="#f040e8" stroke-width="0.9"/>
<line x1="109.49" y1="654.19" x2="112.29" y2="654.19" stroke="#f040e8" stroke-width="0.9"/>
<line x1="109.49" y1="671.07" x2="112.29" y2="671.07" stroke="#f040e8" stroke-width="0.9"/>
<polyline points="54.15,689.3 68.33,690.33 82.52,691.22 96.7,691.81 110.89,662.63" fill="none" stroke="#f040e8" stroke-width="1" stroke-linejoin="round" stroke-linecap="round"/>
<circle cx="54.15" cy="689.3" r="2.1" fill="#f040e8"/>
<circle cx="68.33" cy="690.33" r="2.1" fill="#f040e8"/>
<circle cx="82.52" cy="691.22" r="2.1" fill="#f040e8"/>
<circle cx="96.7" cy="691.81" r="2.1" fill="#f040e8"/>
<circle cx="110.89" cy="662.63" r="2.1" fill="#f040e8"/>
<line x1="54.15" y1="681.44" x2="54.15" y2="692.26" stroke="#4da3f5" stroke-width="0.9"/>
<line x1="52.75" y1="681.44" x2="55.55" y2="681.44" stroke="#4da3f5" stroke-width="0.9"/>
<line x1="52.75" y1="692.26" x2="55.55" y2="692.26" stroke="#4da3f5" stroke-width="0.9"/>
<line x1="68.33" y1="691.52" x2="68.33" y2="693" stroke="#4da3f5" stroke-width="0.9"/>
<line x1="66.93" y1="691.52" x2="69.73" y2="691.52" stroke="#4da3f5" stroke-width="0.9"/>
<line x1="66.93" y1="693" x2="69.73" y2="693" stroke="#4da3f5" stroke-width="0.9"/>
<line x1="82.52" y1="685.59" x2="82.52" y2="693.74" stroke="#4da3f5" stroke-width="0.9"/>
<line x1="81.12" y1="685.59" x2="83.92" y2="685.59" stroke="#4da3f5" stroke-width="0.9"/>
<line x1="81.12" y1="693.74" x2="83.92" y2="693.74" stroke="#4da3f5" stroke-width="0.9"/>
<line x1="96.7" y1="690.78" x2="96.7" y2="692.26" stroke="#4da3f5" stroke-width="0.9"/>
<line x1="95.3" y1="690.78" x2="98.1" y2="690.78" stroke="#4da3f5" stroke-width="0.9"/>
<line x1="95.3" y1="692.26" x2="98.1" y2="692.26" stroke="#4da3f5" stroke-width="0.9"/>
<line x1="110.89" y1="687.37" x2="110.89" y2="692.26" stroke="#4da3f5" stroke-width="0.9"/>
<line x1="109.49" y1="687.37" x2="112.29" y2="687.37" stroke="#4da3f5" stroke-width="0.9"/>
<line x1="109.49" y1="692.26" x2="112.29" y2="692.26" stroke="#4da3f5" stroke-width="0.9"/>
<polyline points="54.15,687.81 68.33,692.26 82.52,690.04 96.7,691.52 110.89,690.04" fill="none" stroke="#4da3f5" stroke-width="1" stroke-linejoin="round" stroke-linecap="round"/>
<circle cx="54.15" cy="687.81" r="2.1" fill="#4da3f5"/>
<circle cx="68.33" cy="692.26" r="2.1" fill="#4da3f5"/>
<circle cx="82.52" cy="690.04" r="2.1" fill="#4da3f5"/>
<circle cx="96.7" cy="691.52" r="2.1" fill="#4da3f5"/>
<circle cx="110.89" cy="690.04" r="2.1" fill="#4da3f5"/>
<polygon points="110.89,645.64 111.66,647.32 113.5,647.54 112.14,648.79 112.51,650.61 110.89,649.71 109.27,650.61 109.63,648.79 108.27,647.54 110.11,647.32" fill="#f040e8" stroke="none" stroke-width="0.5"/>
<line x1="40.37" y1="692.26" x2="121.56" y2="692.26" stroke="#555" stroke-width="0.8" stroke-dasharray="1,1.6"/>
<g stroke="#333" fill="none" stroke-width="0.9">
<rect x="141.37" y="617.44" width="82.22" height="82.22"/>
</g>
<line x1="141.37" y1="638.93" x2="223.59" y2="638.93" stroke="#222" stroke-width="1.8"/>
<text x="182.48" y="626.44" font-size="8.1" text-anchor="middle" font-weight="bold" fill="#111">Lactobacillus_</text>
<text x="182.48" y="635.74" font-size="8.1" text-anchor="middle" font-weight="bold" fill="#111">reuteri</text>
<line x1="139.07" y1="638.93" x2="141.37" y2="638.93" stroke="#333" stroke-width="0.7"/>
<text x="136.07" y="641.45" font-size="7" text-anchor="end" fill="#333">0.6</text>
<line x1="139.07" y1="655.22" x2="141.37" y2="655.22" stroke="#333" stroke-width="0.7"/>
<text x="136.07" y="657.74" font-size="7" text-anchor="end" fill="#333">0.4</text>
<line x1="139.07" y1="671.07" x2="141.37" y2="671.07" stroke="#333" stroke-width="0.7"/>
<text x="136.07" y="673.59" font-size="7" text-anchor="end" fill="#333">0.2</text>
<line x1="139.07" y1="687.37" x2="141.37" y2="687.37" stroke="#333" stroke-width="0.7"/>
<text x="136.07" y="689.89" font-size="7" text-anchor="end" fill="#333">0.0</text>
<line x1="140.07" y1="647.07" x2="141.37" y2="647.07" stroke="#333" stroke-width="0.6"/>
<line x1="140.07" y1="663.07" x2="141.37" y2="663.07" stroke="#333" stroke-width="0.6"/>
<line x1="140.07" y1="679.22" x2="141.37" y2="679.22" stroke="#333" stroke-width="0.6"/>
<line x1="140.07" y1="695.22" x2="141.37" y2="695.22" stroke="#333" stroke-width="0.6"/>
<line x1="141.19" y1="699.67" x2="141.19" y2="701.87" stroke="#333" stroke-width="0.7"/>
<text x="141.19" y="710.27" font-size="7" text-anchor="middle" fill="#333">0</text>
<line x1="155.44" y1="699.67" x2="155.44" y2="701.87" stroke="#333" stroke-width="0.7"/>
<text x="155.44" y="710.27" font-size="7" text-anchor="middle" fill="#333">2</text>
<line x1="169.7" y1="699.67" x2="169.7" y2="701.87" stroke="#333" stroke-width="0.7"/>
<text x="169.7" y="710.27" font-size="7" text-anchor="middle" fill="#333">4</text>
<line x1="183.96" y1="699.67" x2="183.96" y2="701.87" stroke="#333" stroke-width="0.7"/>
<text x="183.96" y="710.27" font-size="7" text-anchor="middle" fill="#333">6</text>
<line x1="198.22" y1="699.67" x2="198.22" y2="701.87" stroke="#333" stroke-width="0.7"/>
<text x="198.22" y="710.27" font-size="7" text-anchor="middle" fill="#333">8</text>
<line x1="212.48" y1="699.67" x2="212.48" y2="701.87" stroke="#333" stroke-width="0.7"/>
<text x="212.48" y="710.27" font-size="7" text-anchor="middle" fill="#333">10</text>
<text x="182.48" y="717.97" font-size="6.8" text-anchor="middle" font-weight="bold" fill="#111" textLength="65.5" lengthAdjust="spacingAndGlyphs">Mouse age (months)</text>
<line x1="155.44" y1="686.63" x2="155.44" y2="687.52" stroke="#ff1f1f" stroke-width="0.9"/>
<line x1="154.04" y1="686.63" x2="156.84" y2="686.63" stroke="#ff1f1f" stroke-width="0.9"/>
<line x1="154.04" y1="687.52" x2="156.84" y2="687.52" stroke="#ff1f1f" stroke-width="0.9"/>
<line x1="169.7" y1="687.07" x2="169.7" y2="688.26" stroke="#ff1f1f" stroke-width="0.9"/>
<line x1="168.3" y1="687.07" x2="171.1" y2="687.07" stroke="#ff1f1f" stroke-width="0.9"/>
<line x1="168.3" y1="688.26" x2="171.1" y2="688.26" stroke="#ff1f1f" stroke-width="0.9"/>
<line x1="183.96" y1="687.07" x2="183.96" y2="688.56" stroke="#ff1f1f" stroke-width="0.9"/>
<line x1="182.56" y1="687.07" x2="185.36" y2="687.07" stroke="#ff1f1f" stroke-width="0.9"/>
<line x1="182.56" y1="688.56" x2="185.36" y2="688.56" stroke="#ff1f1f" stroke-width="0.9"/>
<line x1="198.22" y1="684.11" x2="198.22" y2="686.33" stroke="#ff1f1f" stroke-width="0.9"/>
<line x1="196.82" y1="684.11" x2="199.62" y2="684.11" stroke="#ff1f1f" stroke-width="0.9"/>
<line x1="196.82" y1="686.33" x2="199.62" y2="686.33" stroke="#ff1f1f" stroke-width="0.9"/>
<line x1="212.48" y1="687.07" x2="212.48" y2="687.81" stroke="#ff1f1f" stroke-width="0.9"/>
<line x1="211.08" y1="687.07" x2="213.88" y2="687.07" stroke="#ff1f1f" stroke-width="0.9"/>
<line x1="211.08" y1="687.81" x2="213.88" y2="687.81" stroke="#ff1f1f" stroke-width="0.9"/>
<polyline points="155.44,687.07 169.7,687.81 183.96,687.81 198.22,685.3 212.48,687.37" fill="none" stroke="#ff1f1f" stroke-width="1" stroke-linejoin="round" stroke-linecap="round"/>
<circle cx="155.44" cy="687.07" r="2.1" fill="#ff1f1f"/>
<circle cx="169.7" cy="687.81" r="2.1" fill="#ff1f1f"/>
<circle cx="183.96" cy="687.81" r="2.1" fill="#ff1f1f"/>
<circle cx="198.22" cy="685.3" r="2.1" fill="#ff1f1f"/>
<circle cx="212.48" cy="687.37" r="2.1" fill="#ff1f1f"/>
<line x1="155.44" y1="686.33" x2="155.44" y2="687.81" stroke="#f040e8" stroke-width="0.9"/>
<line x1="154.04" y1="686.33" x2="156.84" y2="686.33" stroke="#f040e8" stroke-width="0.9"/>
<line x1="154.04" y1="687.81" x2="156.84" y2="687.81" stroke="#f040e8" stroke-width="0.9"/>
<line x1="169.7" y1="653" x2="169.7" y2="694.78" stroke="#f040e8" stroke-width="0.9"/>
<line x1="168.3" y1="653" x2="171.1" y2="653" stroke="#f040e8" stroke-width="0.9"/>
<line x1="168.3" y1="694.78" x2="171.1" y2="694.78" stroke="#f040e8" stroke-width="0.9"/>
<line x1="183.96" y1="685.59" x2="183.96" y2="687.07" stroke="#f040e8" stroke-width="0.9"/>
<line x1="182.56" y1="685.59" x2="185.36" y2="685.59" stroke="#f040e8" stroke-width="0.9"/>
<line x1="182.56" y1="687.07" x2="185.36" y2="687.07" stroke="#f040e8" stroke-width="0.9"/>
<line x1="198.22" y1="681.44" x2="198.22" y2="684.85" stroke="#f040e8" stroke-width="0.9"/>
<line x1="196.82" y1="681.44" x2="199.62" y2="681.44" stroke="#f040e8" stroke-width="0.9"/>
<line x1="196.82" y1="684.85" x2="199.62" y2="684.85" stroke="#f040e8" stroke-width="0.9"/>
<line x1="212.48" y1="686.63" x2="212.48" y2="687.52" stroke="#f040e8" stroke-width="0.9"/>
<line x1="211.08" y1="686.63" x2="213.88" y2="686.63" stroke="#f040e8" stroke-width="0.9"/>
<line x1="211.08" y1="687.52" x2="213.88" y2="687.52" stroke="#f040e8" stroke-width="0.9"/>
<polyline points="155.44,687.07 169.7,674.04 183.96,686.33 198.22,682.93 212.48,687.07" fill="none" stroke="#f040e8" stroke-width="1" stroke-linejoin="round" stroke-linecap="round"/>
<circle cx="155.44" cy="687.07" r="2.1" fill="#f040e8"/>
<circle cx="169.7" cy="674.04" r="2.1" fill="#f040e8"/>
<circle cx="183.96" cy="686.33" r="2.1" fill="#f040e8"/>
<circle cx="198.22" cy="682.93" r="2.1" fill="#f040e8"/>
<circle cx="212.48" cy="687.07" r="2.1" fill="#f040e8"/>
<line x1="155.44" y1="684.85" x2="155.44" y2="686.33" stroke="#4da3f5" stroke-width="0.9"/>
<line x1="154.04" y1="684.85" x2="156.84" y2="684.85" stroke="#4da3f5" stroke-width="0.9"/>
<line x1="154.04" y1="686.33" x2="156.84" y2="686.33" stroke="#4da3f5" stroke-width="0.9"/>
<line x1="169.7" y1="684.11" x2="169.7" y2="686.33" stroke="#4da3f5" stroke-width="0.9"/>
<line x1="168.3" y1="684.11" x2="171.1" y2="684.11" stroke="#4da3f5" stroke-width="0.9"/>
<line x1="168.3" y1="686.33" x2="171.1" y2="686.33" stroke="#4da3f5" stroke-width="0.9"/>
<line x1="183.96" y1="685.59" x2="183.96" y2="687.07" stroke="#4da3f5" stroke-width="0.9"/>
<line x1="182.56" y1="685.59" x2="185.36" y2="685.59" stroke="#4da3f5" stroke-width="0.9"/>
<line x1="182.56" y1="687.07" x2="185.36" y2="687.07" stroke="#4da3f5" stroke-width="0.9"/>
<line x1="198.22" y1="685.89" x2="198.22" y2="687.07" stroke="#4da3f5" stroke-width="0.9"/>
<line x1="196.82" y1="685.89" x2="199.62" y2="685.89" stroke="#4da3f5" stroke-width="0.9"/>
<line x1="196.82" y1="687.07" x2="199.62" y2="687.07" stroke="#4da3f5" stroke-width="0.9"/>
<line x1="212.48" y1="686.63" x2="212.48" y2="687.52" stroke="#4da3f5" stroke-width="0.9"/>
<line x1="211.08" y1="686.63" x2="213.88" y2="686.63" stroke="#4da3f5" stroke-width="0.9"/>
<line x1="211.08" y1="687.52" x2="213.88" y2="687.52" stroke="#4da3f5" stroke-width="0.9"/>
<polyline points="155.44,685.59 169.7,685.3 183.96,686.33 198.22,686.63 212.48,687.07" fill="none" stroke="#4da3f5" stroke-width="1" stroke-linejoin="round" stroke-linecap="round"/>
<circle cx="155.44" cy="685.59" r="2.1" fill="#4da3f5"/>
<circle cx="169.7" cy="685.3" r="2.1" fill="#4da3f5"/>
<circle cx="183.96" cy="686.33" r="2.1" fill="#4da3f5"/>
<circle cx="198.22" cy="686.63" r="2.1" fill="#4da3f5"/>
<circle cx="212.48" cy="687.07" r="2.1" fill="#4da3f5"/>
<line x1="141.67" y1="687.37" x2="223.3" y2="687.37" stroke="#555" stroke-width="0.8" stroke-dasharray="1,1.6"/>
<g stroke="#333" fill="none" stroke-width="0.9">
<rect x="241.37" y="617.44" width="82.22" height="81.78"/>
</g>
<line x1="241.37" y1="638.93" x2="323.59" y2="638.93" stroke="#222" stroke-width="1.8"/>
<text x="282.48" y="626.44" font-size="8.1" text-anchor="middle" font-weight="bold" fill="#111">Lactobacillus_</text>
<text x="282.48" y="635.74" font-size="8.1" text-anchor="middle" font-weight="bold" fill="#111">vagina</text>
<line x1="239.07" y1="638.93" x2="241.37" y2="638.93" stroke="#333" stroke-width="0.7"/>
<text x="236.07" y="641.45" font-size="7" text-anchor="end" fill="#333">0.6</text>
<line x1="239.07" y1="655.22" x2="241.37" y2="655.22" stroke="#333" stroke-width="0.7"/>
<text x="236.07" y="657.74" font-size="7" text-anchor="end" fill="#333">0.4</text>
<line x1="239.07" y1="671.52" x2="241.37" y2="671.52" stroke="#333" stroke-width="0.7"/>
<text x="236.07" y="674.04" font-size="7" text-anchor="end" fill="#333">0.2</text>
<line x1="239.07" y1="687.37" x2="241.37" y2="687.37" stroke="#333" stroke-width="0.7"/>
<text x="236.07" y="689.89" font-size="7" text-anchor="end" fill="#333">0.0</text>
<line x1="240.07" y1="647.07" x2="241.37" y2="647.07" stroke="#333" stroke-width="0.6"/>
<line x1="240.07" y1="663.37" x2="241.37" y2="663.37" stroke="#333" stroke-width="0.6"/>
<line x1="240.07" y1="679.37" x2="241.37" y2="679.37" stroke="#333" stroke-width="0.6"/>
<line x1="240.07" y1="695.67" x2="241.37" y2="695.67" stroke="#333" stroke-width="0.6"/>
<line x1="241.67" y1="699.22" x2="241.67" y2="701.42" stroke="#333" stroke-width="0.7"/>
<text x="241.67" y="709.82" font-size="7" text-anchor="middle" fill="#333">0</text>
<line x1="255.89" y1="699.22" x2="255.89" y2="701.42" stroke="#333" stroke-width="0.7"/>
<text x="255.89" y="709.82" font-size="7" text-anchor="middle" fill="#333">2</text>
<line x1="270.11" y1="699.22" x2="270.11" y2="701.42" stroke="#333" stroke-width="0.7"/>
<text x="270.11" y="709.82" font-size="7" text-anchor="middle" fill="#333">4</text>
<line x1="284.33" y1="699.22" x2="284.33" y2="701.42" stroke="#333" stroke-width="0.7"/>
<text x="284.33" y="709.82" font-size="7" text-anchor="middle" fill="#333">6</text>
<line x1="298.56" y1="699.22" x2="298.56" y2="701.42" stroke="#333" stroke-width="0.7"/>
<text x="298.56" y="709.82" font-size="7" text-anchor="middle" fill="#333">8</text>
<line x1="312.78" y1="699.22" x2="312.78" y2="701.42" stroke="#333" stroke-width="0.7"/>
<text x="312.78" y="709.82" font-size="7" text-anchor="middle" fill="#333">10</text>
<text x="282.48" y="717.52" font-size="6.8" text-anchor="middle" font-weight="bold" fill="#111" textLength="65.5" lengthAdjust="spacingAndGlyphs">Mouse age (months)</text>
<line x1="255.89" y1="686.63" x2="255.89" y2="687.52" stroke="#ff1f1f" stroke-width="0.9"/>
<line x1="254.49" y1="686.63" x2="257.29" y2="686.63" stroke="#ff1f1f" stroke-width="0.9"/>
<line x1="254.49" y1="687.52" x2="257.29" y2="687.52" stroke="#ff1f1f" stroke-width="0.9"/>
<line x1="270.11" y1="686.63" x2="270.11" y2="687.52" stroke="#ff1f1f" stroke-width="0.9"/>
<line x1="268.71" y1="686.63" x2="271.51" y2="686.63" stroke="#ff1f1f" stroke-width="0.9"/>
<line x1="268.71" y1="687.52" x2="271.51" y2="687.52" stroke="#ff1f1f" stroke-width="0.9"/>
<line x1="284.33" y1="686.63" x2="284.33" y2="687.52" stroke="#ff1f1f" stroke-width="0.9"/>
<line x1="282.93" y1="686.63" x2="285.73" y2="686.63" stroke="#ff1f1f" stroke-width="0.9"/>
<line x1="282.93" y1="687.52" x2="285.73" y2="687.52" stroke="#ff1f1f" stroke-width="0.9"/>
<line x1="298.56" y1="685.59" x2="298.56" y2="687.07" stroke="#ff1f1f" stroke-width="0.9"/>
<line x1="297.16" y1="685.59" x2="299.96" y2="685.59" stroke="#ff1f1f" stroke-width="0.9"/>
<line x1="297.16" y1="687.07" x2="299.96" y2="687.07" stroke="#ff1f1f" stroke-width="0.9"/>
<line x1="312.78" y1="687.52" x2="312.78" y2="688.85" stroke="#ff1f1f" stroke-width="0.9"/>
<line x1="311.38" y1="687.52" x2="314.18" y2="687.52" stroke="#ff1f1f" stroke-width="0.9"/>
<line x1="311.38" y1="688.85" x2="314.18" y2="688.85" stroke="#ff1f1f" stroke-width="0.9"/>
<polyline points="255.89,687.07 270.11,687.07 284.33,687.07 298.56,686.33 312.78,688.26" fill="none" stroke="#ff1f1f" stroke-width="1" stroke-linejoin="round" stroke-linecap="round"/>
<circle cx="255.89" cy="687.07" r="2.1" fill="#ff1f1f"/>
<circle cx="270.11" cy="687.07" r="2.1" fill="#ff1f1f"/>
<circle cx="284.33" cy="687.07" r="2.1" fill="#ff1f1f"/>
<circle cx="298.56" cy="686.33" r="2.1" fill="#ff1f1f"/>
<circle cx="312.78" cy="688.26" r="2.1" fill="#ff1f1f"/>
<line x1="255.89" y1="686.33" x2="255.89" y2="687.81" stroke="#f040e8" stroke-width="0.9"/>
<line x1="254.49" y1="686.33" x2="257.29" y2="686.33" stroke="#f040e8" stroke-width="0.9"/>
<line x1="254.49" y1="687.81" x2="257.29" y2="687.81" stroke="#f040e8" stroke-width="0.9"/>
<line x1="270.11" y1="673" x2="270.11" y2="689.3" stroke="#f040e8" stroke-width="0.9"/>
<line x1="268.71" y1="673" x2="271.51" y2="673" stroke="#f040e8" stroke-width="0.9"/>
<line x1="268.71" y1="689.3" x2="271.51" y2="689.3" stroke="#f040e8" stroke-width="0.9"/>
<line x1="284.33" y1="684.85" x2="284.33" y2="686.33" stroke="#f040e8" stroke-width="0.9"/>
<line x1="282.93" y1="684.85" x2="285.73" y2="684.85" stroke="#f040e8" stroke-width="0.9"/>
<line x1="282.93" y1="686.33" x2="285.73" y2="686.33" stroke="#f040e8" stroke-width="0.9"/>
<line x1="298.56" y1="684.85" x2="298.56" y2="686.33" stroke="#f040e8" stroke-width="0.9"/>
<line x1="297.16" y1="684.85" x2="299.96" y2="684.85" stroke="#f040e8" stroke-width="0.9"/>
<line x1="297.16" y1="686.33" x2="299.96" y2="686.33" stroke="#f040e8" stroke-width="0.9"/>
<line x1="312.78" y1="686.78" x2="312.78" y2="687.96" stroke="#f040e8" stroke-width="0.9"/>
<line x1="311.38" y1="686.78" x2="314.18" y2="686.78" stroke="#f040e8" stroke-width="0.9"/>
<line x1="311.38" y1="687.96" x2="314.18" y2="687.96" stroke="#f040e8" stroke-width="0.9"/>
<polyline points="255.89,687.07 270.11,681.15 284.33,685.59 298.56,685.59 312.78,687.37" fill="none" stroke="#f040e8" stroke-width="1" stroke-linejoin="round" stroke-linecap="round"/>
<circle cx="255.89" cy="687.07" r="2.1" fill="#f040e8"/>
<circle cx="270.11" cy="681.15" r="2.1" fill="#f040e8"/>
<circle cx="284.33" cy="685.59" r="2.1" fill="#f040e8"/>
<circle cx="298.56" cy="685.59" r="2.1" fill="#f040e8"/>
<circle cx="312.78" cy="687.37" r="2.1" fill="#f040e8"/>
<line x1="255.89" y1="685.89" x2="255.89" y2="687.37" stroke="#4da3f5" stroke-width="0.9"/>
<line x1="254.49" y1="685.89" x2="257.29" y2="685.89" stroke="#4da3f5" stroke-width="0.9"/>
<line x1="254.49" y1="687.37" x2="257.29" y2="687.37" stroke="#4da3f5" stroke-width="0.9"/>
<line x1="270.11" y1="686.33" x2="270.11" y2="687.81" stroke="#4da3f5" stroke-width="0.9"/>
<line x1="268.71" y1="686.33" x2="271.51" y2="686.33" stroke="#4da3f5" stroke-width="0.9"/>
<line x1="268.71" y1="687.81" x2="271.51" y2="687.81" stroke="#4da3f5" stroke-width="0.9"/>
<line x1="284.33" y1="686.63" x2="284.33" y2="687.52" stroke="#4da3f5" stroke-width="0.9"/>
<line x1="282.93" y1="686.63" x2="285.73" y2="686.63" stroke="#4da3f5" stroke-width="0.9"/>
<line x1="282.93" y1="687.52" x2="285.73" y2="687.52" stroke="#4da3f5" stroke-width="0.9"/>
<line x1="298.56" y1="686.63" x2="298.56" y2="687.52" stroke="#4da3f5" stroke-width="0.9"/>
<line x1="297.16" y1="686.63" x2="299.96" y2="686.63" stroke="#4da3f5" stroke-width="0.9"/>
<line x1="297.16" y1="687.52" x2="299.96" y2="687.52" stroke="#4da3f5" stroke-width="0.9"/>
<line x1="312.78" y1="686.04" x2="312.78" y2="687.07" stroke="#4da3f5" stroke-width="0.9"/>
<line x1="311.38" y1="686.04" x2="314.18" y2="686.04" stroke="#4da3f5" stroke-width="0.9"/>
<line x1="311.38" y1="687.07" x2="314.18" y2="687.07" stroke="#4da3f5" stroke-width="0.9"/>
<polyline points="255.89,686.63 270.11,687.07 284.33,687.07 298.56,687.07 312.78,686.63" fill="none" stroke="#4da3f5" stroke-width="1" stroke-linejoin="round" stroke-linecap="round"/>
<circle cx="255.89" cy="686.63" r="2.1" fill="#4da3f5"/>
<circle cx="270.11" cy="687.07" r="2.1" fill="#4da3f5"/>
<circle cx="284.33" cy="687.07" r="2.1" fill="#4da3f5"/>
<circle cx="298.56" cy="687.07" r="2.1" fill="#4da3f5"/>
<circle cx="312.78" cy="686.63" r="2.1" fill="#4da3f5"/>
<line x1="241.67" y1="687.37" x2="323.3" y2="687.37" stroke="#555" stroke-width="0.8" stroke-dasharray="1,1.6"/>
<g stroke="#333" fill="none" stroke-width="0.9">
<rect x="341.63" y="617.44" width="81.93" height="82.22"/>
</g>
<line x1="341.63" y1="639.37" x2="423.56" y2="639.37" stroke="#222" stroke-width="1.8"/>
<text x="382.59" y="626.44" font-size="8.1" text-anchor="middle" font-weight="bold" fill="#111">Mucispirillum_</text>
<text x="382.59" y="635.74" font-size="8.1" text-anchor="middle" font-weight="bold" fill="#111">schaedleri</text>
<line x1="339.33" y1="647.37" x2="341.63" y2="647.37" stroke="#333" stroke-width="0.7"/>
<text x="336.33" y="649.89" font-size="7" text-anchor="end" fill="#333">10</text>
<line x1="339.33" y1="669.3" x2="341.63" y2="669.3" stroke="#333" stroke-width="0.7"/>
<text x="336.33" y="671.82" font-size="7" text-anchor="end" fill="#333">5</text>
<line x1="339.33" y1="691.22" x2="341.63" y2="691.22" stroke="#333" stroke-width="0.7"/>
<text x="336.33" y="693.74" font-size="7" text-anchor="end" fill="#333">0</text>
<line x1="340.33" y1="658.33" x2="341.63" y2="658.33" stroke="#333" stroke-width="0.6"/>
<line x1="340.33" y1="680.26" x2="341.63" y2="680.26" stroke="#333" stroke-width="0.6"/>
<line x1="340.33" y1="640.41" x2="341.63" y2="640.41" stroke="#333" stroke-width="0.6"/>
<line x1="341.44" y1="699.67" x2="341.44" y2="701.87" stroke="#333" stroke-width="0.7"/>
<text x="341.44" y="710.27" font-size="7" text-anchor="middle" fill="#333">0</text>
<line x1="355.7" y1="699.67" x2="355.7" y2="701.87" stroke="#333" stroke-width="0.7"/>
<text x="355.7" y="710.27" font-size="7" text-anchor="middle" fill="#333">2</text>
<line x1="369.96" y1="699.67" x2="369.96" y2="701.87" stroke="#333" stroke-width="0.7"/>
<text x="369.96" y="710.27" font-size="7" text-anchor="middle" fill="#333">4</text>
<line x1="384.22" y1="699.67" x2="384.22" y2="701.87" stroke="#333" stroke-width="0.7"/>
<text x="384.22" y="710.27" font-size="7" text-anchor="middle" fill="#333">6</text>
<line x1="398.48" y1="699.67" x2="398.48" y2="701.87" stroke="#333" stroke-width="0.7"/>
<text x="398.48" y="710.27" font-size="7" text-anchor="middle" fill="#333">8</text>
<line x1="412.74" y1="699.67" x2="412.74" y2="701.87" stroke="#333" stroke-width="0.7"/>
<text x="412.74" y="710.27" font-size="7" text-anchor="middle" fill="#333">10</text>
<text x="382.59" y="717.97" font-size="6.8" text-anchor="middle" font-weight="bold" fill="#111" textLength="65.5" lengthAdjust="spacingAndGlyphs">Mouse age (months)</text>
<line x1="355.7" y1="676.41" x2="355.7" y2="690.04" stroke="#ff1f1f" stroke-width="0.9"/>
<line x1="354.3" y1="676.41" x2="357.1" y2="676.41" stroke="#ff1f1f" stroke-width="0.9"/>
<line x1="354.3" y1="690.04" x2="357.1" y2="690.04" stroke="#ff1f1f" stroke-width="0.9"/>
<line x1="369.96" y1="667.52" x2="369.96" y2="685.59" stroke="#ff1f1f" stroke-width="0.9"/>
<line x1="368.56" y1="667.52" x2="371.36" y2="667.52" stroke="#ff1f1f" stroke-width="0.9"/>
<line x1="368.56" y1="685.59" x2="371.36" y2="685.59" stroke="#ff1f1f" stroke-width="0.9"/>
<line x1="384.22" y1="668.11" x2="384.22" y2="681.15" stroke="#ff1f1f" stroke-width="0.9"/>
<line x1="382.82" y1="668.11" x2="385.62" y2="668.11" stroke="#ff1f1f" stroke-width="0.9"/>
<line x1="382.82" y1="681.15" x2="385.62" y2="681.15" stroke="#ff1f1f" stroke-width="0.9"/>
<line x1="398.48" y1="677.44" x2="398.48" y2="688.56" stroke="#ff1f1f" stroke-width="0.9"/>
<line x1="397.08" y1="677.44" x2="399.88" y2="677.44" stroke="#ff1f1f" stroke-width="0.9"/>
<line x1="397.08" y1="688.56" x2="399.88" y2="688.56" stroke="#ff1f1f" stroke-width="0.9"/>
<line x1="412.74" y1="651.52" x2="412.74" y2="675.22" stroke="#ff1f1f" stroke-width="0.9"/>
<line x1="411.34" y1="651.52" x2="414.14" y2="651.52" stroke="#ff1f1f" stroke-width="0.9"/>
<line x1="411.34" y1="675.22" x2="414.14" y2="675.22" stroke="#ff1f1f" stroke-width="0.9"/>
<polyline points="355.7,683.81 369.96,676.41 384.22,674.93 398.48,683.81 412.74,667.52" fill="none" stroke="#ff1f1f" stroke-width="1" stroke-linejoin="round" stroke-linecap="round"/>
<circle cx="355.7" cy="683.81" r="2.1" fill="#ff1f1f"/>
<circle cx="369.96" cy="676.41" r="2.1" fill="#ff1f1f"/>
<circle cx="384.22" cy="674.93" r="2.1" fill="#ff1f1f"/>
<circle cx="398.48" cy="683.81" r="2.1" fill="#ff1f1f"/>
<circle cx="412.74" cy="667.52" r="2.1" fill="#ff1f1f"/>
<line x1="355.7" y1="687.81" x2="355.7" y2="692.26" stroke="#f040e8" stroke-width="0.9"/>
<line x1="354.3" y1="687.81" x2="357.1" y2="687.81" stroke="#f040e8" stroke-width="0.9"/>
<line x1="354.3" y1="692.26" x2="357.1" y2="692.26" stroke="#f040e8" stroke-width="0.9"/>
<line x1="369.96" y1="654.48" x2="369.96" y2="693" stroke="#f040e8" stroke-width="0.9"/>
<line x1="368.56" y1="654.48" x2="371.36" y2="654.48" stroke="#f040e8" stroke-width="0.9"/>
<line x1="368.56" y1="693" x2="371.36" y2="693" stroke="#f040e8" stroke-width="0.9"/>
<line x1="384.22" y1="688.85" x2="384.22" y2="690.63" stroke="#f040e8" stroke-width="0.9"/>
<line x1="382.82" y1="688.85" x2="385.62" y2="688.85" stroke="#f040e8" stroke-width="0.9"/>
<line x1="382.82" y1="690.63" x2="385.62" y2="690.63" stroke="#f040e8" stroke-width="0.9"/>
<line x1="398.48" y1="682.63" x2="398.48" y2="693.74" stroke="#f040e8" stroke-width="0.9"/>
<line x1="397.08" y1="682.63" x2="399.88" y2="682.63" stroke="#f040e8" stroke-width="0.9"/>
<line x1="397.08" y1="693.74" x2="399.88" y2="693.74" stroke="#f040e8" stroke-width="0.9"/>
<line x1="412.74" y1="651.22" x2="412.74" y2="696.26" stroke="#f040e8" stroke-width="0.9"/>
<line x1="411.34" y1="651.22" x2="414.14" y2="651.22" stroke="#f040e8" stroke-width="0.9"/>
<line x1="411.34" y1="696.26" x2="414.14" y2="696.26" stroke="#f040e8" stroke-width="0.9"/>
<polyline points="355.7,690.04 369.96,673.44 384.22,689.74 398.48,687.81 412.74,673.74" fill="none" stroke="#f040e8" stroke-width="1" stroke-linejoin="round" stroke-linecap="round"/>
<circle cx="355.7" cy="690.04" r="2.1" fill="#f040e8"/>
<circle cx="369.96" cy="673.44" r="2.1" fill="#f040e8"/>
<circle cx="384.22" cy="689.74" r="2.1" fill="#f040e8"/>
<circle cx="398.48" cy="687.81" r="2.1" fill="#f040e8"/>
<circle cx="412.74" cy="673.74" r="2.1" fill="#f040e8"/>
<line x1="355.7" y1="686.33" x2="355.7" y2="690.78" stroke="#4da3f5" stroke-width="0.9"/>
<line x1="354.3" y1="686.33" x2="357.1" y2="686.33" stroke="#4da3f5" stroke-width="0.9"/>
<line x1="354.3" y1="690.78" x2="357.1" y2="690.78" stroke="#4da3f5" stroke-width="0.9"/>
<line x1="369.96" y1="686.33" x2="369.96" y2="690.78" stroke="#4da3f5" stroke-width="0.9"/>
<line x1="368.56" y1="686.33" x2="371.36" y2="686.33" stroke="#4da3f5" stroke-width="0.9"/>
<line x1="368.56" y1="690.78" x2="371.36" y2="690.78" stroke="#4da3f5" stroke-width="0.9"/>
<line x1="384.22" y1="678.19" x2="384.22" y2="684.85" stroke="#4da3f5" stroke-width="0.9"/>
<line x1="382.82" y1="678.19" x2="385.62" y2="678.19" stroke="#4da3f5" stroke-width="0.9"/>
<line x1="382.82" y1="684.85" x2="385.62" y2="684.85" stroke="#4da3f5" stroke-width="0.9"/>
<line x1="398.48" y1="682.33" x2="398.48" y2="688.56" stroke="#4da3f5" stroke-width="0.9"/>
<line x1="397.08" y1="682.33" x2="399.88" y2="682.33" stroke="#4da3f5" stroke-width="0.9"/>
<line x1="397.08" y1="688.56" x2="399.88" y2="688.56" stroke="#4da3f5" stroke-width="0.9"/>
<line x1="412.74" y1="675.22" x2="412.74" y2="681.15" stroke="#4da3f5" stroke-width="0.9"/>
<line x1="411.34" y1="675.22" x2="414.14" y2="675.22" stroke="#4da3f5" stroke-width="0.9"/>
<line x1="411.34" y1="681.15" x2="414.14" y2="681.15" stroke="#4da3f5" stroke-width="0.9"/>
<polyline points="355.7,688.56 369.96,688.56 384.22,681.44 398.48,685.59 412.74,678.19" fill="none" stroke="#4da3f5" stroke-width="1" stroke-linejoin="round" stroke-linecap="round"/>
<circle cx="355.7" cy="688.56" r="2.1" fill="#4da3f5"/>
<circle cx="369.96" cy="688.56" r="2.1" fill="#4da3f5"/>
<circle cx="384.22" cy="681.44" r="2.1" fill="#4da3f5"/>
<circle cx="398.48" cy="685.59" r="2.1" fill="#4da3f5"/>
<circle cx="412.74" cy="678.19" r="2.1" fill="#4da3f5"/>
<polygon points="384.15,657.93 384.92,659.61 386.76,659.83 385.4,661.09 385.76,662.91 384.15,662 382.53,662.91 382.89,661.09 381.53,659.83 383.37,659.61" fill="#f040e8" stroke="none" stroke-width="0.5"/>
<polygon points="412.74,641.93 413.52,643.61 415.36,643.83 414,645.09 414.36,646.91 412.74,646 411.12,646.91 411.49,645.09 410.13,643.83 411.96,643.61" fill="#ff1f1f" stroke="none" stroke-width="0.5"/>
<line x1="341.93" y1="691.22" x2="423.26" y2="691.22" stroke="#555" stroke-width="0.8" stroke-dasharray="1,1.6"/>
<g stroke="#333" fill="none" stroke-width="0.9">
<rect x="443.63" y="615.96" width="81.48" height="82.67"/>
</g>
<line x1="443.63" y1="637.44" x2="525.11" y2="637.44" stroke="#222" stroke-width="1.8"/>
<text x="484.37" y="624.96" font-size="8.1" text-anchor="middle" font-weight="bold" fill="#111">Olsenella_</text>
<text x="484.37" y="634.26" font-size="8.1" text-anchor="middle" font-weight="bold" fill="#111">profusa</text>
<line x1="441.33" y1="648.26" x2="443.63" y2="648.26" stroke="#333" stroke-width="0.7"/>
<text x="438.33" y="650.78" font-size="7" text-anchor="end" fill="#333">0.04</text>
<line x1="441.33" y1="668.11" x2="443.63" y2="668.11" stroke="#333" stroke-width="0.7"/>
<text x="438.33" y="670.63" font-size="7" text-anchor="end" fill="#333">0.02</text>
<line x1="441.33" y1="688.56" x2="443.63" y2="688.56" stroke="#333" stroke-width="0.7"/>
<text x="438.33" y="691.08" font-size="7" text-anchor="end" fill="#333">0.00</text>
<line x1="442.33" y1="638.48" x2="443.63" y2="638.48" stroke="#333" stroke-width="0.6"/>
<line x1="442.33" y1="658.19" x2="443.63" y2="658.19" stroke="#333" stroke-width="0.6"/>
<line x1="442.33" y1="678.19" x2="443.63" y2="678.19" stroke="#333" stroke-width="0.6"/>
<line x1="443.44" y1="698.63" x2="443.44" y2="700.83" stroke="#333" stroke-width="0.7"/>
<text x="443.44" y="709.23" font-size="7" text-anchor="middle" fill="#333">0</text>
<line x1="457.7" y1="698.63" x2="457.7" y2="700.83" stroke="#333" stroke-width="0.7"/>
<text x="457.7" y="709.23" font-size="7" text-anchor="middle" fill="#333">2</text>
<line x1="471.96" y1="698.63" x2="471.96" y2="700.83" stroke="#333" stroke-width="0.7"/>
<text x="471.96" y="709.23" font-size="7" text-anchor="middle" fill="#333">4</text>
<line x1="486.22" y1="698.63" x2="486.22" y2="700.83" stroke="#333" stroke-width="0.7"/>
<text x="486.22" y="709.23" font-size="7" text-anchor="middle" fill="#333">6</text>
<line x1="500.48" y1="698.63" x2="500.48" y2="700.83" stroke="#333" stroke-width="0.7"/>
<text x="500.48" y="709.23" font-size="7" text-anchor="middle" fill="#333">8</text>
<line x1="514.74" y1="698.63" x2="514.74" y2="700.83" stroke="#333" stroke-width="0.7"/>
<text x="514.74" y="709.23" font-size="7" text-anchor="middle" fill="#333">10</text>
<text x="484.37" y="716.93" font-size="6.8" text-anchor="middle" font-weight="bold" fill="#111" textLength="65.5" lengthAdjust="spacingAndGlyphs">Mouse age (months)</text>
<line x1="457.7" y1="687.81" x2="457.7" y2="689.3" stroke="#ff1f1f" stroke-width="0.9"/>
<line x1="456.3" y1="687.81" x2="459.1" y2="687.81" stroke="#ff1f1f" stroke-width="0.9"/>
<line x1="456.3" y1="689.3" x2="459.1" y2="689.3" stroke="#ff1f1f" stroke-width="0.9"/>
<line x1="471.96" y1="681.89" x2="471.96" y2="688.56" stroke="#ff1f1f" stroke-width="0.9"/>
<line x1="470.56" y1="681.89" x2="473.36" y2="681.89" stroke="#ff1f1f" stroke-width="0.9"/>
<line x1="470.56" y1="688.56" x2="473.36" y2="688.56" stroke="#ff1f1f" stroke-width="0.9"/>
<line x1="486.22" y1="685.59" x2="486.22" y2="692.26" stroke="#ff1f1f" stroke-width="0.9"/>
<line x1="484.82" y1="685.59" x2="487.62" y2="685.59" stroke="#ff1f1f" stroke-width="0.9"/>
<line x1="484.82" y1="692.26" x2="487.62" y2="692.26" stroke="#ff1f1f" stroke-width="0.9"/>
<line x1="500.48" y1="684.85" x2="500.48" y2="687.07" stroke="#ff1f1f" stroke-width="0.9"/>
<line x1="499.08" y1="684.85" x2="501.88" y2="684.85" stroke="#ff1f1f" stroke-width="0.9"/>
<line x1="499.08" y1="687.07" x2="501.88" y2="687.07" stroke="#ff1f1f" stroke-width="0.9"/>
<line x1="514.74" y1="687.07" x2="514.74" y2="688.56" stroke="#ff1f1f" stroke-width="0.9"/>
<line x1="513.34" y1="687.07" x2="516.14" y2="687.07" stroke="#ff1f1f" stroke-width="0.9"/>
<line x1="513.34" y1="688.56" x2="516.14" y2="688.56" stroke="#ff1f1f" stroke-width="0.9"/>
<polyline points="457.7,688.56 471.96,685.89 486.22,688.56 500.48,685.89 514.74,687.81" fill="none" stroke="#ff1f1f" stroke-width="1" stroke-linejoin="round" stroke-linecap="round"/>
<circle cx="457.7" cy="688.56" r="2.1" fill="#ff1f1f"/>
<circle cx="471.96" cy="685.89" r="2.1" fill="#ff1f1f"/>
<circle cx="486.22" cy="688.56" r="2.1" fill="#ff1f1f"/>
<circle cx="500.48" cy="685.89" r="2.1" fill="#ff1f1f"/>
<circle cx="514.74" cy="687.81" r="2.1" fill="#ff1f1f"/>
<line x1="457.7" y1="675.22" x2="457.7" y2="686.33" stroke="#f040e8" stroke-width="0.9"/>
<line x1="456.3" y1="675.22" x2="459.1" y2="675.22" stroke="#f040e8" stroke-width="0.9"/>
<line x1="456.3" y1="686.33" x2="459.1" y2="686.33" stroke="#f040e8" stroke-width="0.9"/>
<line x1="471.96" y1="659.22" x2="471.96" y2="687.07" stroke="#f040e8" stroke-width="0.9"/>
<line x1="470.56" y1="659.22" x2="473.36" y2="659.22" stroke="#f040e8" stroke-width="0.9"/>
<line x1="470.56" y1="687.07" x2="473.36" y2="687.07" stroke="#f040e8" stroke-width="0.9"/>
<line x1="486.22" y1="674.48" x2="486.22" y2="691.52" stroke="#f040e8" stroke-width="0.9"/>
<line x1="484.82" y1="674.48" x2="487.62" y2="674.48" stroke="#f040e8" stroke-width="0.9"/>
<line x1="484.82" y1="691.52" x2="487.62" y2="691.52" stroke="#f040e8" stroke-width="0.9"/>
<line x1="500.48" y1="675.96" x2="500.48" y2="688.56" stroke="#f040e8" stroke-width="0.9"/>
<line x1="499.08" y1="675.96" x2="501.88" y2="675.96" stroke="#f040e8" stroke-width="0.9"/>
<line x1="499.08" y1="688.56" x2="501.88" y2="688.56" stroke="#f040e8" stroke-width="0.9"/>
<line x1="514.74" y1="671.52" x2="514.74" y2="684.11" stroke="#f040e8" stroke-width="0.9"/>
<line x1="513.34" y1="671.52" x2="516.14" y2="671.52" stroke="#f040e8" stroke-width="0.9"/>
<line x1="513.34" y1="684.11" x2="516.14" y2="684.11" stroke="#f040e8" stroke-width="0.9"/>
<polyline points="457.7,681.44 471.96,674.48 486.22,683.37 500.48,682.63 514.74,677.89" fill="none" stroke="#f040e8" stroke-width="1" stroke-linejoin="round" stroke-linecap="round"/>
<circle cx="457.7" cy="681.44" r="2.1" fill="#f040e8"/>
<circle cx="471.96" cy="674.48" r="2.1" fill="#f040e8"/>
<circle cx="486.22" cy="683.37" r="2.1" fill="#f040e8"/>
<circle cx="500.48" cy="682.63" r="2.1" fill="#f040e8"/>
<circle cx="514.74" cy="677.89" r="2.1" fill="#f040e8"/>
<line x1="457.7" y1="684.41" x2="457.7" y2="690.04" stroke="#4da3f5" stroke-width="0.9"/>
<line x1="456.3" y1="684.41" x2="459.1" y2="684.41" stroke="#4da3f5" stroke-width="0.9"/>
<line x1="456.3" y1="690.04" x2="459.1" y2="690.04" stroke="#4da3f5" stroke-width="0.9"/>
<line x1="471.96" y1="687.81" x2="471.96" y2="689.3" stroke="#4da3f5" stroke-width="0.9"/>
<line x1="470.56" y1="687.81" x2="473.36" y2="687.81" stroke="#4da3f5" stroke-width="0.9"/>
<line x1="470.56" y1="689.3" x2="473.36" y2="689.3" stroke="#4da3f5" stroke-width="0.9"/>
<line x1="486.22" y1="681.15" x2="486.22" y2="688.56" stroke="#4da3f5" stroke-width="0.9"/>
<line x1="484.82" y1="681.15" x2="487.62" y2="681.15" stroke="#4da3f5" stroke-width="0.9"/>
<line x1="484.82" y1="688.56" x2="487.62" y2="688.56" stroke="#4da3f5" stroke-width="0.9"/>
<line x1="500.48" y1="684.41" x2="500.48" y2="687.81" stroke="#4da3f5" stroke-width="0.9"/>
<line x1="499.08" y1="684.41" x2="501.88" y2="684.41" stroke="#4da3f5" stroke-width="0.9"/>
<line x1="499.08" y1="687.81" x2="501.88" y2="687.81" stroke="#4da3f5" stroke-width="0.9"/>
<line x1="514.74" y1="685.59" x2="514.74" y2="689.3" stroke="#4da3f5" stroke-width="0.9"/>
<line x1="513.34" y1="685.59" x2="516.14" y2="685.59" stroke="#4da3f5" stroke-width="0.9"/>
<line x1="513.34" y1="689.3" x2="516.14" y2="689.3" stroke="#4da3f5" stroke-width="0.9"/>
<polyline points="457.7,686.33 471.96,688.56 486.22,684.85 500.48,685.89 514.74,687.81" fill="none" stroke="#4da3f5" stroke-width="1" stroke-linejoin="round" stroke-linecap="round"/>
<circle cx="457.7" cy="686.33" r="2.1" fill="#4da3f5"/>
<circle cx="471.96" cy="688.56" r="2.1" fill="#4da3f5"/>
<circle cx="486.22" cy="684.85" r="2.1" fill="#4da3f5"/>
<circle cx="500.48" cy="685.89" r="2.1" fill="#4da3f5"/>
<circle cx="514.74" cy="687.81" r="2.1" fill="#4da3f5"/>
<line x1="443.93" y1="688.56" x2="524.81" y2="688.56" stroke="#555" stroke-width="0.8" stroke-dasharray="1,1.6"/>
<g stroke="#333" fill="none" stroke-width="0.9">
<rect x="543.37" y="615.96" width="82.22" height="82.67"/>
</g>
<line x1="543.37" y1="637.44" x2="625.59" y2="637.44" stroke="#222" stroke-width="1.8"/>
<text x="584.48" y="624.96" font-size="8.1" text-anchor="middle" font-weight="bold" fill="#111">Parabacteroides_</text>
<text x="584.48" y="634.26" font-size="8.1" text-anchor="middle" font-weight="bold" fill="#111">gordonii</text>
<line x1="541.07" y1="637.44" x2="543.37" y2="637.44" stroke="#333" stroke-width="0.7"/>
<text x="538.07" y="639.96" font-size="7" text-anchor="end" fill="#333">1.0</text>
<line x1="541.07" y1="650.04" x2="543.37" y2="650.04" stroke="#333" stroke-width="0.7"/>
<text x="538.07" y="652.56" font-size="7" text-anchor="end" fill="#333">0.8</text>
<line x1="541.07" y1="662.19" x2="543.37" y2="662.19" stroke="#333" stroke-width="0.7"/>
<text x="538.07" y="664.71" font-size="7" text-anchor="end" fill="#333">0.6</text>
<line x1="541.07" y1="674.19" x2="543.37" y2="674.19" stroke="#333" stroke-width="0.7"/>
<text x="538.07" y="676.71" font-size="7" text-anchor="end" fill="#333">0.4</text>
<line x1="541.07" y1="686.33" x2="543.37" y2="686.33" stroke="#333" stroke-width="0.7"/>
<text x="538.07" y="688.85" font-size="7" text-anchor="end" fill="#333">0.2</text>
<line x1="541.07" y1="698.63" x2="543.37" y2="698.63" stroke="#333" stroke-width="0.7"/>
<text x="538.07" y="701.15" font-size="7" text-anchor="end" fill="#333">0.0</text>
<line x1="542.07" y1="643.67" x2="543.37" y2="643.67" stroke="#333" stroke-width="0.6"/>
<line x1="542.07" y1="656.11" x2="543.37" y2="656.11" stroke="#333" stroke-width="0.6"/>
<line x1="542.07" y1="668.11" x2="543.37" y2="668.11" stroke="#333" stroke-width="0.6"/>
<line x1="542.07" y1="680.26" x2="543.37" y2="680.26" stroke="#333" stroke-width="0.6"/>
<line x1="542.07" y1="692.41" x2="543.37" y2="692.41" stroke="#333" stroke-width="0.6"/>
<line x1="543.67" y1="698.63" x2="543.67" y2="700.83" stroke="#333" stroke-width="0.7"/>
<text x="543.67" y="709.23" font-size="7" text-anchor="middle" fill="#333">0</text>
<line x1="557.89" y1="698.63" x2="557.89" y2="700.83" stroke="#333" stroke-width="0.7"/>
<text x="557.89" y="709.23" font-size="7" text-anchor="middle" fill="#333">2</text>
<line x1="572.11" y1="698.63" x2="572.11" y2="700.83" stroke="#333" stroke-width="0.7"/>
<text x="572.11" y="709.23" font-size="7" text-anchor="middle" fill="#333">4</text>
<line x1="586.33" y1="698.63" x2="586.33" y2="700.83" stroke="#333" stroke-width="0.7"/>
<text x="586.33" y="709.23" font-size="7" text-anchor="middle" fill="#333">6</text>
<line x1="600.56" y1="698.63" x2="600.56" y2="700.83" stroke="#333" stroke-width="0.7"/>
<text x="600.56" y="709.23" font-size="7" text-anchor="middle" fill="#333">8</text>
<line x1="614.78" y1="698.63" x2="614.78" y2="700.83" stroke="#333" stroke-width="0.7"/>
<text x="614.78" y="709.23" font-size="7" text-anchor="middle" fill="#333">10</text>
<text x="584.48" y="716.93" font-size="6.8" text-anchor="middle" font-weight="bold" fill="#111" textLength="65.5" lengthAdjust="spacingAndGlyphs">Mouse age (months)</text>
<line x1="557.89" y1="660.7" x2="557.89" y2="682.63" stroke="#ff1f1f" stroke-width="0.9"/>
<line x1="556.49" y1="660.7" x2="559.29" y2="660.7" stroke="#ff1f1f" stroke-width="0.9"/>
<line x1="556.49" y1="682.63" x2="559.29" y2="682.63" stroke="#ff1f1f" stroke-width="0.9"/>
<line x1="572.11" y1="672.26" x2="572.11" y2="680.41" stroke="#ff1f1f" stroke-width="0.9"/>
<line x1="570.71" y1="672.26" x2="573.51" y2="672.26" stroke="#ff1f1f" stroke-width="0.9"/>
<line x1="570.71" y1="680.41" x2="573.51" y2="680.41" stroke="#ff1f1f" stroke-width="0.9"/>
<line x1="586.33" y1="670.04" x2="586.33" y2="684.11" stroke="#ff1f1f" stroke-width="0.9"/>
<line x1="584.93" y1="670.04" x2="587.73" y2="670.04" stroke="#ff1f1f" stroke-width="0.9"/>
<line x1="584.93" y1="684.11" x2="587.73" y2="684.11" stroke="#ff1f1f" stroke-width="0.9"/>
<line x1="600.56" y1="655.22" x2="600.56" y2="664.85" stroke="#ff1f1f" stroke-width="0.9"/>
<line x1="599.16" y1="655.22" x2="601.96" y2="655.22" stroke="#ff1f1f" stroke-width="0.9"/>
<line x1="599.16" y1="664.85" x2="601.96" y2="664.85" stroke="#ff1f1f" stroke-width="0.9"/>
<line x1="614.78" y1="676.41" x2="614.78" y2="684.11" stroke="#ff1f1f" stroke-width="0.9"/>
<line x1="613.38" y1="676.41" x2="616.18" y2="676.41" stroke="#ff1f1f" stroke-width="0.9"/>
<line x1="613.38" y1="684.11" x2="616.18" y2="684.11" stroke="#ff1f1f" stroke-width="0.9"/>
<polyline points="557.89,671.96 572.11,676.41 586.33,677.44 600.56,660.11 614.78,681.89" fill="none" stroke="#ff1f1f" stroke-width="1" stroke-linejoin="round" stroke-linecap="round"/>
<circle cx="557.89" cy="671.96" r="2.1" fill="#ff1f1f"/>
<circle cx="572.11" cy="676.41" r="2.1" fill="#ff1f1f"/>
<circle cx="586.33" cy="677.44" r="2.1" fill="#ff1f1f"/>
<circle cx="600.56" cy="660.11" r="2.1" fill="#ff1f1f"/>
<circle cx="614.78" cy="681.89" r="2.1" fill="#ff1f1f"/>
<line x1="557.89" y1="691.52" x2="557.89" y2="693.74" stroke="#f040e8" stroke-width="0.9"/>
<line x1="556.49" y1="691.52" x2="559.29" y2="691.52" stroke="#f040e8" stroke-width="0.9"/>
<line x1="556.49" y1="693.74" x2="559.29" y2="693.74" stroke="#f040e8" stroke-width="0.9"/>
<line x1="572.11" y1="689.3" x2="572.11" y2="697.44" stroke="#f040e8" stroke-width="0.9"/>
<line x1="570.71" y1="689.3" x2="573.51" y2="689.3" stroke="#f040e8" stroke-width="0.9"/>
<line x1="570.71" y1="697.44" x2="573.51" y2="697.44" stroke="#f040e8" stroke-width="0.9"/>
<line x1="586.33" y1="685.59" x2="586.33" y2="695.22" stroke="#f040e8" stroke-width="0.9"/>
<line x1="584.93" y1="685.59" x2="587.73" y2="685.59" stroke="#f040e8" stroke-width="0.9"/>
<line x1="584.93" y1="695.22" x2="587.73" y2="695.22" stroke="#f040e8" stroke-width="0.9"/>
<line x1="600.56" y1="669.3" x2="600.56" y2="690.04" stroke="#f040e8" stroke-width="0.9"/>
<line x1="599.16" y1="669.3" x2="601.96" y2="669.3" stroke="#f040e8" stroke-width="0.9"/>
<line x1="599.16" y1="690.04" x2="601.96" y2="690.04" stroke="#f040e8" stroke-width="0.9"/>
<line x1="614.78" y1="693" x2="614.78" y2="695.22" stroke="#f040e8" stroke-width="0.9"/>
<line x1="613.38" y1="693" x2="616.18" y2="693" stroke="#f040e8" stroke-width="0.9"/>
<line x1="613.38" y1="695.22" x2="616.18" y2="695.22" stroke="#f040e8" stroke-width="0.9"/>
<polyline points="557.89,692.7 572.11,693 586.33,690.04 600.56,679.67 614.78,694.19" fill="none" stroke="#f040e8" stroke-width="1" stroke-linejoin="round" stroke-linecap="round"/>
<circle cx="557.89" cy="692.7" r="2.1" fill="#f040e8"/>
<circle cx="572.11" cy="693" r="2.1" fill="#f040e8"/>
<circle cx="586.33" cy="690.04" r="2.1" fill="#f040e8"/>
<circle cx="600.56" cy="679.67" r="2.1" fill="#f040e8"/>
<circle cx="614.78" cy="694.19" r="2.1" fill="#f040e8"/>
<line x1="557.89" y1="682.63" x2="557.89" y2="692.26" stroke="#4da3f5" stroke-width="0.9"/>
<line x1="556.49" y1="682.63" x2="559.29" y2="682.63" stroke="#4da3f5" stroke-width="0.9"/>
<line x1="556.49" y1="692.26" x2="559.29" y2="692.26" stroke="#4da3f5" stroke-width="0.9"/>
<line x1="572.11" y1="688.56" x2="572.11" y2="695.22" stroke="#4da3f5" stroke-width="0.9"/>
<line x1="570.71" y1="688.56" x2="573.51" y2="688.56" stroke="#4da3f5" stroke-width="0.9"/>
<line x1="570.71" y1="695.22" x2="573.51" y2="695.22" stroke="#4da3f5" stroke-width="0.9"/>
<line x1="586.33" y1="679.67" x2="586.33" y2="691.52" stroke="#4da3f5" stroke-width="0.9"/>
<line x1="584.93" y1="679.67" x2="587.73" y2="679.67" stroke="#4da3f5" stroke-width="0.9"/>
<line x1="584.93" y1="691.52" x2="587.73" y2="691.52" stroke="#4da3f5" stroke-width="0.9"/>
<line x1="600.56" y1="680.41" x2="600.56" y2="695.22" stroke="#4da3f5" stroke-width="0.9"/>
<line x1="599.16" y1="680.41" x2="601.96" y2="680.41" stroke="#4da3f5" stroke-width="0.9"/>
<line x1="599.16" y1="695.22" x2="601.96" y2="695.22" stroke="#4da3f5" stroke-width="0.9"/>
<line x1="614.78" y1="684.11" x2="614.78" y2="693" stroke="#4da3f5" stroke-width="0.9"/>
<line x1="613.38" y1="684.11" x2="616.18" y2="684.11" stroke="#4da3f5" stroke-width="0.9"/>
<line x1="613.38" y1="693" x2="616.18" y2="693" stroke="#4da3f5" stroke-width="0.9"/>
<polyline points="557.89,687.37 572.11,692.26 586.33,685.3 600.56,688.26 614.78,688.56" fill="none" stroke="#4da3f5" stroke-width="1" stroke-linejoin="round" stroke-linecap="round"/>
<circle cx="557.89" cy="687.37" r="2.1" fill="#4da3f5"/>
<circle cx="572.11" cy="692.26" r="2.1" fill="#4da3f5"/>
<circle cx="586.33" cy="685.3" r="2.1" fill="#4da3f5"/>
<circle cx="600.56" cy="688.26" r="2.1" fill="#4da3f5"/>
<circle cx="614.78" cy="688.56" r="2.1" fill="#4da3f5"/>
<polygon points="571.52,663.12 572.29,664.8 574.13,665.02 572.77,666.28 573.13,668.09 571.52,667.19 569.9,668.09 570.26,666.28 568.9,665.02 570.74,664.8" fill="#ff1f1f" stroke="none" stroke-width="0.5"/>
<polygon points="599.96,646.38 600.74,648.06 602.58,648.28 601.22,649.53 601.58,651.35 599.96,650.45 598.35,651.35 598.71,649.53 597.35,648.28 599.19,648.06" fill="#ff1f1f" stroke="none" stroke-width="0.5"/>
<text x="17.6" y="561.3" font-size="7" text-anchor="middle" font-weight="bold" fill="#111" transform="rotate(-90 17.6 561.3)" textLength="74" lengthAdjust="spacingAndGlyphs">Relative abundance (%)</text>
<text x="18.6" y="667.2" font-size="7" text-anchor="middle" font-weight="bold" fill="#111" transform="rotate(-90 18.6 667.2)" textLength="72" lengthAdjust="spacingAndGlyphs">Relative abundance (%)</text>
<line x1="631" y1="643.8" x2="640" y2="643.8" stroke="#4da3f5" stroke-width="1"/>
<circle cx="635.5" cy="643.8" r="2.0" fill="#4da3f5"/>
<text x="644.8" y="646.7" font-size="7.8" text-anchor="start" fill="#111">Healthy</text>
<line x1="631" y1="653.05" x2="640" y2="653.05" stroke="#f040e8" stroke-width="1"/>
<circle cx="635.5" cy="653.05" r="2.0" fill="#f040e8"/>
<text x="644.8" y="655.95" font-size="7.8" text-anchor="start" fill="#111">Pristane</text>
<line x1="631" y1="662.3" x2="640" y2="662.3" stroke="#ff1f1f" stroke-width="1"/>
<circle cx="635.5" cy="662.3" r="2.0" fill="#ff1f1f"/>
<text x="644.8" y="665.2" font-size="7.8" text-anchor="start" fill="#111">Knockout</text>
</svg></body></html>
